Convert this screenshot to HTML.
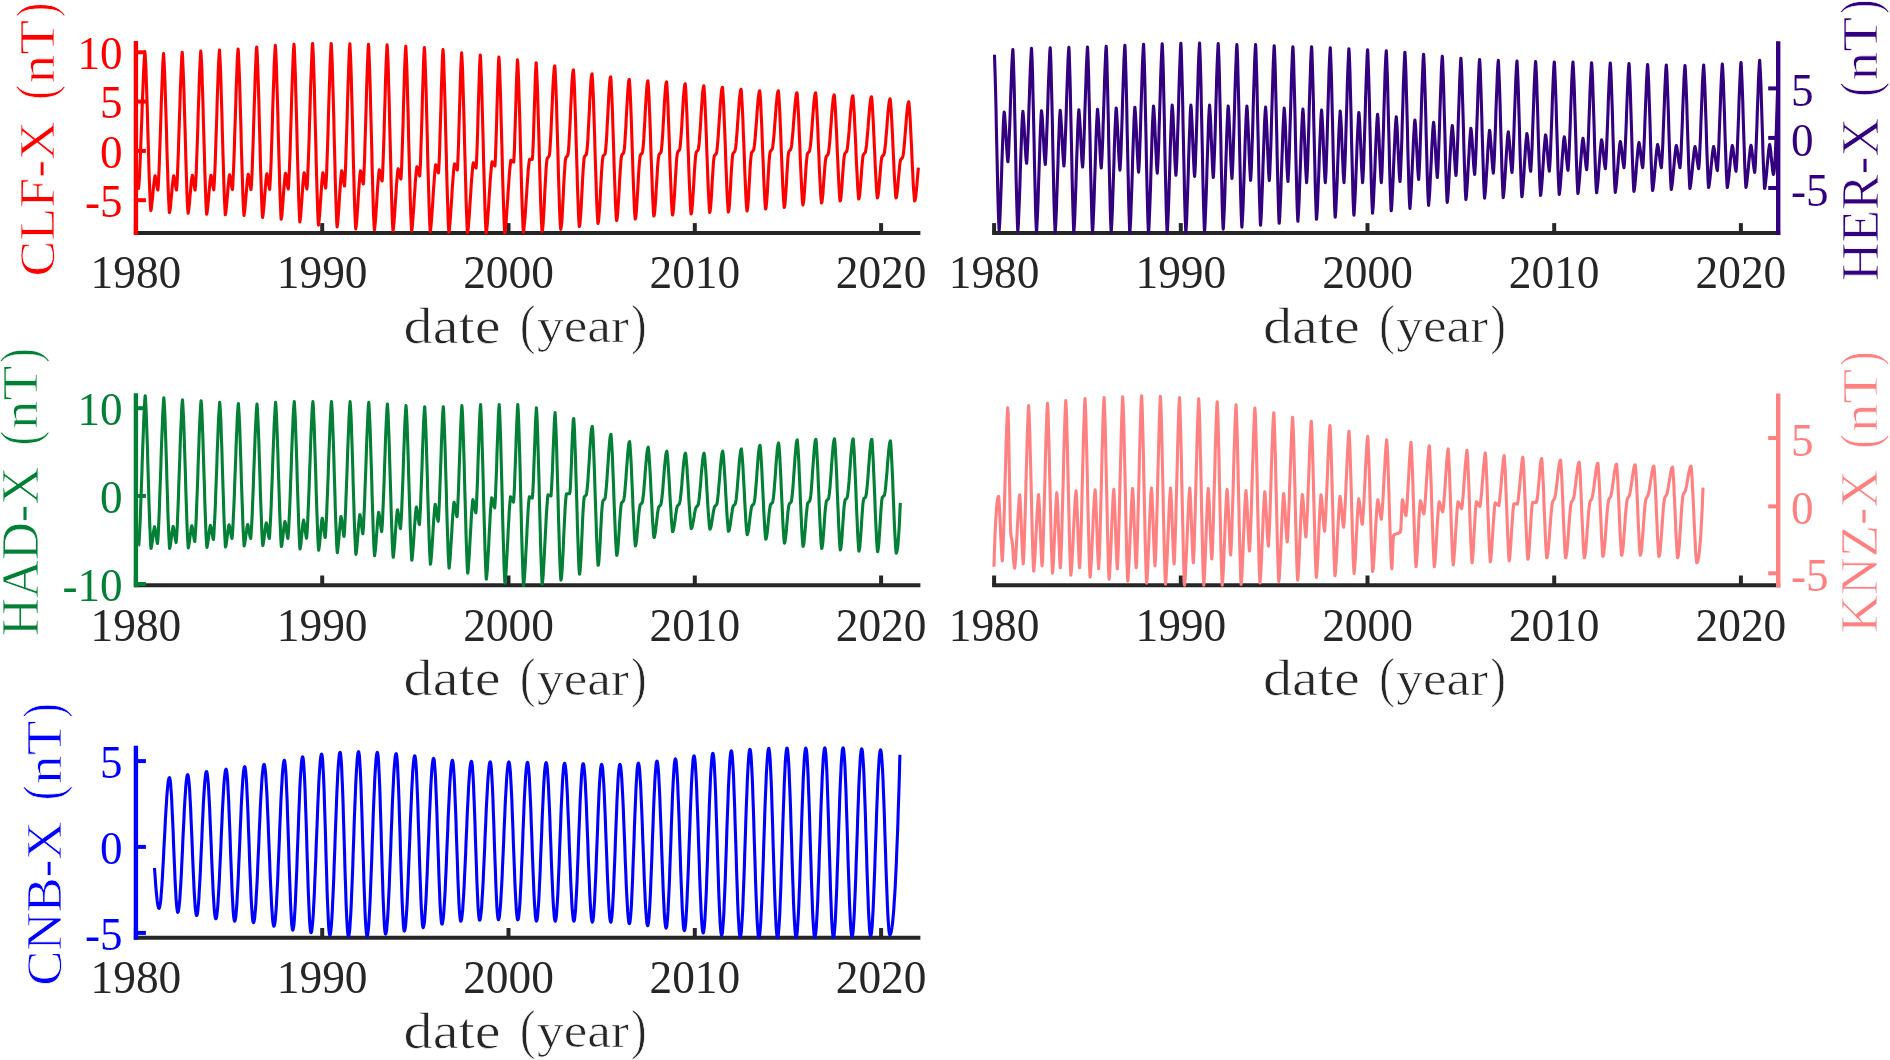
<!DOCTYPE html>
<html><head><meta charset="utf-8"><style>html,body{margin:0;padding:0;background:#fff;overflow:hidden;}svg{display:block;will-change:transform;}</style></head><body>
<svg width="1890" height="1060" viewBox="0 0 1890 1060">
<rect width="1890" height="1060" fill="#fff"/>
<defs>
<clipPath id="c0"><rect x="133.9" y="39.0" width="786.5" height="195.5"/></clipPath>
<clipPath id="c1"><rect x="992.1" y="39.2" width="788.1" height="195.3"/></clipPath>
<clipPath id="c2"><rect x="133.9" y="391.3" width="786.5" height="195.6"/></clipPath>
<clipPath id="c3"><rect x="992.1" y="391.5" width="788.1" height="195.4"/></clipPath>
<clipPath id="c4"><rect x="133.9" y="743.8" width="786.5" height="195.6"/></clipPath>
</defs>
<g font-family="'Liberation Serif', serif">
<line x1="133.9" y1="232.9" x2="920.4" y2="232.9" stroke="#262626" stroke-width="4"/>
<line x1="135.9" y1="232.9" x2="135.9" y2="223.1" stroke="#262626" stroke-width="4"/>
<text transform="translate(135.90 288.30) scale(0.965 1)" font-size="47" text-anchor="middle" fill="#262626">1980</text>
<line x1="322.2" y1="232.9" x2="322.2" y2="223.1" stroke="#262626" stroke-width="4"/>
<text transform="translate(322.20 288.30) scale(0.965 1)" font-size="47" text-anchor="middle" fill="#262626">1990</text>
<line x1="508.5" y1="232.9" x2="508.5" y2="223.1" stroke="#262626" stroke-width="4"/>
<text transform="translate(508.50 288.30) scale(0.965 1)" font-size="47" text-anchor="middle" fill="#262626">2000</text>
<line x1="694.8" y1="232.9" x2="694.8" y2="223.1" stroke="#262626" stroke-width="4"/>
<text transform="translate(694.80 288.30) scale(0.965 1)" font-size="47" text-anchor="middle" fill="#262626">2010</text>
<line x1="881.1" y1="232.9" x2="881.1" y2="223.1" stroke="#262626" stroke-width="4"/>
<text transform="translate(881.10 288.30) scale(0.965 1)" font-size="47" text-anchor="middle" fill="#262626">2020</text>
<line x1="135.9" y1="41.0" x2="135.9" y2="234.9" stroke="#ff0000" stroke-width="4.4"/>
<line x1="135.9" y1="52.3" x2="145.9" y2="52.3" stroke="#ff0000" stroke-width="4"/>
<text transform="translate(122.6 69.10) scale(0.96 1)" font-size="47" text-anchor="end" fill="#ff0000">10</text>
<line x1="135.9" y1="101.6" x2="145.9" y2="101.6" stroke="#ff0000" stroke-width="4"/>
<text transform="translate(122.6 118.40) scale(0.96 1)" font-size="47" text-anchor="end" fill="#ff0000">5</text>
<line x1="135.9" y1="150.9" x2="145.9" y2="150.9" stroke="#ff0000" stroke-width="4"/>
<text transform="translate(122.6 167.70) scale(0.96 1)" font-size="47" text-anchor="end" fill="#ff0000">0</text>
<line x1="135.9" y1="200.2" x2="145.9" y2="200.2" stroke="#ff0000" stroke-width="4"/>
<text transform="translate(122.6 217.00) scale(0.96 1)" font-size="47" text-anchor="end" fill="#ff0000">-5</text>
<path clip-path="url(#c0)" d="M137.8 188.4 138.1 188.5 138.5 188.5 138.9 184.9 139.3 179.4 139.6 172.6 140.0 164.7 140.4 156.0 140.7 146.6 141.1 136.8 141.5 126.6 141.9 116.3 142.2 106.1 142.6 96.1 143.0 86.6 143.4 77.7 143.7 69.6 144.1 62.5 144.5 56.6 144.8 52.4 144.9 51.8 145.2 55.0 145.6 61.8 146.0 70.4 146.3 80.5 146.7 91.7 147.1 103.8 147.5 116.5 147.8 129.6 148.2 142.6 148.6 155.5 148.9 167.7 149.3 179.2 149.7 189.6 150.1 198.6 150.4 205.9 150.8 210.6 150.8 210.6 151.2 209.0 151.5 206.5 151.9 203.5 152.3 199.9 152.7 196.1 153.0 192.2 153.4 188.3 153.8 184.7 154.2 181.3 154.5 178.5 154.9 176.4 155.1 175.8 155.3 176.2 155.6 177.8 156.0 179.9 156.4 182.3 156.8 184.7 157.1 187.0 157.5 188.9 157.9 190.0 157.9 190.0 158.3 185.8 158.6 179.2 159.0 171.1 159.4 161.8 159.7 151.5 160.1 140.5 160.5 129.1 160.9 117.4 161.2 105.9 161.6 94.8 162.0 84.3 162.4 74.7 162.7 66.3 163.1 59.3 163.5 54.3 163.6 53.6 163.8 56.8 164.2 63.6 164.6 72.2 165.0 82.3 165.3 93.6 165.7 105.7 166.1 118.4 166.5 131.5 166.8 144.6 167.2 157.5 167.6 169.8 167.9 181.2 168.3 191.7 168.7 200.7 169.1 208.0 169.4 212.7 169.4 212.7 169.8 211.0 170.2 208.4 170.6 205.1 170.9 201.4 171.3 197.4 171.7 193.2 172.0 189.1 172.4 185.2 172.8 181.7 173.2 178.7 173.5 176.5 173.7 175.8 173.9 176.2 174.3 177.8 174.7 179.9 175.0 182.3 175.4 184.7 175.8 187.0 176.1 188.9 176.5 190.0 176.5 190.0 176.9 185.8 177.3 179.1 177.6 170.9 178.0 161.5 178.4 151.1 178.7 140.0 179.1 128.4 179.5 116.7 179.9 105.1 180.2 93.8 180.6 83.2 181.0 73.5 181.4 65.0 181.7 57.9 182.1 52.9 182.2 52.2 182.5 55.4 182.8 62.3 183.2 71.1 183.6 81.3 184.0 92.7 184.3 105.0 184.7 117.9 185.1 131.1 185.5 144.4 185.8 157.4 186.2 169.8 186.6 181.5 186.9 192.0 187.3 201.1 187.7 208.6 188.1 213.3 188.1 213.3 188.4 211.6 188.8 208.9 189.2 205.5 189.6 201.7 189.9 197.5 190.3 193.2 190.7 189.0 191.0 185.0 191.4 181.3 191.8 178.3 192.2 176.0 192.3 175.3 192.5 175.8 192.9 177.4 193.3 179.5 193.7 182.0 194.0 184.5 194.4 186.9 194.8 188.8 195.1 190.0 195.1 190.0 195.5 185.7 195.9 179.0 196.3 170.8 196.6 161.3 197.0 150.8 197.4 139.6 197.8 127.9 198.1 116.1 198.5 104.4 198.9 93.1 199.2 82.4 199.6 72.6 200.0 64.0 200.4 56.9 200.7 51.8 200.8 51.1 201.1 54.4 201.5 61.3 201.9 70.2 202.2 80.6 202.6 92.1 203.0 104.6 203.3 117.6 203.7 131.0 204.1 144.5 204.5 157.6 204.8 170.3 205.2 182.0 205.6 192.7 205.9 202.0 206.3 209.5 206.7 214.3 206.7 214.3 207.1 212.5 207.4 209.8 207.8 206.3 208.2 202.4 208.6 198.1 208.9 193.7 209.3 189.3 209.7 185.2 210.0 181.5 210.4 178.4 210.8 176.0 211.0 175.3 211.2 175.8 211.5 177.4 211.9 179.5 212.3 181.9 212.7 184.4 213.0 186.7 213.4 188.6 213.8 189.8 213.8 189.8 214.1 185.5 214.5 178.8 214.9 170.5 215.3 160.9 215.6 150.4 216.0 139.1 216.4 127.4 216.8 115.5 217.1 103.7 217.5 92.3 217.9 81.5 218.2 71.7 218.6 63.1 219.0 55.9 219.4 50.8 219.5 50.1 219.7 53.4 220.1 60.4 220.5 69.4 220.9 79.8 221.2 91.5 221.6 104.0 222.0 117.2 222.3 130.8 222.7 144.3 223.1 157.6 223.5 170.3 223.8 182.2 224.2 193.0 224.6 202.4 225.0 210.0 225.3 214.8 225.3 214.8 225.7 213.0 226.1 210.1 226.4 206.6 226.8 202.5 227.2 198.2 227.6 193.7 227.9 189.2 228.3 185.0 228.7 181.2 229.0 177.9 229.4 175.5 229.6 174.8 229.8 175.3 230.2 176.9 230.5 179.1 230.9 181.6 231.3 184.1 231.7 186.5 232.0 188.4 232.4 189.6 232.4 189.6 232.8 185.3 233.1 178.5 233.5 170.2 233.9 160.5 234.3 149.9 234.6 138.6 235.0 126.8 235.4 114.9 235.8 103.0 236.1 91.5 236.5 80.7 236.9 70.8 237.2 62.1 237.6 54.9 238.0 49.8 238.1 49.1 238.4 52.4 238.7 59.5 239.1 68.6 239.5 79.1 239.9 90.9 240.2 103.6 240.6 116.9 241.0 130.5 241.3 144.2 241.7 157.7 242.1 170.5 242.5 182.5 242.8 193.4 243.2 202.9 243.6 210.5 244.0 215.4 244.0 215.4 244.3 213.6 244.7 210.6 245.1 207.0 245.4 202.8 245.8 198.3 246.2 193.7 246.6 189.1 246.9 184.8 247.3 180.8 247.7 177.5 248.1 175.0 248.2 174.3 248.4 174.8 248.8 176.5 249.2 178.7 249.5 181.2 249.9 183.9 250.3 186.3 250.7 188.3 251.0 189.5 251.0 189.5 251.4 185.1 251.8 178.3 252.2 169.8 252.5 160.0 252.9 149.3 253.3 137.8 253.6 125.8 254.0 113.7 254.4 101.7 254.8 90.0 255.1 79.1 255.5 69.0 255.9 60.2 256.2 52.9 256.6 47.7 256.7 47.0 257.0 50.4 257.4 57.7 257.7 67.0 258.1 77.8 258.5 89.8 258.9 102.8 259.2 116.5 259.6 130.5 260.0 144.5 260.3 158.3 260.7 171.5 261.1 183.8 261.5 194.9 261.8 204.6 262.2 212.5 262.6 217.5 262.6 217.5 263.0 215.5 263.3 212.4 263.7 208.5 264.1 204.1 264.4 199.3 264.8 194.4 265.2 189.5 265.6 184.9 265.9 180.8 266.3 177.2 266.7 174.6 266.9 173.8 267.1 174.3 267.4 176.0 267.8 178.3 268.2 180.9 268.5 183.5 268.9 186.0 269.3 188.0 269.7 189.3 269.7 189.3 270.0 184.9 270.4 177.9 270.8 169.4 271.2 159.5 271.5 148.7 271.9 137.0 272.3 125.0 272.6 112.7 273.0 100.5 273.4 88.8 273.8 77.7 274.1 67.6 274.5 58.7 274.9 51.3 275.3 46.0 275.3 45.3 275.6 48.8 276.0 56.2 276.4 65.7 276.7 76.7 277.1 89.0 277.5 102.3 277.9 116.2 278.2 130.5 278.6 144.8 279.0 158.9 279.4 172.3 279.7 184.9 280.1 196.3 280.5 206.2 280.8 214.2 281.2 219.3 281.2 219.3 281.6 217.2 282.0 213.9 282.3 209.9 282.7 205.2 283.1 200.2 283.4 195.0 283.8 189.9 284.2 185.0 284.6 180.6 284.9 176.9 285.3 174.1 285.5 173.3 285.7 173.8 286.1 175.5 286.4 177.8 286.8 180.5 287.2 183.2 287.5 185.7 287.9 187.7 288.3 189.0 288.3 189.0 288.7 184.6 289.0 177.6 289.4 169.0 289.8 159.1 290.2 148.2 290.5 136.5 290.9 124.3 291.3 112.0 291.6 99.8 292.0 88.0 292.4 76.9 292.8 66.7 293.1 57.7 293.5 50.3 293.9 45.0 294.0 44.3 294.3 47.8 294.6 55.5 295.0 65.1 295.4 76.4 295.7 89.0 296.1 102.5 296.5 116.7 296.9 131.3 297.2 145.9 297.6 160.3 298.0 174.0 298.4 186.9 298.7 198.5 299.1 208.6 299.5 216.8 299.8 222.0 299.8 222.0 300.2 219.8 300.6 216.3 301.0 211.9 301.3 206.9 301.7 201.6 302.1 196.0 302.5 190.5 302.8 185.3 303.2 180.6 303.6 176.7 303.9 173.7 304.1 172.8 304.3 173.3 304.7 175.1 305.1 177.5 305.4 180.2 305.8 183.0 306.2 185.6 306.6 187.7 306.9 189.0 306.9 189.0 307.3 184.5 307.7 177.5 308.0 168.9 308.4 158.9 308.8 147.9 309.2 136.2 309.5 124.0 309.9 111.6 310.3 99.3 310.6 87.4 311.0 76.3 311.4 66.0 311.8 57.0 312.1 49.5 312.5 44.2 312.6 43.5 312.9 47.1 313.3 54.9 313.6 64.8 314.0 76.3 314.4 89.1 314.7 103.0 315.1 117.5 315.5 132.4 315.9 147.4 316.2 162.0 316.6 176.1 317.0 189.2 317.4 201.1 317.7 211.4 318.1 219.8 318.5 225.1 318.5 225.1 318.8 222.9 319.2 219.3 319.6 214.9 320.0 209.9 320.3 204.5 320.7 198.8 321.1 193.2 321.5 187.7 321.8 182.7 322.2 178.4 322.6 174.9 322.9 172.8 322.9 172.8 323.3 174.1 323.7 176.1 324.1 178.6 324.4 181.2 324.8 183.7 325.2 185.9 325.6 187.6 325.7 188.0 325.9 185.9 326.3 179.6 326.7 171.4 327.0 161.6 327.4 150.7 327.8 138.9 328.2 126.5 328.5 113.8 328.9 101.2 329.3 89.0 329.7 77.4 330.0 66.8 330.4 57.5 330.8 49.7 331.1 44.2 331.2 43.5 331.5 47.2 331.9 55.0 332.3 65.0 332.6 76.6 333.0 89.6 333.4 103.6 333.8 118.3 334.1 133.4 334.5 148.5 334.9 163.3 335.2 177.5 335.6 190.7 336.0 202.7 336.4 213.2 336.7 221.6 337.1 227.0 337.1 227.0 337.5 224.7 337.8 221.1 338.2 216.6 338.6 211.5 339.0 205.9 339.3 200.1 339.7 194.2 340.1 188.5 340.5 183.2 340.8 178.4 341.2 174.4 341.6 171.5 341.7 170.8 341.9 171.4 342.3 173.2 342.7 175.4 343.1 178.0 343.4 180.6 343.8 183.0 344.2 184.9 344.5 186.0 344.6 185.8 344.9 180.6 345.3 173.0 345.7 163.6 346.0 152.9 346.4 141.1 346.8 128.7 347.2 115.9 347.5 103.0 347.9 90.5 348.3 78.6 348.7 67.8 349.0 58.2 349.4 50.2 349.8 44.5 349.9 43.8 350.1 47.5 350.5 55.4 350.9 65.5 351.3 77.3 351.6 90.3 352.0 104.5 352.4 119.3 352.8 134.5 353.1 149.7 353.5 164.7 353.9 179.0 354.2 192.4 354.6 204.5 355.0 215.0 355.4 223.6 355.7 229.0 355.7 229.0 356.1 226.8 356.5 223.2 356.9 218.8 357.2 213.7 357.6 208.2 358.0 202.4 358.3 196.5 358.7 190.8 359.1 185.3 359.5 180.3 359.8 176.0 360.2 172.6 360.5 170.8 360.6 170.9 361.0 172.1 361.3 173.9 361.7 176.0 362.1 178.3 362.4 180.5 362.8 182.4 363.2 183.7 363.3 184.0 363.6 181.3 363.9 174.4 364.3 165.5 364.7 155.1 365.0 143.4 365.4 131.0 365.8 118.1 366.2 105.0 366.5 92.2 366.9 80.1 367.3 68.9 367.7 59.0 368.0 50.9 368.4 45.1 368.5 44.3 368.8 48.0 369.1 56.0 369.5 66.1 369.9 77.8 370.3 91.0 370.6 105.1 371.0 120.0 371.4 135.2 371.8 150.5 372.1 165.5 372.5 179.9 372.9 193.3 373.2 205.4 373.6 216.0 374.0 224.5 374.4 230.0 374.4 230.0 374.7 227.8 375.1 224.3 375.5 219.9 375.9 214.9 376.2 209.5 376.6 203.7 377.0 197.8 377.3 192.0 377.7 186.5 378.1 181.3 378.5 176.8 378.8 173.0 379.2 170.2 379.3 169.8 379.6 170.4 380.0 171.7 380.3 173.4 380.7 175.3 381.1 177.2 381.4 179.0 381.8 180.3 382.1 181.0 382.2 180.4 382.6 174.7 382.9 166.4 383.3 156.4 383.7 145.1 384.1 132.7 384.4 119.8 384.8 106.7 385.2 93.7 385.5 81.3 385.9 69.9 386.3 59.8 386.7 51.5 387.0 45.6 387.1 44.8 387.4 48.5 387.8 56.5 388.2 66.6 388.5 78.4 388.9 91.5 389.3 105.7 389.6 120.6 390.0 135.8 390.4 151.1 390.8 166.1 391.1 180.5 391.5 194.0 391.9 206.1 392.2 216.7 392.6 225.2 393.0 230.7 393.0 230.7 393.4 228.5 393.7 225.1 394.1 220.8 394.5 215.9 394.9 210.5 395.2 204.9 395.6 199.0 396.0 193.2 396.3 187.6 396.7 182.3 397.1 177.6 397.5 173.5 397.8 170.3 398.1 168.8 398.2 168.9 398.6 169.9 399.0 171.3 399.3 173.0 399.7 174.8 400.1 176.5 400.4 177.9 400.8 178.9 400.9 179.0 401.2 175.6 401.6 168.1 401.9 158.7 402.3 147.6 402.7 135.5 403.1 122.5 403.4 109.3 403.8 96.1 404.2 83.5 404.5 71.9 404.9 61.6 405.3 53.0 405.7 47.0 405.8 46.2 406.0 49.9 406.4 57.8 406.8 67.9 407.2 79.6 407.5 92.6 407.9 106.7 408.3 121.5 408.6 136.7 409.0 151.9 409.4 166.8 409.8 181.1 410.1 194.5 410.5 206.6 410.9 217.1 411.3 225.6 411.6 231.0 411.6 231.0 412.0 228.8 412.4 225.4 412.7 221.2 413.1 216.3 413.5 211.0 413.9 205.3 414.2 199.5 414.6 193.6 415.0 187.9 415.3 182.5 415.7 177.5 416.1 173.2 416.5 169.6 416.8 167.1 416.9 166.8 417.2 167.3 417.6 168.5 418.0 169.9 418.3 171.5 418.7 173.0 419.1 174.4 419.4 175.5 419.7 176.0 419.8 175.0 420.2 168.7 420.6 159.9 420.9 149.4 421.3 137.5 421.7 124.7 422.1 111.5 422.4 98.3 422.8 85.5 423.2 73.7 423.5 63.2 423.9 54.5 424.3 48.4 424.4 47.6 424.7 51.3 425.0 59.1 425.4 69.2 425.8 80.8 426.2 93.8 426.5 107.8 426.9 122.6 427.3 137.7 427.6 152.8 428.0 167.6 428.4 181.9 428.8 195.1 429.1 207.2 429.5 217.6 429.9 226.1 430.3 231.5 430.3 231.5 430.6 229.3 431.0 225.9 431.4 221.7 431.7 216.9 432.1 211.6 432.5 205.9 432.9 200.1 433.2 194.2 433.6 188.4 434.0 182.8 434.4 177.6 434.7 173.0 435.1 169.1 435.5 166.0 435.7 164.8 435.8 165.0 436.2 165.8 436.6 167.0 437.0 168.3 437.3 169.7 437.7 171.1 438.1 172.2 438.5 172.9 438.5 173.0 438.8 168.8 439.2 161.0 439.6 151.0 439.9 139.6 440.3 127.1 440.7 114.0 441.1 100.7 441.4 87.9 441.8 76.0 442.2 65.4 442.5 56.6 442.9 50.4 443.0 49.6 443.3 53.2 443.7 61.1 444.0 71.0 444.4 82.6 444.8 95.5 445.2 109.4 445.5 124.1 445.9 139.1 446.3 154.1 446.6 168.9 447.0 183.0 447.4 196.2 447.8 208.1 448.1 218.5 448.5 226.9 448.9 232.3 448.9 232.3 449.3 230.2 449.6 226.8 450.0 222.7 450.4 217.9 450.7 212.7 451.1 207.1 451.5 201.3 451.9 195.4 452.2 189.6 452.6 183.9 453.0 178.7 453.4 173.9 453.7 169.7 454.1 166.2 454.5 163.9 454.5 163.8 454.8 164.2 455.2 165.0 455.6 166.0 456.0 167.1 456.3 168.1 456.7 169.0 457.1 169.8 457.3 170.0 457.5 168.5 457.8 161.8 458.2 152.7 458.6 141.8 458.9 129.7 459.3 116.9 459.7 103.8 460.1 91.1 460.4 79.1 460.8 68.5 461.2 59.7 461.6 53.5 461.6 52.7 461.9 56.3 462.3 64.0 462.7 73.8 463.0 85.3 463.4 98.0 463.8 111.8 464.2 126.2 464.5 141.0 464.9 155.8 465.3 170.4 465.7 184.3 466.0 197.4 466.4 209.2 466.8 219.4 467.1 227.7 467.5 233.0 467.5 233.0 467.9 230.9 468.3 227.6 468.6 223.5 469.0 218.9 469.4 213.7 469.7 208.2 470.1 202.4 470.5 196.6 470.9 190.8 471.2 185.1 471.6 179.7 472.0 174.8 472.4 170.3 472.7 166.6 473.1 163.7 473.3 162.8 473.5 162.9 473.8 163.5 474.2 164.3 474.6 165.1 475.0 166.0 475.3 166.9 475.7 167.6 476.1 168.0 476.1 168.0 476.5 163.1 476.8 154.8 477.2 144.5 477.6 132.7 477.9 120.0 478.3 106.9 478.7 94.0 479.1 81.9 479.4 71.1 479.8 62.1 480.2 55.8 480.3 55.0 480.6 58.6 480.9 66.2 481.3 75.9 481.7 87.2 482.0 99.8 482.4 113.4 482.8 127.7 483.2 142.4 483.5 157.0 483.9 171.5 484.3 185.2 484.7 198.1 485.0 209.8 485.4 219.9 485.8 228.2 486.1 233.4 486.1 233.4 486.5 231.3 486.9 228.1 487.3 224.1 487.6 219.6 488.0 214.5 488.4 209.1 488.8 203.4 489.1 197.6 489.5 191.8 489.9 186.1 490.2 180.7 490.6 175.6 491.0 171.1 491.4 167.1 491.7 163.9 492.1 161.8 492.1 161.8 492.5 162.1 492.9 162.7 493.2 163.4 493.6 164.1 494.0 164.8 494.3 165.4 494.7 165.9 494.9 166.0 495.1 163.9 495.5 156.6 495.8 146.9 496.2 135.5 496.6 123.0 496.9 109.9 497.3 96.8 497.7 84.5 498.1 73.4 498.4 64.3 498.8 57.8 498.9 57.0 499.2 60.5 499.6 68.1 499.9 77.6 500.3 88.8 500.7 101.3 501.0 114.7 501.4 128.8 501.8 143.2 502.2 157.7 502.5 171.9 502.9 185.6 503.3 198.3 503.7 209.8 504.0 219.8 504.4 227.9 504.8 233.1 504.8 233.1 505.1 231.1 505.5 227.9 505.9 224.0 506.3 219.6 506.6 214.6 507.0 209.3 507.4 203.7 507.8 198.0 508.1 192.3 508.5 186.6 508.9 181.1 509.2 176.0 509.6 171.3 510.0 167.1 510.4 163.6 510.7 161.0 510.9 160.3 511.1 160.4 511.5 160.6 511.9 160.8 512.2 161.1 512.6 161.4 513.0 161.7 513.3 161.9 513.7 162.0 513.7 161.9 514.1 156.3 514.5 147.6 514.8 137.0 515.2 124.9 515.6 112.2 516.0 99.4 516.3 87.2 516.7 76.2 517.1 67.0 517.4 60.6 517.5 59.8 517.8 63.2 518.2 70.6 518.6 80.0 518.9 91.0 519.3 103.1 519.7 116.3 520.1 130.1 520.4 144.3 520.8 158.5 521.2 172.4 521.5 185.7 521.9 198.2 522.3 209.5 522.7 219.3 523.0 227.2 523.4 232.3 523.4 232.3 523.8 230.3 524.1 227.1 524.5 223.2 524.9 218.8 525.3 213.8 525.6 208.5 526.0 203.0 526.4 197.2 526.8 191.5 527.1 185.8 527.5 180.4 527.9 175.2 528.2 170.5 528.6 166.3 529.0 162.8 529.4 160.1 529.6 159.3 529.7 159.3 530.1 159.3 530.5 159.4 530.9 159.4 531.2 159.4 531.6 159.5 532.0 159.5 532.3 159.5 532.3 159.5 532.7 154.4 533.1 146.3 533.5 136.2 533.8 124.8 534.2 112.7 534.6 100.5 535.0 88.9 535.3 78.4 535.7 69.7 536.1 63.6 536.2 62.8 536.4 66.2 536.8 73.4 537.2 82.5 537.6 93.2 537.9 105.1 538.3 118.0 538.7 131.5 539.1 145.3 539.4 159.2 539.8 172.8 540.2 185.8 540.5 198.0 540.9 209.0 541.3 218.6 541.7 226.4 542.0 231.3 542.0 231.3 542.4 230.3 542.8 227.5 543.2 223.1 543.5 217.5 543.9 210.9 544.3 203.7 544.6 196.2 545.0 188.6 545.4 181.3 545.8 174.4 546.1 168.4 546.5 163.6 546.9 160.1 547.3 158.4 547.3 158.4 547.6 157.8 548.0 157.4 548.4 157.0 548.7 156.6 549.1 156.0 549.1 156.0 549.5 154.2 549.9 150.6 550.2 145.4 550.6 138.9 551.0 131.5 551.3 123.4 551.7 114.8 552.1 106.2 552.5 97.7 552.8 89.6 553.2 82.2 553.6 75.9 554.0 70.9 554.3 67.4 554.7 65.9 554.8 65.8 555.1 69.1 555.4 76.1 555.8 85.0 556.2 95.4 556.6 106.9 556.9 119.4 557.3 132.5 557.7 145.9 558.1 159.4 558.4 172.6 558.8 185.2 559.2 197.1 559.5 207.8 559.9 217.1 560.3 224.6 560.7 229.4 560.7 229.4 561.0 228.4 561.4 225.6 561.8 221.3 562.2 215.8 562.5 209.4 562.9 202.3 563.3 194.9 563.6 187.4 564.0 180.2 564.4 173.5 564.8 167.6 565.1 162.8 565.5 159.4 565.9 157.7 565.9 157.7 566.3 157.1 566.6 156.7 567.0 156.3 567.4 155.9 567.7 155.3 567.7 155.3 568.1 153.6 568.5 150.1 568.9 145.2 569.2 139.1 569.6 132.0 570.0 124.3 570.4 116.2 570.7 108.0 571.1 99.9 571.5 92.3 571.8 85.4 572.2 79.4 572.6 74.6 573.0 71.4 573.3 69.9 573.4 69.8 573.7 72.9 574.1 79.6 574.5 88.2 574.8 98.1 575.2 109.2 575.6 121.1 575.9 133.7 576.3 146.5 576.7 159.4 577.1 172.1 577.4 184.2 577.8 195.5 578.2 205.8 578.5 214.7 578.9 221.9 579.3 226.5 579.3 226.5 579.7 225.5 580.0 222.8 580.4 218.6 580.8 213.3 581.2 207.0 581.5 200.2 581.9 193.0 582.3 185.7 582.6 178.7 583.0 172.1 583.4 166.4 583.8 161.7 584.1 158.4 584.5 156.7 584.5 156.7 584.9 156.1 585.3 155.7 585.6 155.3 586.0 154.9 586.4 154.3 586.4 154.3 586.7 152.6 587.1 149.3 587.5 144.7 587.9 138.9 588.2 132.3 588.6 125.0 589.0 117.4 589.4 109.7 589.7 102.1 590.1 94.9 590.5 88.4 590.8 82.8 591.2 78.3 591.6 75.3 592.0 73.9 592.1 73.8 592.3 76.8 592.7 83.2 593.1 91.3 593.5 100.8 593.8 111.4 594.2 122.8 594.6 134.8 594.9 147.1 595.3 159.4 595.7 171.5 596.1 183.1 596.4 193.9 596.8 203.7 597.2 212.2 597.6 219.1 597.9 223.5 597.9 223.5 598.3 222.6 598.7 220.0 599.0 215.9 599.4 210.8 599.8 204.8 600.2 198.1 600.5 191.2 600.9 184.2 601.3 177.4 601.6 171.1 602.0 165.6 602.4 161.1 602.8 157.8 603.1 156.2 603.1 156.2 603.5 155.6 603.9 155.2 604.3 154.8 604.6 154.4 605.0 153.8 605.0 153.8 605.4 152.2 605.7 149.0 606.1 144.5 606.5 139.0 606.9 132.7 607.2 125.7 607.6 118.4 608.0 111.1 608.4 103.8 608.7 97.0 609.1 90.8 609.5 85.4 609.8 81.1 610.2 78.2 610.6 76.9 610.7 76.8 611.0 79.7 611.3 85.8 611.7 93.7 612.1 102.8 612.5 112.9 612.8 123.9 613.2 135.4 613.6 147.2 613.9 159.1 614.3 170.7 614.7 181.8 615.1 192.2 615.4 201.6 615.8 209.8 616.2 216.4 616.6 220.6 616.6 220.6 616.9 219.7 617.3 217.2 617.7 213.3 618.0 208.3 618.4 202.4 618.8 196.0 619.2 189.3 619.5 182.5 619.9 175.9 620.3 169.7 620.7 164.4 621.0 160.0 621.4 156.8 621.8 155.2 621.8 155.2 622.1 154.6 622.5 154.2 622.9 153.8 623.3 153.4 623.6 152.8 623.6 152.8 624.0 151.2 624.4 148.2 624.8 143.9 625.1 138.6 625.5 132.5 625.9 125.9 626.2 119.0 626.6 112.0 627.0 105.1 627.4 98.5 627.7 92.6 628.1 87.5 628.5 83.4 628.8 80.6 629.2 79.4 629.3 79.3 629.6 82.1 630.0 88.1 630.3 95.7 630.7 104.5 631.1 114.4 631.5 125.1 631.8 136.2 632.2 147.7 632.6 159.2 632.9 170.5 633.3 181.3 633.7 191.4 634.1 200.5 634.4 208.5 634.8 214.9 635.2 219.0 635.2 219.0 635.6 218.1 635.9 215.7 636.3 211.9 636.7 207.0 637.0 201.3 637.4 195.0 637.8 188.4 638.2 181.8 638.5 175.4 638.9 169.4 639.3 164.2 639.7 159.9 640.0 156.8 640.4 155.2 640.4 155.2 640.8 154.6 641.1 154.2 641.5 153.8 641.9 153.4 642.3 152.8 642.3 152.8 642.6 151.2 643.0 148.3 643.4 144.1 643.8 138.9 644.1 132.9 644.5 126.4 644.9 119.6 645.2 112.8 645.6 106.0 646.0 99.6 646.4 93.8 646.7 88.8 647.1 84.8 647.5 82.1 647.9 80.9 647.9 80.8 648.2 83.5 648.6 89.3 649.0 96.6 649.3 105.2 649.7 114.8 650.1 125.1 650.5 135.9 650.8 147.0 651.2 158.1 651.6 169.1 652.0 179.5 652.3 189.3 652.7 198.1 653.1 205.8 653.4 212.0 653.8 216.0 653.8 216.0 654.2 215.2 654.6 212.8 654.9 209.1 655.3 204.5 655.7 199.0 656.0 193.0 656.4 186.7 656.8 180.3 657.2 174.2 657.5 168.4 657.9 163.4 658.3 159.2 658.7 156.3 659.0 154.7 659.0 154.7 659.4 154.1 659.8 153.7 660.1 153.3 660.5 152.9 660.9 152.3 660.9 152.3 661.3 150.8 661.6 147.8 662.0 143.7 662.4 138.6 662.8 132.8 663.1 126.5 663.5 119.8 663.9 113.1 664.2 106.5 664.6 100.2 665.0 94.5 665.4 89.6 665.7 85.7 666.1 83.1 666.5 81.9 666.6 81.8 666.9 84.5 667.2 90.2 667.6 97.4 668.0 105.9 668.3 115.3 668.7 125.4 669.1 136.1 669.5 147.0 669.8 158.0 670.2 168.7 670.6 179.0 671.0 188.7 671.3 197.4 671.7 205.0 672.1 211.1 672.4 215.0 672.4 215.0 672.8 214.1 673.2 211.7 673.6 208.0 673.9 203.2 674.3 197.6 674.7 191.4 675.1 184.9 675.4 178.4 675.8 172.1 676.2 166.2 676.5 161.0 676.9 156.8 677.3 153.8 677.7 152.2 677.7 152.2 678.0 151.6 678.4 151.2 678.8 150.8 679.2 150.4 679.5 149.8 679.5 149.8 679.9 148.3 680.3 145.5 680.6 141.7 681.0 136.9 681.4 131.4 681.8 125.5 682.1 119.3 682.5 113.0 682.9 106.8 683.2 101.0 683.6 95.7 684.0 91.1 684.4 87.5 684.7 85.0 685.1 83.8 685.2 83.8 685.5 86.4 685.9 92.0 686.2 99.1 686.6 107.3 687.0 116.5 687.3 126.4 687.7 136.9 688.1 147.6 688.5 158.3 688.8 168.8 689.2 178.9 689.6 188.3 690.0 196.8 690.3 204.2 690.7 210.2 691.1 214.0 691.1 214.0 691.4 213.2 691.8 210.8 692.2 207.1 692.6 202.4 692.9 196.9 693.3 190.8 693.7 184.4 694.1 178.0 694.4 171.8 694.8 166.0 695.2 160.9 695.5 156.8 695.9 153.8 696.3 152.2 696.3 152.2 696.7 151.6 697.0 151.2 697.4 150.8 697.8 150.4 698.2 149.8 698.2 149.8 698.5 148.3 698.9 145.6 699.3 141.9 699.6 137.2 700.0 132.0 700.4 126.2 700.8 120.2 701.1 114.1 701.5 108.1 701.9 102.4 702.3 97.3 702.6 92.9 703.0 89.4 703.4 86.9 703.7 85.8 703.8 85.8 704.1 88.3 704.5 93.8 704.9 100.6 705.2 108.7 705.6 117.6 706.0 127.3 706.4 137.4 706.7 147.8 707.1 158.3 707.5 168.5 707.8 178.3 708.2 187.5 708.6 195.7 709.0 202.9 709.3 208.8 709.7 212.5 709.7 212.5 710.1 211.5 710.4 208.8 710.8 204.7 711.2 199.5 711.6 193.5 711.9 187.1 712.3 180.5 712.7 174.1 713.1 168.2 713.4 163.1 713.8 159.1 714.2 156.6 714.4 156.0 714.5 155.7 714.9 155.1 715.3 154.8 715.7 154.4 716.0 153.9 716.2 153.6 716.4 153.1 716.8 151.2 717.2 148.3 717.5 144.5 717.9 140.0 718.3 135.0 718.6 129.6 719.0 123.9 719.4 118.2 719.8 112.5 720.1 107.0 720.5 101.9 720.9 97.3 721.3 93.4 721.6 90.4 722.0 88.3 722.4 87.3 722.5 87.3 722.7 89.8 723.1 95.1 723.5 101.9 723.9 109.8 724.2 118.6 724.6 128.1 725.0 138.1 725.4 148.4 725.7 158.6 726.1 168.7 726.5 178.3 726.8 187.3 727.2 195.5 727.6 202.6 728.0 208.3 728.3 212.0 728.3 212.0 728.7 211.0 729.1 208.2 729.5 204.0 729.8 198.6 730.2 192.4 730.6 185.8 730.9 179.0 731.3 172.4 731.7 166.3 732.1 161.0 732.4 156.9 732.8 154.3 733.0 153.7 733.2 153.4 733.6 152.8 733.9 152.5 734.3 152.1 734.7 151.6 734.9 151.3 735.0 150.8 735.4 149.0 735.8 146.2 736.2 142.7 736.5 138.5 736.9 133.8 737.3 128.7 737.6 123.4 738.0 118.1 738.4 112.8 738.8 107.7 739.1 102.9 739.5 98.6 739.9 95.0 740.3 92.2 740.6 90.2 741.0 89.3 741.1 89.3 741.4 91.7 741.7 96.9 742.1 103.6 742.5 111.3 742.9 119.9 743.2 129.2 743.6 138.9 744.0 148.9 744.4 158.9 744.7 168.7 745.1 178.2 745.5 186.9 745.8 194.9 746.2 201.8 746.6 207.4 747.0 211.0 747.0 211.0 747.3 210.0 747.7 207.2 748.1 202.9 748.5 197.6 748.8 191.4 749.2 184.7 749.6 177.9 749.9 171.3 750.3 165.2 750.7 159.9 751.1 155.8 751.4 153.2 751.6 152.6 751.8 152.3 752.2 151.7 752.6 151.4 752.9 151.0 753.3 150.5 753.5 150.2 753.7 149.7 754.0 147.9 754.4 145.3 754.8 141.9 755.2 137.9 755.5 133.3 755.9 128.5 756.3 123.4 756.7 118.3 757.0 113.2 757.4 108.4 757.8 103.8 758.1 99.7 758.5 96.3 758.9 93.5 759.3 91.7 759.6 90.8 759.7 90.8 760.0 93.2 760.4 98.2 760.8 104.7 761.1 112.2 761.5 120.5 761.9 129.5 762.2 139.0 762.6 148.7 763.0 158.4 763.4 168.0 763.7 177.1 764.1 185.6 764.5 193.4 764.8 200.1 765.2 205.5 765.6 209.0 765.6 209.0 766.0 208.0 766.3 205.3 766.7 201.1 767.1 195.8 767.5 189.7 767.8 183.2 768.2 176.5 768.6 170.0 768.9 164.0 769.3 158.8 769.7 154.8 770.1 152.2 770.3 151.6 770.4 151.3 770.8 150.7 771.2 150.4 771.6 150.0 771.9 149.5 772.1 149.2 772.3 148.7 772.7 147.0 773.0 144.3 773.4 141.0 773.8 137.0 774.2 132.6 774.5 127.8 774.9 122.9 775.3 117.8 775.7 112.8 776.0 108.0 776.4 103.6 776.8 99.6 777.1 96.2 777.5 93.5 777.9 91.7 778.3 90.8 778.4 90.8 778.6 93.1 779.0 98.1 779.4 104.5 779.8 111.9 780.1 120.1 780.5 129.0 780.9 138.4 781.2 147.9 781.6 157.6 782.0 167.0 782.4 176.0 782.7 184.4 783.1 192.1 783.5 198.7 783.9 204.1 784.2 207.5 784.2 207.5 784.6 206.5 785.0 203.9 785.3 199.8 785.7 194.7 786.1 188.8 786.5 182.4 786.8 175.9 787.2 169.6 787.6 163.7 787.9 158.7 788.3 154.7 788.7 152.2 788.9 151.6 789.1 151.3 789.4 150.7 789.8 150.4 790.2 150.0 790.6 149.5 790.7 149.2 790.9 148.7 791.3 147.0 791.7 144.5 792.0 141.2 792.4 137.4 792.8 133.1 793.2 128.5 793.5 123.7 793.9 118.8 794.3 114.0 794.7 109.4 795.0 105.1 795.4 101.3 795.8 98.0 796.1 95.4 796.5 93.6 796.9 92.8 797.0 92.8 797.3 95.0 797.6 99.8 798.0 105.9 798.4 113.1 798.8 121.0 799.1 129.5 799.5 138.5 799.9 147.7 800.2 157.0 800.6 166.0 801.0 174.7 801.4 182.8 801.7 190.2 802.1 196.5 802.5 201.7 802.9 205.0 802.9 205.0 803.2 204.1 803.6 201.7 804.0 198.0 804.3 193.3 804.7 187.9 805.1 182.0 805.5 176.1 805.8 170.3 806.2 164.9 806.6 160.3 807.0 156.6 807.3 154.3 807.5 153.7 807.7 153.4 808.1 152.8 808.4 152.5 808.8 152.1 809.2 151.6 809.4 151.3 809.6 150.8 809.9 149.1 810.3 146.4 810.7 143.1 811.1 139.1 811.4 134.7 811.8 129.9 812.2 124.9 812.5 119.9 812.9 114.9 813.3 110.1 813.7 105.6 814.0 101.6 814.4 98.2 814.8 95.5 815.1 93.7 815.5 92.8 815.6 92.8 815.9 95.0 816.3 99.7 816.6 105.7 817.0 112.7 817.4 120.5 817.8 128.9 818.1 137.7 818.5 146.8 818.9 155.8 819.2 164.7 819.6 173.3 820.0 181.2 820.4 188.4 820.7 194.7 821.1 199.8 821.5 203.0 821.5 203.0 821.9 202.2 822.2 200.0 822.6 196.7 823.0 192.5 823.3 187.7 823.7 182.4 824.1 177.1 824.5 171.9 824.8 167.0 825.2 162.8 825.6 159.5 826.0 157.4 826.1 156.8 826.3 156.5 826.7 156.0 827.1 155.6 827.4 155.2 827.8 154.7 828.0 154.4 828.2 153.9 828.6 152.1 828.9 149.5 829.3 146.1 829.7 142.0 830.1 137.5 830.4 132.6 830.8 127.6 831.2 122.4 831.5 117.3 831.9 112.4 832.3 107.9 832.7 103.8 833.0 100.3 833.4 97.5 833.8 95.7 834.2 94.8 834.2 94.8 834.5 96.9 834.9 101.5 835.3 107.2 835.6 114.0 836.0 121.5 836.4 129.6 836.8 138.1 837.1 146.8 837.5 155.5 837.9 164.1 838.3 172.3 838.6 180.0 839.0 187.0 839.4 193.0 839.7 197.9 840.1 201.0 840.1 201.0 840.5 200.2 840.9 198.0 841.2 194.6 841.6 190.2 842.0 185.3 842.3 179.9 842.7 174.4 843.1 169.1 843.5 164.1 843.8 159.8 844.2 156.5 844.6 154.3 844.8 153.7 845.0 153.4 845.3 152.9 845.7 152.5 846.1 152.1 846.4 151.6 846.6 151.3 846.8 150.8 847.2 149.1 847.6 146.6 847.9 143.4 848.3 139.7 848.7 135.4 849.1 130.9 849.4 126.2 849.8 121.4 850.2 116.7 850.5 112.1 850.9 107.9 851.3 104.1 851.7 100.9 852.0 98.3 852.4 96.6 852.8 95.8 852.9 95.8 853.2 97.9 853.5 102.3 853.9 107.9 854.3 114.4 854.6 121.7 855.0 129.6 855.4 137.9 855.8 146.3 856.1 154.8 856.5 163.2 856.9 171.1 857.3 178.6 857.6 185.3 858.0 191.2 858.4 196.0 858.7 199.0 858.7 199.0 859.1 198.3 859.5 196.2 859.9 193.0 860.2 189.0 860.6 184.3 861.0 179.3 861.4 174.2 861.7 169.2 862.1 164.6 862.5 160.5 862.8 157.3 863.2 155.3 863.4 154.7 863.6 154.4 864.0 153.9 864.3 153.5 864.7 153.1 865.1 152.6 865.3 152.3 865.5 151.8 865.8 150.1 866.2 147.6 866.6 144.4 866.9 140.7 867.3 136.4 867.7 131.9 868.1 127.2 868.4 122.4 868.8 117.7 869.2 113.1 869.5 108.9 869.9 105.1 870.3 101.9 870.7 99.3 871.0 97.6 871.4 96.8 871.5 96.8 871.8 98.8 872.2 103.2 872.5 108.7 872.9 115.1 873.3 122.2 873.6 129.9 874.0 138.0 874.4 146.4 874.8 154.7 875.1 162.9 875.5 170.7 875.9 178.0 876.3 184.6 876.6 190.4 877.0 195.0 877.4 198.0 877.4 198.0 877.7 197.3 878.1 195.4 878.5 192.4 878.9 188.7 879.2 184.4 879.6 179.8 880.0 175.0 880.4 170.4 880.7 166.1 881.1 162.3 881.5 159.3 881.8 157.3 882.0 156.8 882.2 156.5 882.6 156.0 883.0 155.6 883.3 155.2 883.7 154.7 883.9 154.4 884.1 153.9 884.5 152.2 884.8 149.7 885.2 146.5 885.6 142.7 885.9 138.5 886.3 134.0 886.7 129.3 887.1 124.5 887.4 119.7 887.8 115.2 888.2 110.9 888.6 107.1 888.9 103.9 889.3 101.3 889.7 99.6 890.0 98.8 890.1 98.8 890.4 100.8 890.8 105.0 891.2 110.4 891.5 116.7 891.9 123.7 892.3 131.3 892.7 139.2 893.0 147.4 893.4 155.5 893.8 163.6 894.1 171.2 894.5 178.4 894.9 184.9 895.3 190.5 895.6 195.1 896.0 198.0 896.0 198.0 896.4 197.4 896.7 195.6 897.1 192.9 897.5 189.4 897.9 185.5 898.2 181.2 898.6 176.8 899.0 172.5 899.4 168.6 899.7 165.1 900.1 162.3 900.5 160.4 900.7 159.9 900.8 159.6 901.2 159.1 901.6 158.7 902.0 158.3 902.3 157.8 902.5 157.5 902.7 157.0 903.1 155.3 903.5 152.8 903.8 149.6 904.2 145.8 904.6 141.6 904.9 137.0 905.3 132.3 905.7 127.5 906.1 122.8 906.4 118.2 906.8 114.0 907.2 110.1 907.6 106.9 907.9 104.4 908.3 102.6 908.7 101.8 908.8 101.8 909.0 103.8 909.4 108.0 909.8 113.4 910.2 119.7 910.5 126.7 910.9 134.3 911.3 142.2 911.7 150.4 912.0 158.5 912.4 166.6 912.8 174.2 913.1 181.4 913.5 187.9 913.9 193.5 914.3 198.1 914.6 201.0 914.6 201.0 915.0 200.4 915.4 198.8 915.8 196.3 916.1 193.1 916.5 189.3 916.9 185.2 917.2 180.8 917.6 176.3 918.0 171.9 918.4 167.7" fill="none" stroke="#ff0000" stroke-width="3.1" stroke-linejoin="round" stroke-linecap="butt"/>
<text transform="translate(403.60 342.61) scale(1.1536 0.9906)" font-size="50.5" fill="#262626" stroke="#fff" stroke-width="0.7">date</text>
<text transform="translate(519.96 343.19) scale(0.9175 1.0985)" font-size="50.5" fill="#262626" stroke="#fff" stroke-width="0.7">(</text>
<text transform="translate(536.95 342.46) scale(1.0567 0.9483)" font-size="50.5" fill="#262626" stroke="#fff" stroke-width="0.7">year</text>
<text transform="translate(631.32 343.19) scale(0.9098 1.0985)" font-size="50.5" fill="#262626" stroke="#fff" stroke-width="0.7">)</text>
<text transform="translate(53.60 274.20) rotate(-90) translate(-2.21 -0.00) scale(1.0649 1.0168)" font-size="50.5" fill="#ff0000" stroke="#fff" stroke-width="0.7">CLF-X</text>
<text transform="translate(53.60 274.20) rotate(-90) translate(174.35 0.61) scale(0.8789 1.0963)" font-size="50.5" fill="#ff0000" stroke="#fff" stroke-width="0.7">(</text>
<text transform="translate(53.60 274.20) rotate(-90) translate(190.89 0.00) scale(1.1275 1.0222)" font-size="50.5" fill="#ff0000" stroke="#fff" stroke-width="0.7">nT</text>
<text transform="translate(53.60 274.20) rotate(-90) translate(256.99 0.61) scale(0.8635 1.0963)" font-size="50.5" fill="#ff0000" stroke="#fff" stroke-width="0.7">)</text>
<line x1="992.1" y1="232.9" x2="1780.2" y2="232.9" stroke="#262626" stroke-width="4"/>
<line x1="994.1" y1="232.9" x2="994.1" y2="223.1" stroke="#262626" stroke-width="4"/>
<text transform="translate(994.10 288.30) scale(0.965 1)" font-size="47" text-anchor="middle" fill="#262626">1980</text>
<line x1="1180.8" y1="232.9" x2="1180.8" y2="223.1" stroke="#262626" stroke-width="4"/>
<text transform="translate(1180.80 288.30) scale(0.965 1)" font-size="47" text-anchor="middle" fill="#262626">1990</text>
<line x1="1367.5" y1="232.9" x2="1367.5" y2="223.1" stroke="#262626" stroke-width="4"/>
<text transform="translate(1367.50 288.30) scale(0.965 1)" font-size="47" text-anchor="middle" fill="#262626">2000</text>
<line x1="1554.2" y1="232.9" x2="1554.2" y2="223.1" stroke="#262626" stroke-width="4"/>
<text transform="translate(1554.20 288.30) scale(0.965 1)" font-size="47" text-anchor="middle" fill="#262626">2010</text>
<line x1="1740.9" y1="232.9" x2="1740.9" y2="223.1" stroke="#262626" stroke-width="4"/>
<text transform="translate(1740.90 288.30) scale(0.965 1)" font-size="47" text-anchor="middle" fill="#262626">2020</text>
<line x1="1778.2" y1="41.2" x2="1778.2" y2="234.9" stroke="#33007f" stroke-width="4.4"/>
<line x1="1778.2" y1="88.4" x2="1768.2" y2="88.4" stroke="#33007f" stroke-width="4"/>
<text transform="translate(1791.0 106.00) scale(0.96 1)" font-size="47" text-anchor="start" fill="#33007f">5</text>
<line x1="1778.2" y1="137.9" x2="1768.2" y2="137.9" stroke="#33007f" stroke-width="4"/>
<text transform="translate(1791.0 155.50) scale(0.96 1)" font-size="47" text-anchor="start" fill="#33007f">0</text>
<line x1="1778.2" y1="188.0" x2="1768.2" y2="188.0" stroke="#33007f" stroke-width="4"/>
<text transform="translate(1791.0 205.60) scale(0.96 1)" font-size="47" text-anchor="start" fill="#33007f">-5</text>
<path clip-path="url(#c1)" d="M994.5 54.8 994.8 64.6 995.2 77.1 995.6 91.6 996.0 107.7 996.3 124.8 996.7 142.4 997.1 160.0 997.5 176.9 997.8 192.6 998.2 206.7 998.6 218.6 999.0 227.6 999.1 230.2 999.3 228.5 999.7 222.8 1000.1 215.2 1000.4 206.1 1000.8 196.0 1001.2 185.2 1001.6 173.9 1001.9 162.6 1002.3 151.5 1002.7 140.9 1003.1 131.4 1003.4 123.0 1003.8 116.2 1004.2 112.0 1004.2 112.0 1004.6 114.7 1004.9 119.0 1005.3 124.4 1005.7 130.4 1006.0 136.9 1006.4 143.3 1006.8 149.3 1007.2 154.7 1007.5 159.0 1007.9 161.8 1007.9 161.8 1008.3 157.6 1008.7 151.0 1009.0 142.9 1009.4 133.5 1009.8 123.3 1010.2 112.5 1010.5 101.5 1010.9 90.7 1011.3 80.3 1011.6 70.7 1012.0 62.2 1012.4 55.2 1012.8 50.2 1012.9 49.5 1013.1 54.1 1013.5 64.0 1013.9 76.6 1014.3 91.3 1014.6 107.5 1015.0 124.8 1015.4 142.5 1015.8 160.2 1016.1 177.2 1016.5 193.1 1016.9 207.3 1017.3 219.3 1017.6 228.4 1017.8 231.0 1018.0 229.3 1018.4 223.5 1018.7 215.8 1019.1 206.7 1019.5 196.4 1019.9 185.5 1020.2 174.1 1020.6 162.6 1021.0 151.3 1021.4 140.7 1021.7 131.0 1022.1 122.5 1022.5 115.7 1022.9 111.3 1022.9 111.3 1023.2 114.2 1023.6 118.7 1024.0 124.3 1024.3 130.6 1024.7 137.3 1025.1 144.0 1025.5 150.3 1025.8 155.9 1026.2 160.5 1026.6 163.3 1026.6 163.3 1027.0 159.0 1027.3 152.3 1027.7 143.9 1028.1 134.4 1028.5 123.9 1028.8 112.9 1029.2 101.6 1029.6 90.5 1029.9 79.9 1030.3 70.0 1030.7 61.4 1031.1 54.2 1031.4 49.1 1031.5 48.4 1031.8 53.0 1032.2 63.0 1032.6 75.8 1032.9 90.6 1033.3 107.0 1033.7 124.4 1034.1 142.4 1034.4 160.2 1034.8 177.5 1035.2 193.5 1035.5 207.9 1035.9 220.0 1036.3 229.1 1036.5 231.8 1036.7 230.1 1037.0 224.2 1037.4 216.4 1037.8 207.2 1038.2 196.9 1038.5 185.7 1038.9 174.2 1039.3 162.6 1039.7 151.2 1040.0 140.4 1040.4 130.6 1040.8 122.0 1041.1 115.1 1041.5 110.7 1041.5 110.7 1041.9 113.7 1042.3 118.3 1042.6 124.1 1043.0 130.7 1043.4 137.6 1043.8 144.5 1044.1 151.1 1044.5 156.9 1044.9 161.6 1045.3 164.5 1045.3 164.5 1045.6 160.2 1046.0 153.3 1046.4 144.9 1046.7 135.1 1047.1 124.5 1047.5 113.3 1047.9 101.9 1048.2 90.6 1048.6 79.8 1049.0 69.8 1049.4 61.0 1049.7 53.7 1050.1 48.5 1050.2 47.8 1050.5 52.4 1050.9 62.5 1051.2 75.3 1051.6 90.2 1052.0 106.7 1052.4 124.2 1052.7 142.2 1053.1 160.2 1053.5 177.5 1053.8 193.6 1054.2 208.1 1054.6 220.3 1055.0 229.4 1055.2 232.1 1055.3 230.4 1055.7 224.5 1056.1 216.6 1056.5 207.3 1056.8 197.0 1057.2 185.8 1057.6 174.2 1058.0 162.5 1058.3 151.0 1058.7 140.2 1059.1 130.3 1059.4 121.7 1059.8 114.7 1060.2 110.3 1060.2 110.3 1060.6 113.4 1060.9 118.2 1061.3 124.2 1061.7 131.0 1062.1 138.2 1062.4 145.4 1062.8 152.1 1063.2 158.1 1063.6 163.0 1063.9 166.0 1063.9 166.0 1064.3 161.6 1064.7 154.7 1065.0 146.1 1065.4 136.2 1065.8 125.4 1066.2 114.0 1066.5 102.4 1066.9 90.9 1067.3 79.9 1067.7 69.7 1068.0 60.8 1068.4 53.3 1068.8 48.1 1068.9 47.4 1069.2 52.0 1069.5 62.1 1069.9 74.9 1070.3 89.9 1070.6 106.4 1071.0 124.0 1071.4 142.0 1071.8 160.0 1072.1 177.4 1072.5 193.5 1072.9 208.0 1073.3 220.2 1073.6 229.4 1073.8 232.1 1074.0 230.4 1074.4 224.4 1074.8 216.6 1075.1 207.2 1075.5 196.8 1075.9 185.5 1076.2 173.9 1076.6 162.1 1077.0 150.6 1077.4 139.7 1077.7 129.8 1078.1 121.1 1078.5 114.1 1078.9 109.7 1078.9 109.7 1079.2 112.8 1079.6 117.8 1080.0 124.0 1080.4 131.0 1080.7 138.3 1081.1 145.7 1081.5 152.7 1081.8 158.8 1082.2 163.8 1082.6 167.0 1082.6 167.0 1083.0 162.5 1083.3 155.5 1083.7 146.8 1084.1 136.8 1084.5 125.8 1084.8 114.3 1085.2 102.6 1085.6 90.9 1086.0 79.8 1086.3 69.6 1086.7 60.5 1087.1 53.0 1087.4 47.7 1087.5 47.0 1087.8 51.6 1088.2 61.7 1088.6 74.5 1088.9 89.5 1089.3 106.0 1089.7 123.6 1090.1 141.6 1090.4 159.6 1090.8 177.0 1091.2 193.1 1091.6 207.6 1091.9 219.8 1092.3 229.0 1092.5 231.7 1092.7 230.0 1093.1 224.0 1093.4 216.2 1093.8 206.8 1094.2 196.4 1094.5 185.1 1094.9 173.5 1095.3 161.7 1095.7 150.2 1096.0 139.3 1096.4 129.4 1096.8 120.7 1097.2 113.7 1097.5 109.3 1097.5 109.3 1097.9 112.5 1098.3 117.6 1098.7 123.9 1099.0 131.1 1099.4 138.6 1099.8 146.2 1100.1 153.3 1100.5 159.7 1100.9 164.8 1101.3 168.0 1101.3 168.0 1101.6 163.5 1102.0 156.3 1102.4 147.5 1102.8 137.4 1103.1 126.3 1103.5 114.6 1103.9 102.7 1104.3 90.9 1104.6 79.7 1105.0 69.3 1105.4 60.1 1105.7 52.5 1106.1 47.1 1106.2 46.4 1106.5 51.0 1106.9 61.2 1107.2 74.1 1107.6 89.1 1108.0 105.7 1108.4 123.3 1108.7 141.5 1109.1 159.6 1109.5 177.0 1109.9 193.3 1110.2 207.8 1110.6 220.1 1111.0 229.3 1111.2 232.0 1111.3 230.3 1111.7 224.2 1112.1 216.3 1112.5 206.8 1112.8 196.2 1113.2 184.8 1113.6 173.0 1114.0 161.1 1114.3 149.4 1114.7 138.4 1115.1 128.3 1115.5 119.6 1115.8 112.5 1116.2 108.0 1116.2 108.0 1116.6 111.4 1116.9 116.8 1117.3 123.5 1117.7 131.0 1118.1 139.0 1118.4 147.1 1118.8 154.6 1119.2 161.3 1119.6 166.7 1119.9 170.1 1119.9 170.1 1120.3 165.5 1120.7 158.2 1121.1 149.1 1121.4 138.7 1121.8 127.3 1122.2 115.3 1122.5 103.1 1122.9 91.0 1123.3 79.4 1123.7 68.8 1124.0 59.3 1124.4 51.5 1124.8 46.0 1124.9 45.3 1125.2 50.0 1125.5 60.1 1125.9 73.1 1126.3 88.3 1126.7 105.0 1127.0 122.8 1127.4 141.1 1127.8 159.3 1128.2 176.9 1128.5 193.3 1128.9 207.9 1129.3 220.3 1129.6 229.6 1129.8 232.3 1130.0 230.6 1130.4 224.5 1130.8 216.4 1131.1 206.9 1131.5 196.2 1131.9 184.7 1132.3 172.8 1132.6 160.7 1133.0 149.0 1133.4 137.9 1133.8 127.7 1134.1 118.8 1134.5 111.7 1134.9 107.2 1134.9 107.2 1135.2 110.7 1135.6 116.4 1136.0 123.4 1136.4 131.3 1136.7 139.7 1137.1 148.0 1137.5 155.9 1137.9 163.0 1138.2 168.6 1138.6 172.2 1138.6 172.2 1139.0 167.4 1139.4 159.9 1139.7 150.6 1140.1 140.0 1140.5 128.3 1140.8 116.1 1141.2 103.5 1141.6 91.2 1142.0 79.3 1142.3 68.4 1142.7 58.7 1143.1 50.8 1143.5 45.1 1143.6 44.3 1143.8 49.1 1144.2 59.4 1144.6 72.5 1145.0 87.7 1145.3 104.6 1145.7 122.5 1146.1 141.0 1146.4 159.3 1146.8 177.0 1147.2 193.6 1147.6 208.3 1147.9 220.8 1148.3 230.2 1148.5 232.9 1148.7 231.1 1149.1 225.0 1149.4 216.8 1149.8 207.1 1150.2 196.3 1150.6 184.7 1150.9 172.6 1151.3 160.4 1151.7 148.4 1152.0 137.2 1152.4 126.9 1152.8 117.9 1153.2 110.6 1153.5 106.0 1153.5 106.0 1153.9 109.7 1154.3 115.5 1154.7 122.8 1155.0 131.0 1155.4 139.6 1155.8 148.3 1156.2 156.4 1156.5 163.7 1156.9 169.5 1157.3 173.2 1157.3 173.2 1157.6 168.4 1158.0 160.8 1158.4 151.4 1158.8 140.6 1159.1 128.8 1159.5 116.4 1159.9 103.7 1160.3 91.2 1160.6 79.2 1161.0 68.1 1161.4 58.3 1161.8 50.2 1162.1 44.5 1162.2 43.7 1162.5 48.5 1162.9 58.8 1163.3 71.9 1163.6 87.2 1164.0 104.2 1164.4 122.2 1164.7 140.7 1165.1 159.1 1165.5 176.9 1165.9 193.4 1166.2 208.2 1166.6 220.8 1167.0 230.2 1167.2 232.9 1167.4 231.1 1167.7 224.9 1168.1 216.7 1168.5 206.9 1168.9 196.0 1169.2 184.3 1169.6 172.1 1170.0 159.8 1170.3 147.8 1170.7 136.5 1171.1 126.1 1171.5 117.1 1171.8 109.7 1172.2 105.1 1172.2 105.1 1172.6 108.9 1173.0 115.1 1173.3 122.6 1173.7 131.2 1174.1 140.2 1174.5 149.3 1174.8 157.8 1175.2 165.4 1175.6 171.5 1175.9 175.3 1175.9 175.3 1176.3 170.4 1176.7 162.7 1177.1 153.1 1177.4 142.1 1177.8 130.1 1178.2 117.4 1178.6 104.5 1178.9 91.7 1179.3 79.5 1179.7 68.2 1180.1 58.2 1180.4 49.9 1180.8 44.1 1180.9 43.3 1181.2 48.1 1181.5 58.4 1181.9 71.5 1182.3 86.8 1182.7 103.7 1183.0 121.7 1183.4 140.1 1183.8 158.6 1184.2 176.3 1184.5 192.9 1184.9 207.7 1185.3 220.2 1185.7 229.6 1185.8 232.3 1186.0 230.5 1186.4 224.3 1186.8 216.2 1187.1 206.5 1187.5 195.6 1187.9 183.9 1188.3 171.8 1188.6 159.6 1189.0 147.6 1189.4 136.3 1189.8 126.0 1190.1 117.0 1190.5 109.7 1190.9 105.1 1190.9 105.1 1191.3 109.0 1191.6 115.2 1192.0 122.9 1192.4 131.6 1192.7 140.8 1193.1 150.0 1193.5 158.6 1193.9 166.3 1194.2 172.6 1194.6 176.4 1194.6 176.4 1195.0 171.5 1195.4 163.7 1195.7 154.0 1196.1 142.9 1196.5 130.7 1196.9 117.9 1197.2 104.9 1197.6 92.0 1198.0 79.6 1198.3 68.2 1198.7 58.1 1199.1 49.8 1199.5 43.9 1199.6 43.1 1199.8 47.8 1200.2 58.1 1200.6 71.2 1201.0 86.4 1201.3 103.2 1201.7 121.1 1202.1 139.5 1202.5 157.8 1202.8 175.5 1203.2 191.9 1203.6 206.7 1204.0 219.1 1204.3 228.5 1204.5 231.2 1204.7 229.4 1205.1 223.3 1205.4 215.2 1205.8 205.6 1206.2 194.8 1206.6 183.2 1206.9 171.2 1207.3 159.1 1207.7 147.2 1208.1 136.0 1208.4 125.8 1208.8 116.9 1209.2 109.7 1209.6 105.1 1209.6 105.1 1209.9 109.1 1210.3 115.4 1210.7 123.2 1211.0 132.0 1211.4 141.3 1211.8 150.6 1212.2 159.4 1212.5 167.2 1212.9 173.5 1213.3 177.5 1213.3 177.5 1213.7 172.5 1214.0 164.6 1214.4 154.9 1214.8 143.8 1215.2 131.6 1215.5 118.7 1215.9 105.6 1216.3 92.7 1216.6 80.3 1217.0 68.8 1217.4 58.7 1217.8 50.3 1218.1 44.4 1218.2 43.6 1218.5 48.3 1218.9 58.4 1219.3 71.3 1219.6 86.3 1220.0 102.9 1220.4 120.5 1220.8 138.7 1221.1 156.7 1221.5 174.2 1221.9 190.4 1222.2 205.0 1222.6 217.2 1223.0 226.5 1223.2 229.2 1223.4 227.4 1223.7 221.5 1224.1 213.5 1224.5 204.1 1224.9 193.6 1225.2 182.4 1225.6 170.6 1226.0 158.8 1226.4 147.2 1226.7 136.3 1227.1 126.3 1227.5 117.6 1227.8 110.6 1228.2 106.1 1228.2 106.1 1228.6 110.1 1229.0 116.4 1229.3 124.2 1229.7 133.0 1230.1 142.3 1230.5 151.6 1230.8 160.4 1231.2 168.2 1231.6 174.5 1232.0 178.5 1232.0 178.5 1232.3 173.5 1232.7 165.7 1233.1 155.9 1233.4 144.8 1233.8 132.6 1234.2 119.8 1234.6 106.6 1234.9 93.7 1235.3 81.3 1235.7 69.8 1236.1 59.7 1236.4 51.4 1236.8 45.4 1236.9 44.6 1237.2 49.2 1237.6 59.2 1237.9 71.9 1238.3 86.6 1238.7 103.0 1239.1 120.3 1239.4 138.2 1239.8 156.0 1240.2 173.1 1240.5 189.1 1240.9 203.4 1241.3 215.5 1241.7 224.6 1241.9 227.2 1242.0 225.5 1242.4 219.6 1242.8 211.8 1243.2 202.6 1243.5 192.3 1243.9 181.2 1244.3 169.6 1244.7 158.0 1245.0 146.6 1245.4 135.8 1245.8 126.0 1246.1 117.4 1246.5 110.5 1246.9 106.1 1246.9 106.1 1247.3 110.2 1247.6 116.7 1248.0 124.7 1248.4 133.8 1248.8 143.3 1249.1 152.9 1249.5 162.0 1249.9 170.0 1250.3 176.5 1250.6 180.5 1250.6 180.5 1251.0 175.5 1251.4 167.5 1251.7 157.6 1252.1 146.3 1252.5 133.9 1252.9 120.9 1253.2 107.6 1253.6 94.4 1254.0 81.8 1254.4 70.2 1254.7 60.0 1255.1 51.5 1255.5 45.4 1255.6 44.6 1255.9 49.2 1256.2 59.0 1256.6 71.6 1257.0 86.2 1257.3 102.3 1257.7 119.5 1258.1 137.1 1258.5 154.7 1258.8 171.7 1259.2 187.5 1259.6 201.6 1260.0 213.6 1260.3 222.6 1260.5 225.2 1260.7 223.5 1261.1 217.8 1261.5 210.2 1261.8 201.2 1262.2 191.1 1262.6 180.2 1262.9 169.0 1263.3 157.6 1263.7 146.5 1264.1 136.0 1264.4 126.4 1264.8 118.1 1265.2 111.3 1265.6 107.1 1265.6 107.1 1265.9 111.1 1266.3 117.5 1266.7 125.4 1267.1 134.3 1267.4 143.8 1267.8 153.3 1268.2 162.2 1268.5 170.1 1268.9 176.5 1269.3 180.5 1269.3 180.5 1269.7 175.5 1270.0 167.6 1270.4 157.8 1270.8 146.6 1271.2 134.3 1271.5 121.3 1271.9 108.1 1272.3 95.1 1272.7 82.6 1273.0 71.1 1273.4 60.9 1273.8 52.4 1274.1 46.4 1274.2 45.7 1274.5 50.1 1274.9 59.8 1275.3 72.1 1275.6 86.5 1276.0 102.4 1276.4 119.3 1276.8 136.6 1277.1 153.9 1277.5 170.6 1277.9 186.2 1278.3 200.1 1278.6 211.8 1279.0 220.7 1279.2 223.3 1279.4 221.6 1279.8 216.0 1280.1 208.6 1280.5 199.8 1280.9 190.0 1281.2 179.4 1281.6 168.4 1282.0 157.4 1282.4 146.6 1282.7 136.3 1283.1 127.0 1283.5 118.8 1283.9 112.2 1284.2 108.1 1284.2 108.1 1284.6 112.1 1285.0 118.5 1285.4 126.4 1285.7 135.4 1286.1 144.8 1286.5 154.3 1286.8 163.2 1287.2 171.1 1287.6 177.5 1288.0 181.5 1288.0 181.5 1288.3 176.5 1288.7 168.6 1289.1 158.8 1289.5 147.6 1289.8 135.3 1290.2 122.4 1290.6 109.2 1291.0 96.1 1291.3 83.6 1291.7 72.1 1292.1 61.9 1292.4 53.4 1292.8 47.5 1292.9 46.7 1293.2 51.1 1293.6 60.6 1293.9 72.7 1294.3 86.8 1294.7 102.5 1295.1 119.1 1295.4 136.1 1295.8 153.1 1296.2 169.6 1296.6 184.8 1296.9 198.5 1297.3 210.1 1297.7 218.8 1297.9 221.3 1298.0 219.7 1298.4 214.3 1298.8 207.0 1299.2 198.5 1299.5 188.9 1299.9 178.6 1300.3 167.9 1300.7 157.1 1301.0 146.6 1301.4 136.6 1301.8 127.5 1302.2 119.6 1302.5 113.2 1302.9 109.1 1302.9 109.1 1303.3 113.1 1303.6 119.5 1304.0 127.4 1304.4 136.4 1304.8 145.8 1305.1 155.3 1305.5 164.2 1305.9 172.2 1306.3 178.6 1306.6 182.6 1306.6 182.6 1307.0 177.5 1307.4 169.5 1307.8 159.7 1308.1 148.4 1308.5 136.0 1308.9 122.9 1309.2 109.6 1309.6 96.5 1310.0 83.9 1310.4 72.3 1310.7 62.0 1311.1 53.5 1311.5 47.5 1311.6 46.7 1311.9 51.0 1312.2 60.4 1312.6 72.4 1313.0 86.4 1313.4 101.8 1313.7 118.2 1314.1 135.1 1314.5 151.9 1314.9 168.1 1315.2 183.2 1315.6 196.7 1316.0 208.2 1316.3 216.8 1316.5 219.3 1316.7 217.7 1317.1 212.4 1317.5 205.4 1317.8 197.1 1318.2 187.8 1318.6 177.7 1319.0 167.3 1319.3 156.8 1319.7 146.6 1320.1 136.9 1320.5 128.0 1320.8 120.3 1321.2 114.1 1321.6 110.1 1321.6 110.1 1321.9 114.1 1322.3 120.4 1322.7 128.2 1323.1 137.0 1323.4 146.3 1323.8 155.7 1324.2 164.5 1324.6 172.3 1324.9 178.6 1325.3 182.6 1325.3 182.6 1325.7 177.6 1326.1 169.6 1326.4 159.9 1326.8 148.6 1327.2 136.3 1327.5 123.4 1327.9 110.2 1328.3 97.1 1328.7 84.6 1329.0 73.1 1329.4 62.9 1329.8 54.5 1330.2 48.5 1330.3 47.7 1330.5 52.0 1330.9 61.2 1331.3 73.0 1331.7 86.7 1332.0 101.9 1332.4 118.0 1332.8 134.5 1333.1 151.1 1333.5 167.0 1333.9 181.8 1334.3 195.1 1334.6 206.3 1335.0 214.8 1335.2 217.2 1335.4 215.7 1335.8 210.6 1336.1 203.7 1336.5 195.7 1336.9 186.6 1337.3 176.9 1337.6 166.7 1338.0 156.6 1338.4 146.6 1338.7 137.2 1339.1 128.5 1339.5 121.0 1339.9 115.0 1340.2 111.1 1340.2 111.1 1340.6 115.0 1341.0 121.3 1341.4 129.0 1341.7 137.7 1342.1 146.9 1342.5 156.1 1342.9 164.7 1343.2 172.4 1343.6 178.7 1344.0 182.6 1344.0 182.6 1344.3 177.6 1344.7 169.7 1345.1 160.0 1345.5 148.9 1345.8 136.7 1346.2 123.8 1346.6 110.7 1347.0 97.8 1347.3 85.4 1347.7 73.9 1348.1 63.8 1348.5 55.4 1348.8 49.5 1348.9 48.7 1349.2 52.9 1349.6 62.0 1350.0 73.5 1350.3 87.0 1350.7 101.9 1351.1 117.7 1351.4 134.0 1351.8 150.2 1352.2 165.9 1352.6 180.4 1352.9 193.5 1353.3 204.5 1353.7 212.8 1353.9 215.2 1354.1 213.7 1354.4 208.8 1354.8 202.1 1355.2 194.3 1355.6 185.5 1355.9 176.1 1356.3 166.3 1356.7 156.4 1357.0 146.8 1357.4 137.7 1357.8 129.3 1358.2 122.1 1358.5 116.2 1358.9 112.5 1358.9 112.5 1359.3 116.3 1359.7 122.4 1360.0 130.0 1360.4 138.5 1360.8 147.5 1361.2 156.5 1361.5 165.1 1361.9 172.6 1362.3 178.8 1362.6 182.6 1362.6 182.6 1363.0 177.6 1363.4 169.8 1363.8 160.2 1364.1 149.1 1364.5 137.0 1364.9 124.3 1365.3 111.3 1365.6 98.4 1366.0 86.1 1366.4 74.7 1366.8 64.7 1367.1 56.4 1367.5 50.5 1367.6 49.7 1367.9 53.8 1368.2 62.8 1368.6 74.1 1369.0 87.3 1369.4 101.9 1369.7 117.5 1370.1 133.5 1370.5 149.4 1370.9 164.7 1371.2 179.0 1371.6 191.8 1372.0 202.6 1372.4 210.8 1372.5 213.2 1372.7 211.8 1373.1 207.0 1373.5 200.6 1373.8 193.1 1374.2 184.6 1374.6 175.6 1375.0 166.2 1375.3 156.7 1375.7 147.4 1376.1 138.6 1376.5 130.6 1376.8 123.6 1377.2 118.0 1377.6 114.4 1377.6 114.4 1378.0 118.1 1378.3 124.1 1378.7 131.4 1379.1 139.7 1379.4 148.5 1379.8 157.3 1380.2 165.6 1380.6 172.9 1380.9 178.9 1381.3 182.6 1381.3 182.6 1381.7 177.7 1382.1 169.9 1382.4 160.4 1382.8 149.4 1383.2 137.4 1383.6 124.7 1383.9 111.8 1384.3 99.1 1384.7 86.8 1385.0 75.6 1385.4 65.6 1385.8 57.4 1386.2 51.5 1386.3 50.8 1386.5 54.8 1386.9 63.5 1387.3 74.6 1387.7 87.6 1388.0 101.9 1388.4 117.1 1388.8 132.7 1389.2 148.3 1389.5 163.4 1389.9 177.4 1390.3 189.9 1390.7 200.5 1391.0 208.5 1391.2 210.8 1391.4 209.5 1391.8 204.9 1392.1 198.9 1392.5 191.7 1392.9 183.6 1393.3 175.0 1393.6 166.0 1394.0 157.0 1394.4 148.2 1394.8 139.8 1395.1 132.2 1395.5 125.5 1395.9 120.2 1396.3 116.8 1396.3 116.8 1396.6 120.3 1397.0 125.9 1397.4 132.9 1397.7 140.8 1398.1 149.1 1398.5 157.5 1398.9 165.4 1399.2 172.4 1399.6 178.0 1400.0 181.5 1400.0 181.5 1400.4 176.7 1400.7 169.2 1401.1 159.8 1401.5 149.0 1401.9 137.2 1402.2 124.8 1402.6 112.1 1403.0 99.6 1403.3 87.6 1403.7 76.5 1404.1 66.8 1404.5 58.7 1404.8 52.9 1404.9 52.2 1405.2 56.1 1405.6 64.6 1406.0 75.5 1406.3 88.1 1406.7 102.1 1407.1 116.9 1407.5 132.2 1407.8 147.4 1408.2 162.1 1408.6 175.7 1408.9 188.0 1409.3 198.3 1409.7 206.1 1409.9 208.4 1410.1 207.1 1410.4 202.8 1410.8 197.1 1411.2 190.4 1411.6 182.8 1411.9 174.7 1412.3 166.3 1412.7 157.8 1413.1 149.5 1413.4 141.7 1413.8 134.5 1414.2 128.3 1414.5 123.2 1414.9 120.0 1414.9 120.0 1415.3 123.3 1415.7 128.4 1416.0 134.9 1416.4 142.1 1416.8 149.8 1417.2 157.4 1417.5 164.7 1417.9 171.1 1418.3 176.3 1418.7 179.5 1418.7 179.5 1419.0 174.9 1419.4 167.5 1419.8 158.4 1420.1 148.0 1420.5 136.6 1420.9 124.5 1421.3 112.3 1421.6 100.1 1422.0 88.5 1422.4 77.8 1422.8 68.4 1423.1 60.5 1423.5 55.0 1423.6 54.2 1423.9 58.0 1424.3 66.3 1424.6 76.8 1425.0 89.0 1425.4 102.5 1425.8 116.9 1426.1 131.7 1426.5 146.4 1426.9 160.6 1427.2 173.8 1427.6 185.7 1428.0 195.7 1428.4 203.2 1428.6 205.4 1428.7 204.2 1429.1 200.2 1429.5 194.8 1429.9 188.5 1430.2 181.4 1430.6 173.8 1431.0 165.9 1431.4 157.9 1431.7 150.1 1432.1 142.7 1432.5 136.0 1432.8 130.1 1433.2 125.4 1433.6 122.4 1433.6 122.4 1434.0 125.4 1434.3 130.2 1434.7 136.1 1435.1 142.8 1435.5 149.9 1435.8 157.0 1436.2 163.7 1436.6 169.7 1437.0 174.5 1437.3 177.5 1437.3 177.5 1437.7 173.0 1438.1 165.8 1438.4 157.0 1438.8 146.9 1439.2 135.9 1439.6 124.2 1439.9 112.4 1440.3 100.6 1440.7 89.4 1441.1 79.0 1441.4 69.8 1441.8 62.3 1442.2 56.9 1442.3 56.2 1442.6 59.8 1442.9 67.8 1443.3 78.0 1443.7 89.8 1444.0 102.9 1444.4 116.8 1444.8 131.1 1445.2 145.3 1445.5 159.1 1445.9 171.9 1446.3 183.4 1446.7 193.0 1447.0 200.3 1447.2 202.4 1447.4 201.4 1447.8 197.6 1448.2 192.7 1448.5 186.8 1448.9 180.2 1449.3 173.2 1449.6 165.8 1450.0 158.4 1450.4 151.2 1450.8 144.4 1451.1 138.1 1451.5 132.7 1451.9 128.3 1452.3 125.5 1452.3 125.5 1452.6 128.2 1453.0 132.6 1453.4 138.0 1453.8 144.0 1454.1 150.5 1454.5 156.9 1454.9 163.0 1455.2 168.4 1455.6 172.7 1456.0 175.4 1456.0 175.4 1456.4 171.1 1456.7 164.2 1457.1 155.7 1457.5 145.9 1457.9 135.2 1458.2 124.0 1458.6 112.5 1459.0 101.2 1459.4 90.3 1459.7 80.3 1460.1 71.4 1460.5 64.1 1460.8 58.9 1460.9 58.2 1461.2 61.8 1461.6 69.5 1462.0 79.3 1462.3 90.7 1462.7 103.3 1463.1 116.8 1463.5 130.6 1463.8 144.3 1464.2 157.6 1464.6 170.0 1465.0 181.0 1465.3 190.4 1465.7 197.4 1465.9 199.5 1466.1 198.5 1466.5 195.0 1466.8 190.4 1467.2 185.0 1467.6 178.9 1467.9 172.4 1468.3 165.6 1468.7 158.8 1469.1 152.1 1469.4 145.7 1469.8 140.0 1470.2 134.9 1470.6 130.9 1470.9 128.3 1470.9 128.3 1471.3 130.8 1471.7 134.8 1472.1 139.8 1472.4 145.4 1472.8 151.3 1473.2 157.3 1473.5 162.9 1473.9 167.9 1474.3 171.9 1474.7 174.4 1474.7 174.4 1475.0 170.1 1475.4 163.4 1475.8 155.1 1476.2 145.5 1476.5 135.0 1476.9 124.0 1477.3 112.7 1477.7 101.6 1478.0 91.0 1478.4 81.2 1478.8 72.5 1479.1 65.3 1479.5 60.2 1479.6 59.5 1479.9 63.0 1480.3 70.6 1480.6 80.2 1481.0 91.4 1481.4 103.8 1481.8 117.0 1482.1 130.5 1482.5 144.0 1482.9 157.0 1483.3 169.1 1483.6 180.0 1484.0 189.1 1484.4 196.0 1484.6 198.1 1484.7 197.1 1485.1 193.8 1485.5 189.4 1485.9 184.3 1486.2 178.5 1486.6 172.3 1487.0 165.8 1487.4 159.3 1487.7 153.0 1488.1 146.9 1488.5 141.4 1488.9 136.6 1489.2 132.8 1489.6 130.3 1489.6 130.3 1490.0 132.6 1490.3 136.4 1490.7 141.0 1491.1 146.2 1491.5 151.7 1491.8 157.2 1492.2 162.4 1492.6 167.0 1493.0 170.8 1493.3 173.1 1493.3 173.1 1493.7 168.9 1494.1 162.3 1494.5 154.1 1494.8 144.7 1495.2 134.5 1495.6 123.7 1495.9 112.6 1496.3 101.7 1496.7 91.3 1497.1 81.7 1497.4 73.1 1497.8 66.1 1498.2 61.1 1498.3 60.4 1498.6 63.9 1498.9 71.4 1499.3 80.9 1499.7 92.0 1500.1 104.2 1500.4 117.3 1500.8 130.7 1501.2 144.0 1501.6 156.9 1501.9 168.9 1502.3 179.7 1502.7 188.7 1503.0 195.5 1503.2 197.6 1503.4 196.6 1503.8 193.4 1504.2 189.2 1504.5 184.2 1504.9 178.6 1505.3 172.5 1505.7 166.3 1506.0 160.0 1506.4 153.8 1506.8 148.0 1507.2 142.6 1507.5 138.0 1507.9 134.2 1508.3 131.9 1508.3 131.8 1508.6 134.1 1509.0 137.6 1509.4 142.0 1509.8 146.9 1510.1 152.1 1510.5 157.3 1510.9 162.3 1511.3 166.6 1511.6 170.2 1512.0 172.4 1512.0 172.4 1512.4 168.2 1512.8 161.7 1513.1 153.6 1513.5 144.4 1513.9 134.2 1514.2 123.5 1514.6 112.6 1515.0 101.8 1515.4 91.5 1515.7 82.0 1516.1 73.6 1516.5 66.6 1516.9 61.7 1517.0 61.1 1517.2 64.5 1517.6 71.9 1518.0 81.3 1518.4 92.3 1518.7 104.4 1519.1 117.3 1519.5 130.6 1519.8 143.8 1520.2 156.6 1520.6 168.5 1521.0 179.1 1521.3 188.1 1521.7 194.9 1521.9 196.8 1522.1 195.9 1522.5 192.9 1522.8 188.8 1523.2 183.9 1523.6 178.5 1524.0 172.7 1524.3 166.7 1524.7 160.6 1525.1 154.6 1525.4 149.0 1525.8 143.9 1526.2 139.4 1526.6 135.8 1526.9 133.5 1526.9 133.5 1527.3 135.5 1527.7 138.8 1528.1 142.9 1528.4 147.5 1528.8 152.4 1529.2 157.3 1529.6 161.9 1529.9 166.0 1530.3 169.3 1530.7 171.3 1530.7 171.3 1531.0 167.3 1531.4 160.8 1531.8 152.8 1532.2 143.7 1532.5 133.7 1532.9 123.1 1533.3 112.4 1533.7 101.7 1534.0 91.6 1534.4 82.2 1534.8 73.9 1535.2 67.0 1535.5 62.1 1535.6 61.5 1535.9 64.8 1536.3 72.1 1536.7 81.5 1537.0 92.3 1537.4 104.3 1537.8 117.0 1538.1 130.1 1538.5 143.2 1538.9 155.8 1539.3 167.5 1539.6 178.0 1540.0 186.9 1540.4 193.6 1540.6 195.5 1540.8 194.6 1541.1 191.7 1541.5 187.8 1541.9 183.2 1542.3 178.0 1542.6 172.4 1543.0 166.7 1543.4 160.8 1543.7 155.2 1544.1 149.8 1544.5 144.9 1544.9 140.6 1545.2 137.1 1545.6 134.9 1545.6 134.9 1546.0 136.9 1546.4 140.0 1546.7 143.9 1547.1 148.4 1547.5 153.0 1547.9 157.7 1548.2 162.1 1548.6 166.0 1549.0 169.2 1549.3 171.1 1549.3 171.1 1549.7 167.1 1550.1 160.7 1550.5 152.8 1550.8 143.7 1551.2 133.7 1551.6 123.2 1552.0 112.5 1552.3 102.0 1552.7 91.9 1553.1 82.5 1553.5 74.3 1553.8 67.5 1554.2 62.6 1554.3 62.0 1554.6 65.3 1554.9 72.5 1555.3 81.7 1555.7 92.5 1556.1 104.3 1556.4 116.9 1556.8 129.9 1557.2 142.8 1557.6 155.2 1557.9 166.8 1558.3 177.2 1558.7 186.0 1559.1 192.6 1559.2 194.5 1559.4 193.7 1559.8 190.9 1560.2 187.2 1560.5 182.8 1560.9 177.8 1561.3 172.6 1561.7 167.1 1562.0 161.5 1562.4 156.1 1562.8 151.0 1563.2 146.3 1563.5 142.2 1563.9 138.9 1564.3 136.8 1564.3 136.8 1564.7 138.7 1565.0 141.6 1565.4 145.2 1565.8 149.3 1566.1 153.6 1566.5 157.9 1566.9 162.0 1567.3 165.6 1567.6 168.5 1568.0 170.3 1568.0 170.3 1568.4 166.3 1568.8 159.9 1569.1 152.1 1569.5 143.1 1569.9 133.2 1570.3 122.8 1570.6 112.2 1571.0 101.7 1571.4 91.6 1571.7 82.4 1572.1 74.2 1572.5 67.4 1572.9 62.6 1573.0 62.0 1573.2 65.3 1573.6 72.4 1574.0 81.6 1574.4 92.2 1574.7 104.0 1575.1 116.5 1575.5 129.3 1575.9 142.1 1576.2 154.5 1576.6 166.0 1577.0 176.3 1577.4 185.0 1577.7 191.6 1577.9 193.5 1578.1 192.7 1578.5 190.0 1578.8 186.5 1579.2 182.2 1579.6 177.5 1580.0 172.5 1580.3 167.2 1580.7 161.9 1581.1 156.7 1581.5 151.8 1581.8 147.3 1582.2 143.4 1582.6 140.3 1583.0 138.3 1583.0 138.3 1583.3 140.0 1583.7 142.7 1584.1 146.1 1584.4 149.9 1584.8 154.0 1585.2 158.0 1585.6 161.9 1585.9 165.3 1586.3 168.0 1586.7 169.7 1586.7 169.7 1587.1 165.7 1587.4 159.5 1587.8 151.7 1588.2 142.8 1588.6 133.1 1588.9 122.8 1589.3 112.3 1589.7 102.0 1590.0 92.1 1590.4 82.9 1590.8 74.8 1591.2 68.2 1591.5 63.4 1591.6 62.8 1591.9 66.1 1592.3 73.1 1592.7 82.2 1593.0 92.7 1593.4 104.3 1593.8 116.7 1594.2 129.4 1594.5 142.0 1594.9 154.2 1595.3 165.6 1595.6 175.8 1596.0 184.4 1596.4 190.9 1596.6 192.8 1596.8 192.0 1597.1 189.4 1597.5 186.0 1597.9 182.0 1598.3 177.5 1598.6 172.6 1599.0 167.6 1599.4 162.5 1599.8 157.5 1600.1 152.8 1600.5 148.5 1600.9 144.7 1601.2 141.7 1601.6 139.8 1601.6 139.8 1602.0 141.4 1602.4 143.9 1602.7 147.0 1603.1 150.5 1603.5 154.2 1603.9 158.0 1604.2 161.5 1604.6 164.6 1605.0 167.1 1605.4 168.7 1605.4 168.7 1605.7 164.8 1606.1 158.6 1606.5 150.9 1606.8 142.1 1607.2 132.5 1607.6 122.3 1608.0 112.0 1608.3 101.7 1608.7 91.9 1609.1 82.9 1609.5 74.9 1609.8 68.3 1610.2 63.6 1610.3 63.0 1610.6 66.3 1611.0 73.3 1611.3 82.3 1611.7 92.7 1612.1 104.3 1612.5 116.6 1612.8 129.3 1613.2 141.9 1613.6 154.0 1613.9 165.3 1614.3 175.5 1614.7 184.0 1615.1 190.5 1615.3 192.4 1615.4 191.6 1615.8 189.2 1616.2 185.9 1616.6 182.0 1616.9 177.7 1617.3 173.0 1617.7 168.2 1618.1 163.3 1618.4 158.5 1618.8 154.0 1619.2 149.9 1619.5 146.3 1619.9 143.4 1620.3 141.5 1620.3 141.5 1620.7 143.0 1621.0 145.2 1621.4 148.1 1621.8 151.2 1622.2 154.6 1622.5 158.0 1622.9 161.2 1623.3 164.0 1623.7 166.2 1624.0 167.7 1624.0 167.7 1624.4 163.8 1624.8 157.7 1625.1 150.1 1625.5 141.5 1625.9 132.0 1626.3 122.0 1626.6 111.8 1627.0 101.7 1627.4 92.0 1627.8 83.1 1628.1 75.3 1628.5 68.7 1628.9 64.1 1629.0 63.5 1629.3 66.7 1629.6 73.7 1630.0 82.6 1630.4 92.9 1630.7 104.4 1631.1 116.5 1631.5 129.0 1631.9 141.5 1632.2 153.5 1632.6 164.7 1633.0 174.7 1633.4 183.2 1633.7 189.6 1633.9 191.4 1634.1 190.7 1634.5 188.4 1634.9 185.2 1635.2 181.5 1635.6 177.3 1636.0 172.8 1636.3 168.2 1636.7 163.5 1637.1 158.9 1637.5 154.5 1637.8 150.6 1638.2 147.1 1638.6 144.3 1639.0 142.6 1639.0 142.6 1639.3 143.9 1639.7 146.1 1640.1 148.8 1640.5 151.9 1640.8 155.1 1641.2 158.3 1641.6 161.4 1641.9 164.1 1642.3 166.3 1642.7 167.7 1642.7 167.7 1643.1 163.8 1643.4 157.8 1643.8 150.3 1644.2 141.7 1644.6 132.3 1644.9 122.4 1645.3 112.3 1645.7 102.3 1646.1 92.8 1646.4 84.0 1646.8 76.2 1647.2 69.7 1647.5 65.1 1647.6 64.5 1647.9 67.7 1648.3 74.6 1648.7 83.3 1649.0 93.5 1649.4 104.8 1649.8 116.8 1650.2 129.1 1650.5 141.3 1650.9 153.2 1651.3 164.2 1651.7 174.1 1652.0 182.4 1652.4 188.7 1652.6 190.5 1652.8 189.9 1653.2 187.6 1653.5 184.7 1653.9 181.2 1654.3 177.3 1654.6 173.0 1655.0 168.7 1655.4 164.3 1655.8 159.9 1656.1 155.9 1656.5 152.1 1656.9 148.9 1657.3 146.3 1657.6 144.6 1657.6 144.6 1658.0 145.9 1658.4 147.9 1658.8 150.4 1659.1 153.2 1659.5 156.1 1659.9 159.1 1660.2 161.9 1660.6 164.4 1661.0 166.4 1661.4 167.7 1661.4 167.7 1661.7 163.9 1662.1 157.8 1662.5 150.4 1662.9 141.8 1663.2 132.5 1663.6 122.6 1664.0 112.6 1664.4 102.6 1664.7 93.1 1665.1 84.4 1665.5 76.6 1665.8 70.2 1666.2 65.6 1666.3 65.0 1666.6 68.2 1667.0 74.9 1667.3 83.6 1667.7 93.7 1668.1 104.8 1668.5 116.6 1668.8 128.8 1669.2 140.9 1669.6 152.6 1670.0 163.5 1670.3 173.2 1670.7 181.5 1671.1 187.7 1671.3 189.5 1671.4 188.9 1671.8 186.7 1672.2 183.9 1672.6 180.6 1672.9 176.8 1673.3 172.8 1673.7 168.6 1674.1 164.4 1674.4 160.3 1674.8 156.4 1675.2 152.8 1675.6 149.7 1675.9 147.2 1676.3 145.6 1676.3 145.6 1676.7 146.8 1677.0 148.7 1677.4 151.1 1677.8 153.8 1678.2 156.6 1678.5 159.5 1678.9 162.2 1679.3 164.5 1679.7 166.5 1680.0 167.7 1680.0 167.7 1680.4 163.9 1680.8 157.9 1681.2 150.5 1681.5 142.0 1681.9 132.7 1682.3 122.9 1682.6 112.9 1683.0 103.0 1683.4 93.5 1683.8 84.8 1684.1 77.1 1684.5 70.7 1684.9 66.1 1685.0 65.5 1685.3 68.6 1685.6 75.3 1686.0 83.9 1686.4 93.8 1686.8 104.8 1687.1 116.5 1687.5 128.5 1687.9 140.5 1688.3 152.0 1688.6 162.8 1689.0 172.4 1689.4 180.6 1689.7 186.7 1689.9 188.5 1690.1 187.9 1690.5 185.8 1690.9 183.2 1691.2 180.0 1691.6 176.4 1692.0 172.6 1692.4 168.6 1692.7 164.5 1693.1 160.6 1693.5 156.9 1693.9 153.5 1694.2 150.5 1694.6 148.2 1695.0 146.6 1695.0 146.6 1695.3 147.8 1695.7 149.8 1696.1 152.1 1696.5 154.8 1696.8 157.7 1697.2 160.5 1697.6 163.2 1698.0 165.6 1698.3 167.5 1698.7 168.7 1698.7 168.7 1699.1 164.8 1699.5 158.8 1699.8 151.2 1700.2 142.6 1700.6 133.2 1700.9 123.2 1701.3 113.1 1701.7 103.0 1702.1 93.4 1702.4 84.6 1702.8 76.7 1703.2 70.2 1703.6 65.6 1703.7 65.0 1703.9 68.1 1704.3 74.8 1704.7 83.3 1705.1 93.2 1705.4 104.1 1705.8 115.8 1706.2 127.7 1706.5 139.7 1706.9 151.2 1707.3 161.9 1707.7 171.5 1708.0 179.6 1708.4 185.7 1708.6 187.5 1708.8 186.9 1709.2 184.9 1709.5 182.3 1709.9 179.2 1710.3 175.7 1710.7 171.9 1711.0 168.0 1711.4 164.1 1711.8 160.3 1712.1 156.6 1712.5 153.3 1712.9 150.4 1713.3 148.1 1713.6 146.6 1713.6 146.6 1714.0 147.9 1714.4 150.0 1714.8 152.6 1715.1 155.5 1715.5 158.6 1715.9 161.7 1716.3 164.6 1716.6 167.2 1717.0 169.3 1717.4 170.6 1717.4 170.6 1717.7 166.7 1718.1 160.4 1718.5 152.7 1718.9 143.8 1719.2 134.1 1719.6 123.8 1720.0 113.4 1720.4 103.1 1720.7 93.2 1721.1 84.1 1721.5 76.0 1721.9 69.4 1722.2 64.6 1722.3 64.0 1722.6 67.1 1723.0 73.8 1723.4 82.4 1723.7 92.4 1724.1 103.4 1724.5 115.2 1724.8 127.3 1725.2 139.3 1725.6 150.9 1726.0 161.7 1726.3 171.3 1726.7 179.5 1727.1 185.7 1727.3 187.5 1727.5 186.9 1727.8 184.8 1728.2 182.1 1728.6 178.9 1729.0 175.4 1729.3 171.5 1729.7 167.5 1730.1 163.5 1730.4 159.6 1730.8 155.9 1731.2 152.5 1731.6 149.5 1731.9 147.1 1732.3 145.6 1732.3 145.6 1732.7 147.0 1733.1 149.3 1733.4 152.0 1733.8 155.2 1734.2 158.5 1734.6 161.8 1734.9 164.9 1735.3 167.7 1735.7 169.9 1736.0 171.3 1736.0 171.3 1736.4 167.3 1736.8 160.9 1737.2 153.0 1737.5 143.9 1737.9 134.0 1738.3 123.6 1738.7 112.9 1739.0 102.4 1739.4 92.3 1739.8 83.0 1740.2 74.8 1740.5 68.0 1740.9 63.1 1741.0 62.5 1741.3 65.6 1741.6 72.4 1742.0 81.1 1742.4 91.2 1742.8 102.4 1743.1 114.3 1743.5 126.5 1743.9 138.7 1744.3 150.4 1744.6 161.4 1745.0 171.1 1745.4 179.4 1745.8 185.6 1745.9 187.5 1746.1 186.9 1746.5 184.8 1746.9 182.1 1747.2 178.9 1747.6 175.3 1748.0 171.4 1748.4 167.4 1748.7 163.4 1749.1 159.4 1749.5 155.6 1749.9 152.2 1750.2 149.2 1750.6 146.8 1751.0 145.3 1751.0 145.3 1751.4 146.8 1751.7 149.1 1752.1 152.1 1752.5 155.4 1752.8 158.8 1753.2 162.3 1753.6 165.6 1754.0 168.5 1754.3 170.9 1754.7 172.4 1754.7 172.4 1755.1 168.2 1755.5 161.6 1755.8 153.5 1756.2 144.2 1756.6 134.0 1757.0 123.3 1757.3 112.3 1757.7 101.5 1758.1 91.1 1758.4 81.5 1758.8 73.1 1759.2 66.1 1759.6 61.1 1759.7 60.4 1759.9 63.7 1760.3 70.6 1760.7 79.5 1761.1 89.9 1761.4 101.3 1761.8 113.5 1762.2 126.0 1762.6 138.5 1762.9 150.5 1763.3 161.7 1763.7 171.8 1764.1 180.2 1764.4 186.6 1764.6 188.5 1764.8 187.9 1765.2 185.7 1765.5 182.9 1765.9 179.5 1766.3 175.8 1766.7 171.8 1767.0 167.6 1767.4 163.4 1767.8 159.3 1768.2 155.4 1768.5 151.8 1768.9 148.7 1769.3 146.2 1769.7 144.6 1769.7 144.6 1770.0 146.2 1770.4 148.8 1770.8 152.0 1771.1 155.7 1771.5 159.5 1771.9 163.3 1772.3 167.0 1772.6 170.2 1773.0 172.8 1773.4 174.4 1773.4 174.4 1773.8 173.6 1774.1 171.3 1774.5 167.4 1774.9 162.2 1775.3 155.6 1775.6 147.7 1776.0 138.7 1776.4 128.5 1776.7 117.2 1777.1 105.0 1777.5 91.8 1777.9 77.8 1778.2 63.0" fill="none" stroke="#33007f" stroke-width="3.1" stroke-linejoin="round" stroke-linecap="butt"/>
<text transform="translate(1262.90 342.61) scale(1.1536 0.9906)" font-size="50.5" fill="#262626" stroke="#fff" stroke-width="0.7">date</text>
<text transform="translate(1379.26 343.19) scale(0.9175 1.0985)" font-size="50.5" fill="#262626" stroke="#fff" stroke-width="0.7">(</text>
<text transform="translate(1396.25 342.46) scale(1.0567 0.9483)" font-size="50.5" fill="#262626" stroke="#fff" stroke-width="0.7">year</text>
<text transform="translate(1490.62 343.19) scale(0.9098 1.0985)" font-size="50.5" fill="#262626" stroke="#fff" stroke-width="0.7">)</text>
<text transform="translate(1877.00 279.60) rotate(-90) translate(-1.54 0.50) scale(1.0578 1.0433)" font-size="50.5" fill="#33007f" stroke="#fff" stroke-width="0.7">HER-X</text>
<text transform="translate(1877.00 279.60) rotate(-90) translate(182.85 0.61) scale(0.8789 1.0963)" font-size="50.5" fill="#33007f" stroke="#fff" stroke-width="0.7">(</text>
<text transform="translate(1877.00 279.60) rotate(-90) translate(199.39 0.00) scale(1.1275 1.0222)" font-size="50.5" fill="#33007f" stroke="#fff" stroke-width="0.7">nT</text>
<text transform="translate(1877.00 279.60) rotate(-90) translate(265.49 0.61) scale(0.8635 1.0963)" font-size="50.5" fill="#33007f" stroke="#fff" stroke-width="0.7">)</text>
<line x1="133.9" y1="585.3" x2="920.4" y2="585.3" stroke="#262626" stroke-width="4"/>
<line x1="135.9" y1="585.3" x2="135.9" y2="575.5" stroke="#262626" stroke-width="4"/>
<text transform="translate(135.90 640.70) scale(0.965 1)" font-size="47" text-anchor="middle" fill="#262626">1980</text>
<line x1="322.2" y1="585.3" x2="322.2" y2="575.5" stroke="#262626" stroke-width="4"/>
<text transform="translate(322.20 640.70) scale(0.965 1)" font-size="47" text-anchor="middle" fill="#262626">1990</text>
<line x1="508.5" y1="585.3" x2="508.5" y2="575.5" stroke="#262626" stroke-width="4"/>
<text transform="translate(508.50 640.70) scale(0.965 1)" font-size="47" text-anchor="middle" fill="#262626">2000</text>
<line x1="694.8" y1="585.3" x2="694.8" y2="575.5" stroke="#262626" stroke-width="4"/>
<text transform="translate(694.80 640.70) scale(0.965 1)" font-size="47" text-anchor="middle" fill="#262626">2010</text>
<line x1="881.1" y1="585.3" x2="881.1" y2="575.5" stroke="#262626" stroke-width="4"/>
<text transform="translate(881.10 640.70) scale(0.965 1)" font-size="47" text-anchor="middle" fill="#262626">2020</text>
<line x1="135.9" y1="393.3" x2="135.9" y2="587.3" stroke="#038035" stroke-width="4.4"/>
<line x1="135.9" y1="408.2" x2="145.9" y2="408.2" stroke="#038035" stroke-width="4"/>
<text transform="translate(122.6 425.00) scale(0.96 1)" font-size="47" text-anchor="end" fill="#038035">10</text>
<line x1="135.9" y1="495.9" x2="145.9" y2="495.9" stroke="#038035" stroke-width="4"/>
<text transform="translate(122.6 512.70) scale(0.96 1)" font-size="47" text-anchor="end" fill="#038035">0</text>
<line x1="135.9" y1="584.0" x2="145.9" y2="584.0" stroke="#038035" stroke-width="4"/>
<text transform="translate(122.6 600.80) scale(0.96 1)" font-size="47" text-anchor="end" fill="#038035">-10</text>
<path clip-path="url(#c2)" d="M138.5 545.2 138.7 545.2 138.9 543.7 139.3 538.6 139.6 532.0 140.0 524.1 140.4 515.2 140.7 505.4 141.1 495.1 141.5 484.3 141.9 473.3 142.2 462.2 142.6 451.2 143.0 440.6 143.4 430.6 143.7 421.2 144.1 412.8 144.5 405.5 144.8 399.5 145.2 395.7 145.2 395.7 145.6 400.3 146.0 407.5 146.3 416.4 146.7 426.6 147.1 437.9 147.5 449.9 147.8 462.5 148.2 475.3 148.6 488.0 148.9 500.3 149.3 512.0 149.7 522.8 150.1 532.4 150.4 540.5 150.8 546.6 151.0 548.4 151.2 547.9 151.5 546.2 151.9 543.9 152.3 541.3 152.7 538.4 153.0 535.4 153.4 532.6 153.8 530.1 154.2 528.1 154.5 526.8 154.5 526.8 154.9 528.1 155.3 530.0 155.6 532.5 156.0 535.2 156.4 537.8 156.8 540.3 157.1 542.2 157.5 543.5 157.5 543.5 157.9 539.6 158.3 533.6 158.6 526.1 159.0 517.6 159.4 508.1 159.7 497.9 160.1 487.2 160.5 476.1 160.9 465.0 161.2 454.0 161.6 443.3 162.0 433.1 162.4 423.6 162.7 415.0 163.1 407.6 163.5 401.5 163.8 397.7 163.8 397.7 164.2 402.2 164.6 409.3 165.0 418.1 165.3 428.1 165.7 439.3 166.1 451.2 166.5 463.6 166.8 476.2 167.2 488.7 167.6 500.9 167.9 512.5 168.3 523.1 168.7 532.6 169.1 540.6 169.4 546.6 169.6 548.4 169.8 547.9 170.2 546.2 170.6 543.8 170.9 541.1 171.3 538.2 171.7 535.2 172.0 532.3 172.4 529.7 172.8 527.7 173.2 526.4 173.2 526.4 173.5 527.6 173.9 529.5 174.3 531.9 174.7 534.5 175.0 537.1 175.4 539.5 175.8 541.4 176.1 542.6 176.1 542.6 176.5 538.8 176.9 532.9 177.3 525.6 177.6 517.2 178.0 507.9 178.4 498.0 178.7 487.5 179.1 476.6 179.5 465.7 179.9 454.9 180.2 444.4 180.6 434.4 181.0 425.2 181.4 416.8 181.7 409.5 182.1 403.6 182.5 399.8 182.5 399.8 182.8 404.2 183.2 411.2 183.6 419.8 184.0 429.7 184.3 440.7 184.7 452.4 185.1 464.5 185.5 476.9 185.8 489.3 186.2 501.2 186.6 512.6 186.9 523.0 187.3 532.3 187.7 540.2 188.1 546.1 188.3 547.9 188.4 547.4 188.8 545.6 189.2 543.3 189.6 540.5 189.9 537.6 190.3 534.6 190.7 531.7 191.0 529.1 191.4 527.1 191.8 525.8 191.8 525.8 192.2 526.9 192.5 528.8 192.9 531.1 193.3 533.7 193.7 536.2 194.0 538.5 194.4 540.4 194.8 541.5 194.8 541.5 195.1 537.8 195.5 532.0 195.9 524.8 196.3 516.5 196.6 507.4 197.0 497.5 197.4 487.1 197.8 476.5 198.1 465.7 198.5 455.1 198.9 444.7 199.2 434.9 199.6 425.7 200.0 417.4 200.4 410.2 200.7 404.4 201.1 400.7 201.1 400.7 201.5 405.1 201.9 412.0 202.2 420.5 202.6 430.3 203.0 441.2 203.3 452.8 203.7 464.8 204.1 477.1 204.5 489.3 204.8 501.2 205.2 512.5 205.6 522.8 205.9 532.0 206.3 539.8 206.7 545.7 206.9 547.4 207.1 546.9 207.4 545.2 207.8 542.9 208.2 540.1 208.6 537.2 208.9 534.2 209.3 531.3 209.7 528.8 210.0 526.7 210.4 525.4 210.4 525.4 210.8 526.5 211.2 528.1 211.5 530.2 211.9 532.5 212.3 534.7 212.7 536.8 213.0 538.5 213.4 539.5 213.4 539.5 213.8 535.9 214.1 530.2 214.5 523.2 214.9 515.2 215.3 506.2 215.6 496.7 216.0 486.6 216.4 476.2 216.8 465.7 217.1 455.4 217.5 445.3 217.9 435.7 218.2 426.8 218.6 418.7 219.0 411.7 219.4 406.1 219.7 402.4 219.7 402.4 220.1 406.8 220.5 413.6 220.9 422.0 221.2 431.7 221.6 442.3 222.0 453.7 222.3 465.6 222.7 477.7 223.1 489.8 223.5 501.5 223.8 512.5 224.2 522.7 224.6 531.8 225.0 539.5 225.3 545.3 225.5 547.0 225.7 546.5 226.1 544.7 226.4 542.4 226.8 539.7 227.2 536.7 227.6 533.7 227.9 530.8 228.3 528.3 228.7 526.2 229.0 524.9 229.1 524.9 229.4 525.9 229.8 527.5 230.2 529.5 230.5 531.7 230.9 533.9 231.3 535.9 231.7 537.5 232.0 538.5 232.0 538.5 232.4 535.0 232.8 529.4 233.1 522.5 233.5 514.6 233.9 505.8 234.3 496.4 234.6 486.4 235.0 476.2 235.4 465.9 235.8 455.7 236.1 445.8 236.5 436.3 236.9 427.6 237.2 419.6 237.6 412.7 238.0 407.2 238.4 403.6 238.4 403.6 238.7 407.8 239.1 414.5 239.5 422.8 239.9 432.3 240.2 442.8 240.6 454.1 241.0 465.8 241.3 477.7 241.7 489.5 242.1 501.0 242.5 511.9 242.8 522.0 243.2 530.9 243.6 538.5 244.0 544.2 244.1 545.9 244.3 545.4 244.7 543.7 245.1 541.4 245.4 538.8 245.8 535.9 246.2 533.0 246.6 530.2 246.9 527.7 247.3 525.7 247.7 524.5 247.7 524.5 248.1 525.5 248.4 527.2 248.8 529.2 249.2 531.5 249.5 533.8 249.9 535.8 250.3 537.5 250.7 538.5 250.7 538.5 251.0 535.0 251.4 529.4 251.8 522.5 252.2 514.6 252.5 505.9 252.9 496.5 253.3 486.6 253.6 476.4 254.0 466.1 254.4 456.0 254.8 446.1 255.1 436.7 255.5 427.9 255.9 420.0 256.2 413.2 256.6 407.6 257.0 404.0 257.0 404.0 257.4 408.3 257.7 414.9 258.1 423.2 258.5 432.6 258.9 443.1 259.2 454.2 259.6 465.9 260.0 477.7 260.3 489.5 260.7 500.9 261.1 511.8 261.5 521.8 261.8 530.6 262.2 538.1 262.6 543.8 262.8 545.5 263.0 545.0 263.3 543.2 263.7 540.8 264.1 538.0 264.4 535.0 264.8 531.9 265.2 528.9 265.6 526.3 265.9 524.2 266.3 522.9 266.3 522.9 266.7 524.0 267.1 525.9 267.4 528.2 267.8 530.7 268.2 533.2 268.5 535.5 268.9 537.4 269.3 538.5 269.3 538.5 269.7 534.9 270.0 529.3 270.4 522.4 270.8 514.4 271.2 505.5 271.5 496.0 271.9 486.0 272.3 475.7 272.6 465.3 273.0 455.0 273.4 445.0 273.8 435.5 274.1 426.6 274.5 418.6 274.9 411.7 275.3 406.0 275.6 402.4 275.6 402.4 276.0 406.8 276.4 413.5 276.7 421.9 277.1 431.6 277.5 442.2 277.9 453.6 278.2 465.4 278.6 477.5 279.0 489.5 279.4 501.1 279.7 512.1 280.1 522.3 280.5 531.4 280.8 539.0 281.2 544.8 281.4 546.5 281.6 545.9 282.0 543.9 282.3 541.3 282.7 538.2 283.1 534.9 283.4 531.5 283.8 528.2 284.2 525.3 284.6 523.0 284.9 521.5 284.9 521.5 285.3 522.8 285.7 524.8 286.1 527.3 286.4 530.0 286.8 532.8 287.2 535.3 287.5 537.3 287.9 538.5 287.9 538.5 288.3 534.9 288.7 529.2 289.0 522.2 289.4 514.2 289.8 505.3 290.2 495.7 290.5 485.6 290.9 475.3 291.3 464.8 291.6 454.4 292.0 444.4 292.4 434.8 292.8 425.9 293.1 417.8 293.5 410.9 293.9 405.2 294.3 401.6 294.3 401.6 294.6 406.0 295.0 412.9 295.4 421.5 295.7 431.4 296.1 442.3 296.5 453.9 296.9 466.0 297.2 478.4 297.6 490.7 298.0 502.6 298.4 513.9 298.7 524.3 299.1 533.5 299.5 541.4 299.8 547.3 300.0 549.0 300.2 548.4 300.6 546.1 301.0 543.0 301.3 539.4 301.7 535.6 302.1 531.6 302.5 527.9 302.8 524.5 303.2 521.8 303.6 520.1 303.6 520.1 303.9 521.5 304.3 523.6 304.7 526.3 305.1 529.2 305.4 532.1 305.8 534.7 306.2 536.9 306.6 538.2 306.6 538.2 306.9 534.6 307.3 528.9 307.7 521.9 308.0 513.9 308.4 505.0 308.8 495.5 309.2 485.4 309.5 475.1 309.9 464.6 310.3 454.3 310.6 444.3 311.0 434.7 311.4 425.8 311.8 417.8 312.1 410.8 312.5 405.2 312.9 401.6 312.9 401.6 313.3 406.0 313.6 413.0 314.0 421.7 314.4 431.6 314.7 442.6 315.1 454.4 315.5 466.6 315.9 479.1 316.2 491.5 316.6 503.5 317.0 514.9 317.4 525.4 317.7 534.7 318.1 542.6 318.5 548.6 318.7 550.3 318.8 549.6 319.2 547.1 319.6 543.7 320.0 539.7 320.3 535.4 320.7 531.0 321.1 526.9 321.5 523.2 321.8 520.2 322.2 518.3 322.2 518.3 322.6 519.7 322.9 522.0 323.3 524.8 323.7 527.9 324.1 531.0 324.4 533.8 324.8 536.1 325.2 537.5 325.2 537.5 325.6 533.9 325.9 528.3 326.3 521.3 326.7 513.3 327.0 504.5 327.4 495.0 327.8 485.0 328.2 474.7 328.5 464.3 328.9 454.0 329.3 444.0 329.7 434.5 330.0 425.7 330.4 417.7 330.8 410.8 331.1 405.2 331.5 401.6 331.5 401.6 331.9 406.1 332.3 413.2 332.6 422.0 333.0 432.1 333.4 443.3 333.8 455.2 334.1 467.6 334.5 480.3 334.9 492.9 335.2 505.1 335.6 516.7 336.0 527.4 336.4 536.9 336.7 544.9 337.1 550.9 337.3 552.7 337.5 552.0 337.8 549.3 338.2 545.8 338.6 541.6 339.0 537.1 339.3 532.4 339.7 527.9 340.1 523.7 340.5 520.1 340.8 517.4 341.0 516.5 341.2 517.0 341.6 519.0 341.9 521.7 342.3 524.7 342.7 528.0 343.1 531.1 343.4 533.8 343.8 535.9 344.0 536.5 344.2 535.2 344.6 530.3 344.9 523.8 345.3 516.1 345.7 507.4 346.0 497.9 346.4 487.8 346.8 477.3 347.2 466.6 347.5 456.0 347.9 445.7 348.3 435.8 348.7 426.7 349.0 418.4 349.4 411.1 349.8 405.3 350.1 401.6 350.1 401.6 350.5 406.1 350.9 413.3 351.3 422.2 351.6 432.5 352.0 443.7 352.4 455.8 352.8 468.4 353.1 481.2 353.5 493.9 353.9 506.3 354.2 518.0 354.6 528.8 355.0 538.4 355.4 546.5 355.7 552.6 355.9 554.4 356.1 553.6 356.5 550.9 356.9 547.3 357.2 543.0 357.6 538.4 358.0 533.5 358.3 528.7 358.7 524.2 359.1 520.1 359.5 516.9 359.8 514.7 359.9 514.6 360.2 515.8 360.6 518.0 361.0 520.8 361.3 523.8 361.7 526.8 362.1 529.7 362.4 532.0 362.8 533.5 362.9 533.6 363.2 530.3 363.6 524.5 363.9 517.3 364.3 508.9 364.7 499.6 365.0 489.7 365.4 479.2 365.8 468.6 366.2 457.9 366.5 447.4 366.9 437.4 367.3 428.0 367.7 419.6 368.0 412.2 368.4 406.2 368.8 402.4 368.8 402.4 369.1 407.0 369.5 414.3 369.9 423.2 370.3 433.4 370.6 444.8 371.0 456.9 371.4 469.5 371.8 482.3 372.1 495.1 372.5 507.5 372.9 519.3 373.2 530.1 373.6 539.7 374.0 547.8 374.4 554.0 374.6 555.8 374.7 555.0 375.1 552.2 375.5 548.6 375.9 544.2 376.2 539.4 376.6 534.4 377.0 529.3 377.3 524.5 377.7 520.1 378.1 516.3 378.5 513.3 378.7 512.2 378.8 512.6 379.2 514.4 379.6 516.9 380.0 519.9 380.3 523.0 380.7 526.0 381.1 528.7 381.4 530.8 381.7 531.6 381.8 530.6 382.2 525.8 382.6 519.1 382.9 511.2 383.3 502.2 383.7 492.4 384.1 482.0 384.4 471.3 384.8 460.5 385.2 449.9 385.5 439.7 385.9 430.2 386.3 421.5 386.7 414.0 387.0 407.9 387.4 404.0 387.4 404.0 387.8 408.6 388.2 415.8 388.5 424.8 388.9 435.0 389.3 446.3 389.6 458.4 390.0 471.0 390.4 483.9 390.8 496.6 391.1 509.0 391.5 520.8 391.9 531.6 392.2 541.2 392.6 549.3 393.0 555.5 393.2 557.3 393.4 556.5 393.7 553.7 394.1 549.9 394.5 545.5 394.9 540.5 395.2 535.3 395.6 530.0 396.0 524.9 396.3 520.1 396.7 515.8 397.1 512.3 397.5 509.9 397.5 509.7 397.8 510.7 398.2 512.8 398.6 515.5 399.0 518.5 399.3 521.6 399.7 524.4 400.1 526.8 400.4 528.4 400.5 528.6 400.8 525.7 401.2 519.8 401.6 512.5 401.9 503.9 402.3 494.4 402.7 484.2 403.1 473.6 403.4 462.8 403.8 452.1 404.2 441.8 404.5 432.1 404.9 423.3 405.3 415.7 405.7 409.5 406.0 405.6 406.0 405.6 406.4 410.2 406.8 417.5 407.2 426.5 407.5 436.9 407.9 448.3 408.3 460.5 408.6 473.2 409.0 486.2 409.4 499.1 409.8 511.6 410.1 523.4 410.5 534.4 410.9 544.1 411.3 552.3 411.6 558.5 411.8 560.3 412.0 559.4 412.4 556.5 412.7 552.5 413.1 547.9 413.5 542.7 413.9 537.2 414.2 531.5 414.6 526.0 415.0 520.7 415.3 515.9 415.7 511.7 416.1 508.5 416.4 507.0 416.5 507.2 416.8 508.8 417.2 511.0 417.6 513.7 418.0 516.5 418.3 519.3 418.7 521.8 419.1 523.7 419.4 524.6 419.4 524.0 419.8 519.3 420.2 512.6 420.6 504.6 420.9 495.4 421.3 485.5 421.7 475.0 422.1 464.3 422.4 453.6 422.8 443.2 423.2 433.5 423.5 424.6 423.9 416.9 424.3 410.6 424.7 406.7 424.7 406.7 425.0 411.4 425.4 418.8 425.8 428.0 426.2 438.5 426.5 450.2 426.9 462.6 427.3 475.6 427.6 488.8 428.0 501.9 428.4 514.6 428.8 526.7 429.1 537.8 429.5 547.7 429.9 556.1 430.3 562.4 430.4 564.3 430.6 563.3 431.0 560.2 431.4 556.0 431.7 551.1 432.1 545.6 432.5 539.7 432.9 533.7 433.2 527.6 433.6 521.8 434.0 516.4 434.4 511.6 434.7 507.6 435.1 504.7 435.2 504.3 435.5 505.0 435.8 506.9 436.2 509.3 436.6 511.9 437.0 514.7 437.3 517.3 437.7 519.5 438.1 521.0 438.2 521.3 438.5 518.8 438.8 512.9 439.2 505.4 439.6 496.6 439.9 486.8 440.3 476.4 440.7 465.6 441.1 454.8 441.4 444.2 441.8 434.2 442.2 425.1 442.5 417.1 442.9 410.7 443.3 406.7 443.3 406.7 443.7 411.5 444.0 419.1 444.4 428.5 444.8 439.3 445.2 451.2 445.5 464.0 445.9 477.3 446.3 490.8 446.6 504.2 447.0 517.3 447.4 529.7 447.8 541.1 448.1 551.2 448.5 559.7 448.9 566.2 449.1 568.1 449.3 567.2 449.6 563.9 450.0 559.6 450.4 554.5 450.7 548.8 451.1 542.7 451.5 536.4 451.9 530.0 452.2 523.7 452.6 517.9 453.0 512.5 453.4 507.9 453.7 504.3 454.0 502.3 454.1 502.4 454.5 503.6 454.8 505.4 455.2 507.6 455.6 509.9 456.0 512.1 456.3 514.2 456.7 515.8 457.0 516.7 457.1 516.4 457.5 511.7 457.8 504.8 458.2 496.5 458.6 487.0 458.9 476.6 459.3 465.8 459.7 454.8 460.1 444.1 460.4 433.9 460.8 424.5 461.2 416.4 461.6 409.8 461.9 405.6 461.9 405.6 462.3 410.6 462.7 418.5 463.0 428.3 463.4 439.5 463.8 451.8 464.2 465.1 464.5 478.9 464.9 492.9 465.3 506.8 465.7 520.4 466.0 533.2 466.4 545.1 466.8 555.6 467.1 564.5 467.5 571.2 467.7 573.2 467.9 572.2 468.3 568.7 468.6 564.2 469.0 558.8 469.4 552.8 469.7 546.3 470.1 539.5 470.5 532.7 470.9 525.9 471.2 519.4 471.6 513.5 472.0 508.2 472.4 503.7 472.7 500.4 472.9 499.7 473.1 500.2 473.5 501.6 473.8 503.4 474.2 505.4 474.6 507.5 475.0 509.5 475.3 511.3 475.7 512.5 475.9 512.8 476.1 510.7 476.5 504.7 476.8 496.8 477.2 487.6 477.6 477.4 477.9 466.5 478.3 455.4 478.7 444.4 479.1 433.8 479.4 424.2 479.8 415.7 480.2 408.9 480.6 404.6 480.6 404.6 480.9 409.9 481.3 418.1 481.7 428.2 482.0 439.9 482.4 452.8 482.8 466.5 483.2 480.9 483.5 495.5 483.9 510.0 484.3 524.1 484.7 537.5 485.0 549.8 485.4 560.8 485.8 570.0 486.1 577.0 486.3 579.1 486.5 578.0 486.9 574.4 487.3 569.6 487.6 564.0 488.0 557.7 488.4 550.8 488.8 543.7 489.1 536.4 489.5 529.1 489.9 522.1 490.2 515.5 490.6 509.5 491.0 504.3 491.4 500.2 491.7 497.7 491.7 497.7 492.1 498.5 492.5 499.7 492.9 501.2 493.2 502.8 493.6 504.4 494.0 505.9 494.3 507.1 494.7 507.8 494.7 507.7 495.1 503.1 495.5 496.1 495.8 487.5 496.2 477.7 496.6 467.0 496.9 455.9 497.3 444.9 497.7 434.3 498.1 424.5 498.4 415.9 498.8 409.0 499.2 404.6 499.2 404.6 499.6 410.0 499.9 418.4 500.3 428.8 500.7 440.7 501.0 453.9 501.4 468.0 501.8 482.7 502.2 497.6 502.5 512.5 502.9 526.9 503.3 540.6 503.7 553.2 504.0 564.4 504.4 573.8 504.8 581.0 505.0 583.1 505.1 582.0 505.5 578.4 505.9 573.6 506.3 567.9 506.6 561.6 507.0 554.6 507.4 547.4 507.8 539.9 508.1 532.5 508.5 525.2 508.9 518.3 509.2 511.9 509.6 506.2 510.0 501.4 510.4 497.8 510.5 496.7 510.7 496.9 511.1 497.4 511.5 498.1 511.9 498.9 512.2 499.8 512.6 500.6 513.0 501.4 513.3 501.9 513.5 502.1 513.7 500.3 514.1 494.4 514.5 486.6 514.8 477.3 515.2 467.0 515.6 456.1 516.0 445.1 516.3 434.5 516.7 424.6 517.1 416.0 517.4 409.0 517.8 404.6 517.8 404.6 518.2 410.1 518.6 418.6 518.9 429.1 519.3 441.3 519.7 454.6 520.1 468.9 520.4 483.8 520.8 499.0 521.2 514.1 521.5 528.7 521.9 542.6 522.3 555.4 522.7 566.8 523.0 576.3 523.4 583.6 523.6 585.8 523.8 584.7 524.1 581.1 524.5 576.4 524.9 570.8 525.3 564.5 525.6 557.7 526.0 550.5 526.4 543.1 526.8 535.6 527.1 528.3 527.5 521.3 527.9 514.7 528.2 508.7 528.6 503.6 529.0 499.4 529.4 496.7 529.4 496.7 529.7 496.8 530.1 497.0 530.5 497.2 530.9 497.4 531.2 497.6 531.6 497.8 532.0 498.0 532.3 498.1 532.3 498.1 532.7 493.8 533.1 486.9 533.5 478.4 533.8 468.7 534.2 458.2 534.6 447.6 535.0 437.2 535.3 427.5 535.7 418.9 536.1 412.0 536.4 407.7 536.4 407.7 536.8 413.0 537.2 421.3 537.6 431.6 537.9 443.4 538.3 456.4 538.7 470.3 539.1 484.8 539.4 499.6 539.8 514.2 540.2 528.5 540.5 542.0 540.9 554.4 541.3 565.5 541.7 574.8 542.0 581.9 542.2 584.0 542.4 582.9 542.8 579.4 543.2 574.7 543.5 569.1 543.9 562.8 544.3 556.0 544.6 548.8 545.0 541.3 545.4 533.9 545.8 526.5 546.1 519.5 546.5 512.9 546.9 507.0 547.3 501.8 547.6 497.6 548.0 494.9 548.0 494.9 548.4 495.0 548.7 495.1 549.1 495.3 549.5 495.4 549.9 495.6 550.2 495.7 550.6 495.8 551.0 495.9 551.0 495.9 551.3 491.9 551.7 485.6 552.1 477.7 552.5 468.8 552.8 459.1 553.2 449.3 553.6 439.7 554.0 430.8 554.3 422.9 554.7 416.5 555.1 412.6 555.1 412.6 555.4 417.6 555.8 425.5 556.2 435.2 556.6 446.4 556.9 458.8 557.3 472.0 557.7 485.8 558.1 499.9 558.4 513.8 558.8 527.4 559.2 540.2 559.5 552.0 559.9 562.5 560.3 571.4 560.7 578.1 560.9 580.1 561.0 579.9 561.4 577.9 561.8 574.1 562.2 568.9 562.5 562.5 562.9 555.3 563.3 547.3 563.6 539.1 564.0 530.8 564.4 522.6 564.8 515.0 565.1 508.1 565.5 502.3 565.9 497.8 566.3 494.8 566.6 493.8 566.6 493.8 567.0 493.8 567.4 493.8 567.7 493.8 568.1 493.7 568.5 493.7 568.9 493.7 569.2 493.7 569.6 493.7 569.6 493.7 570.0 491.9 570.4 487.1 570.7 479.9 571.1 471.1 571.5 461.2 571.8 450.9 572.2 441.1 572.6 432.2 573.0 425.0 573.3 420.2 573.7 418.5 573.7 418.5 574.1 423.1 574.5 430.5 574.8 439.5 575.2 450.0 575.6 461.5 575.9 473.8 576.3 486.6 576.7 499.6 577.1 512.6 577.4 525.2 577.8 537.1 578.2 548.1 578.5 557.9 578.9 566.1 579.3 572.4 579.5 574.2 579.7 573.9 580.0 571.5 580.4 567.0 580.8 560.9 581.2 553.6 581.5 545.4 581.9 536.7 582.3 528.0 582.6 519.7 583.0 512.1 583.4 505.6 583.8 500.6 584.1 497.6 584.3 497.0 584.5 496.6 584.9 496.2 585.3 495.9 585.6 495.6 586.0 495.1 586.2 494.8 586.4 494.3 586.7 492.4 587.1 489.4 587.5 485.5 587.9 480.8 588.2 475.5 588.6 469.7 589.0 463.8 589.4 457.7 589.7 451.8 590.1 446.0 590.5 440.7 590.8 436.0 591.2 432.1 591.6 429.0 592.0 427.1 592.3 426.4 592.3 426.4 592.7 430.6 593.1 437.1 593.5 445.2 593.8 454.5 594.2 464.7 594.6 475.7 594.9 487.1 595.3 498.8 595.7 510.3 596.1 521.6 596.4 532.2 596.8 542.0 597.2 550.7 597.6 558.1 597.9 563.7 598.1 565.3 598.3 565.1 598.7 563.1 599.0 559.4 599.4 554.3 599.8 548.2 600.2 541.4 600.5 534.2 600.9 527.0 601.3 520.1 601.6 513.7 602.0 508.3 602.4 504.1 602.8 501.5 603.0 500.9 603.1 500.6 603.5 500.2 603.9 499.8 604.3 499.5 604.6 499.1 604.8 498.8 605.0 498.3 605.4 496.5 605.7 493.6 606.1 489.9 606.5 485.4 606.9 480.5 607.2 475.1 607.6 469.5 608.0 463.8 608.4 458.2 608.7 452.8 609.1 447.8 609.5 443.4 609.8 439.6 610.2 436.8 610.6 435.0 611.0 434.3 611.0 434.3 611.3 438.0 611.7 443.7 612.1 450.7 612.5 458.8 612.8 467.7 613.2 477.3 613.6 487.2 613.9 497.4 614.3 507.5 614.7 517.2 615.1 526.5 615.4 535.1 615.8 542.7 616.2 549.1 616.6 553.9 616.7 555.4 616.9 555.2 617.3 553.5 617.7 550.6 618.0 546.5 618.4 541.6 618.8 536.1 619.2 530.3 619.5 524.4 619.9 518.8 620.3 513.6 620.7 509.1 621.0 505.7 621.4 503.5 621.6 502.9 621.8 502.6 622.1 502.2 622.5 501.9 622.9 501.6 623.3 501.1 623.4 500.8 623.6 500.4 624.0 498.6 624.4 496.0 624.8 492.5 625.1 488.4 625.5 483.9 625.9 478.9 626.2 473.8 626.6 468.6 627.0 463.4 627.4 458.5 627.7 454.0 628.1 449.9 628.5 446.5 628.8 443.9 629.2 442.2 629.6 441.6 629.6 441.6 630.0 444.8 630.3 449.7 630.7 455.7 631.1 462.7 631.5 470.4 631.8 478.6 632.2 487.2 632.6 495.9 632.9 504.6 633.3 513.0 633.7 521.0 634.1 528.4 634.4 534.9 634.8 540.4 635.2 544.6 635.4 545.9 635.6 545.7 635.9 544.4 636.3 542.2 636.7 539.0 637.0 535.2 637.4 531.0 637.8 526.5 638.2 521.9 638.5 517.5 638.9 513.4 639.3 509.9 639.7 507.2 640.0 505.4 640.2 504.9 640.4 504.6 640.8 504.1 641.1 503.8 641.5 503.5 641.9 503.1 642.1 502.8 642.3 502.3 642.6 500.7 643.0 498.1 643.4 494.9 643.8 491.1 644.1 486.7 644.5 482.1 644.9 477.3 645.2 472.4 645.6 467.6 646.0 463.0 646.4 458.7 646.7 454.9 647.1 451.7 647.5 449.3 647.9 447.7 648.2 447.2 648.2 447.2 648.6 449.9 649.0 454.1 649.3 459.4 649.7 465.4 650.1 472.1 650.5 479.2 650.8 486.7 651.2 494.2 651.6 501.7 652.0 509.0 652.3 516.0 652.7 522.3 653.1 528.0 653.4 532.8 653.8 536.4 654.0 537.5 654.2 537.4 654.6 536.5 654.9 534.8 655.3 532.5 655.7 529.7 656.0 526.6 656.4 523.3 656.8 519.9 657.2 516.6 657.5 513.6 657.9 510.9 658.3 508.8 658.7 507.3 658.8 506.9 659.0 506.6 659.4 506.2 659.8 505.9 660.1 505.5 660.5 505.1 660.7 504.8 660.9 504.3 661.3 502.7 661.6 500.3 662.0 497.2 662.4 493.5 662.8 489.3 663.1 484.8 663.5 480.2 663.9 475.5 664.2 470.9 664.6 466.4 665.0 462.3 665.4 458.7 665.7 455.6 666.1 453.3 666.5 451.8 666.9 451.2 666.9 451.2 667.2 453.6 667.6 457.4 668.0 462.1 668.3 467.5 668.7 473.4 669.1 479.8 669.5 486.4 669.8 493.1 670.2 499.8 670.6 506.3 671.0 512.4 671.3 518.1 671.7 523.1 672.1 527.4 672.4 530.6 672.6 531.6 672.8 531.5 673.2 530.7 673.6 529.3 673.9 527.4 674.3 525.1 674.7 522.5 675.1 519.8 675.4 517.0 675.8 514.3 676.2 511.7 676.5 509.5 676.9 507.6 677.3 506.3 677.5 505.9 677.7 505.7 678.0 505.2 678.4 504.9 678.8 504.6 679.2 504.1 679.3 503.8 679.5 503.4 679.9 501.8 680.3 499.5 680.6 496.5 681.0 493.0 681.4 489.1 681.8 484.9 682.1 480.5 682.5 476.0 682.9 471.7 683.2 467.5 683.6 463.6 684.0 460.2 684.4 457.3 684.7 455.1 685.1 453.7 685.5 453.2 685.5 453.2 685.9 455.4 686.2 459.0 686.6 463.4 687.0 468.4 687.3 474.0 687.7 479.9 688.1 486.1 688.5 492.5 688.8 498.7 689.2 504.8 689.6 510.6 690.0 515.9 690.3 520.7 690.7 524.7 691.1 527.7 691.3 528.6 691.4 528.5 691.8 527.9 692.2 526.8 692.6 525.2 692.9 523.3 693.3 521.2 693.7 519.0 694.1 516.7 694.4 514.4 694.8 512.3 695.2 510.4 695.5 508.9 695.9 507.7 696.1 507.4 696.3 507.1 696.7 506.6 697.0 506.3 697.4 506.0 697.8 505.5 698.0 505.2 698.2 504.8 698.5 503.2 698.9 500.8 699.3 497.8 699.6 494.2 700.0 490.1 700.4 485.8 700.8 481.3 701.1 476.7 701.5 472.2 701.9 467.9 702.3 463.9 702.6 460.4 703.0 457.4 703.4 455.1 703.7 453.7 704.1 453.2 704.1 453.2 704.5 455.5 704.9 459.0 705.2 463.5 705.6 468.5 706.0 474.2 706.4 480.2 706.7 486.4 707.1 492.8 707.5 499.1 707.8 505.3 708.2 511.1 708.6 516.5 709.0 521.2 709.3 525.3 709.7 528.3 709.9 529.2 710.1 529.1 710.4 528.5 710.8 527.3 711.2 525.6 711.6 523.6 711.9 521.3 712.3 518.9 712.7 516.5 713.1 514.1 713.4 511.8 713.8 509.8 714.2 508.2 714.5 507.0 714.7 506.6 714.9 506.4 715.3 505.9 715.7 505.6 716.0 505.3 716.4 504.8 716.6 504.5 716.8 504.1 717.2 502.5 717.5 500.1 717.9 496.9 718.3 493.2 718.6 489.1 719.0 484.7 719.4 480.0 719.8 475.4 720.1 470.8 720.5 466.3 720.9 462.3 721.3 458.6 721.6 455.6 722.0 453.3 722.4 451.8 722.7 451.2 722.7 451.2 723.1 453.6 723.5 457.4 723.9 462.1 724.2 467.4 724.6 473.3 725.0 479.7 725.4 486.3 725.7 493.0 726.1 499.6 726.5 506.1 726.8 512.2 727.2 517.9 727.6 522.9 728.0 527.2 728.3 530.4 728.5 531.3 728.7 531.2 729.1 530.5 729.5 529.1 729.8 527.2 730.2 524.9 730.6 522.4 730.9 519.7 731.3 516.9 731.7 514.2 732.1 511.7 732.4 509.4 732.8 507.6 733.2 506.3 733.4 505.9 733.6 505.7 733.9 505.2 734.3 504.9 734.7 504.6 735.0 504.1 735.2 503.8 735.4 503.4 735.8 501.7 736.2 499.2 736.5 496.0 736.9 492.2 737.3 488.0 737.6 483.4 738.0 478.6 738.4 473.8 738.8 469.0 739.1 464.5 739.5 460.2 739.9 456.5 740.3 453.4 740.6 450.9 741.0 449.4 741.4 448.9 741.4 448.9 741.7 451.4 742.1 455.5 742.5 460.5 742.9 466.2 743.2 472.5 743.6 479.3 744.0 486.4 744.4 493.6 744.7 500.7 745.1 507.6 745.5 514.2 745.8 520.3 746.2 525.7 746.6 530.2 747.0 533.6 747.2 534.7 747.3 534.6 747.7 533.7 748.1 532.1 748.5 530.0 748.8 527.3 749.2 524.4 749.6 521.3 749.9 518.1 750.3 515.0 750.7 512.1 751.1 509.6 751.4 507.6 751.8 506.2 752.0 505.8 752.2 505.5 752.6 505.0 752.9 504.7 753.3 504.4 753.7 504.0 753.9 503.7 754.0 503.2 754.4 501.5 754.8 498.8 755.2 495.5 755.5 491.4 755.9 486.9 756.3 482.1 756.7 477.0 757.0 471.8 757.4 466.8 757.8 461.9 758.1 457.5 758.5 453.5 758.9 450.1 759.3 447.6 759.6 445.9 760.0 445.3 760.0 445.3 760.4 448.2 760.8 452.6 761.1 458.0 761.5 464.3 761.9 471.2 762.2 478.6 762.6 486.4 763.0 494.2 763.4 502.0 763.7 509.6 764.1 516.8 764.5 523.4 764.8 529.3 765.2 534.3 765.6 538.0 765.8 539.2 766.0 539.0 766.3 538.0 766.7 536.1 767.1 533.4 767.5 530.3 767.8 526.7 768.2 522.9 768.6 519.1 768.9 515.4 769.3 511.9 769.7 509.0 770.1 506.6 770.4 505.0 770.6 504.5 770.8 504.2 771.2 503.8 771.6 503.5 771.9 503.2 772.3 502.7 772.5 502.4 772.7 501.9 773.0 500.2 773.4 497.5 773.8 494.1 774.2 490.0 774.5 485.4 774.9 480.4 775.3 475.3 775.7 470.0 776.0 464.8 776.4 459.9 776.8 455.3 777.1 451.3 777.5 447.8 777.9 445.2 778.3 443.5 778.6 443.0 778.6 443.0 779.0 446.0 779.4 450.7 779.8 456.5 780.1 463.2 780.5 470.6 780.9 478.5 781.2 486.8 781.6 495.1 782.0 503.5 782.4 511.6 782.7 519.3 783.1 526.3 783.5 532.6 783.9 537.9 784.2 541.9 784.4 543.1 784.6 543.0 785.0 541.8 785.3 539.6 785.7 536.6 786.1 533.0 786.5 528.9 786.8 524.6 787.2 520.3 787.6 516.1 787.9 512.2 788.3 508.9 788.7 506.2 789.1 504.5 789.3 504.0 789.4 503.7 789.8 503.3 790.2 502.9 790.6 502.6 790.9 502.2 791.1 501.9 791.3 501.4 791.7 499.6 792.0 496.9 792.4 493.3 792.8 489.0 793.2 484.2 793.5 479.0 793.9 473.6 794.3 468.1 794.7 462.8 795.0 457.6 795.4 452.8 795.8 448.6 796.1 445.0 796.5 442.2 796.9 440.5 797.3 439.9 797.3 439.9 797.6 443.1 798.0 448.1 798.4 454.3 798.8 461.4 799.1 469.3 799.5 477.7 799.9 486.5 800.2 495.4 800.6 504.3 801.0 512.9 801.4 521.1 801.7 528.6 802.1 535.3 802.5 540.9 802.9 545.2 803.0 546.5 803.2 546.3 803.6 545.0 804.0 542.5 804.3 539.2 804.7 535.1 805.1 530.6 805.5 525.8 805.8 521.0 806.2 516.3 806.6 512.0 807.0 508.3 807.3 505.3 807.7 503.4 807.9 502.9 808.1 502.6 808.4 502.2 808.8 501.9 809.2 501.6 809.6 501.1 809.7 500.8 809.9 500.4 810.3 498.6 810.7 495.8 811.1 492.3 811.4 488.0 811.8 483.2 812.2 478.1 812.5 472.7 812.9 467.3 813.3 462.0 813.7 456.8 814.0 452.1 814.4 447.9 814.8 444.3 815.1 441.6 815.5 439.9 815.9 439.3 815.9 439.3 816.3 442.5 816.6 447.7 817.0 454.0 817.4 461.3 817.8 469.4 818.1 478.0 818.5 487.0 818.9 496.2 819.2 505.3 819.6 514.1 820.0 522.5 820.4 530.2 820.7 537.0 821.1 542.8 821.5 547.2 821.7 548.5 821.9 548.3 822.2 546.8 822.6 544.2 823.0 540.5 823.3 536.0 823.7 531.1 824.1 525.8 824.5 520.5 824.8 515.4 825.2 510.7 825.6 506.6 826.0 503.5 826.3 501.4 826.5 500.9 826.7 500.6 827.1 500.2 827.4 499.9 827.8 499.5 828.2 499.1 828.4 498.8 828.6 498.3 828.9 496.6 829.3 493.9 829.7 490.4 830.1 486.3 830.4 481.7 830.8 476.7 831.2 471.4 831.5 466.2 831.9 461.0 832.3 456.0 832.7 451.4 833.0 447.3 833.4 443.8 833.8 441.2 834.2 439.5 834.5 438.9 834.5 438.9 834.9 442.2 835.3 447.5 835.6 453.9 836.0 461.3 836.4 469.5 836.8 478.3 837.1 487.4 837.5 496.7 837.9 506.0 838.3 514.9 838.6 523.5 839.0 531.3 839.4 538.3 839.7 544.1 840.1 548.6 840.3 549.9 840.5 549.7 840.9 548.2 841.2 545.3 841.6 541.5 842.0 536.8 842.3 531.6 842.7 526.0 843.1 520.5 843.5 515.1 843.8 510.1 844.2 505.9 844.6 502.6 845.0 500.5 845.1 500.0 845.3 499.6 845.7 499.2 846.1 498.9 846.4 498.6 846.8 498.1 847.0 497.8 847.2 497.4 847.6 495.6 847.9 493.0 848.3 489.6 848.7 485.5 849.1 480.9 849.4 476.0 849.8 470.9 850.2 465.7 850.5 460.6 850.9 455.7 851.3 451.2 851.7 447.1 852.0 443.7 852.4 441.2 852.8 439.5 853.2 438.9 853.2 438.9 853.5 442.3 853.9 447.6 854.3 454.1 854.6 461.6 855.0 469.9 855.4 478.7 855.8 487.9 856.1 497.3 856.5 506.7 856.9 515.7 857.3 524.3 857.6 532.2 858.0 539.3 858.4 545.2 858.7 549.7 858.9 551.1 859.1 550.8 859.5 549.2 859.9 546.3 860.2 542.2 860.6 537.3 861.0 531.9 861.4 526.1 861.7 520.3 862.1 514.7 862.5 509.6 862.8 505.1 863.2 501.7 863.6 499.5 863.8 499.0 864.0 498.7 864.3 498.2 864.7 497.9 865.1 497.6 865.5 497.2 865.6 496.9 865.8 496.4 866.2 494.7 866.6 492.1 866.9 488.8 867.3 484.8 867.7 480.3 868.1 475.5 868.4 470.5 868.8 465.4 869.2 460.4 869.5 455.7 869.9 451.2 870.3 447.3 870.7 444.0 871.0 441.5 871.4 439.8 871.8 439.3 871.8 439.3 872.2 442.6 872.5 447.9 872.9 454.5 873.3 462.0 873.6 470.3 874.0 479.2 874.4 488.5 874.8 497.9 875.1 507.3 875.5 516.4 875.9 525.0 876.3 533.0 876.6 540.0 877.0 546.0 877.4 550.5 877.6 551.8 877.7 551.6 878.1 549.9 878.5 546.8 878.9 542.6 879.2 537.5 879.6 531.8 880.0 525.7 880.4 519.6 880.7 513.8 881.1 508.4 881.5 503.8 881.8 500.2 882.2 497.9 882.4 497.4 882.6 497.1 883.0 496.6 883.3 496.3 883.7 496.0 884.1 495.6 884.3 495.3 884.5 494.8 884.8 493.2 885.2 490.7 885.6 487.6 885.9 483.8 886.3 479.6 886.7 475.1 887.1 470.3 887.4 465.6 887.8 460.9 888.2 456.4 888.6 452.2 888.9 448.5 889.3 445.4 889.7 443.0 890.0 441.5 890.4 440.9 890.4 440.9 890.8 444.3 891.2 449.6 891.5 456.1 891.9 463.6 892.3 471.9 892.7 480.7 893.0 490.0 893.4 499.4 893.8 508.7 894.1 517.8 894.5 526.4 894.9 534.3 895.3 541.3 895.6 547.2 896.0 551.7 896.2 553.1 896.4 553.0 896.7 552.2 897.1 550.6 897.5 548.3 897.9 545.1 898.2 541.0 898.6 536.1 899.0 530.3 899.4 523.6 899.7 516.1 900.1 507.6 900.3 502.9" fill="none" stroke="#038035" stroke-width="3.1" stroke-linejoin="round" stroke-linecap="butt"/>
<text transform="translate(403.60 695.01) scale(1.1536 0.9906)" font-size="50.5" fill="#262626" stroke="#fff" stroke-width="0.7">date</text>
<text transform="translate(519.96 695.59) scale(0.9175 1.0985)" font-size="50.5" fill="#262626" stroke="#fff" stroke-width="0.7">(</text>
<text transform="translate(536.95 694.86) scale(1.0567 0.9483)" font-size="50.5" fill="#262626" stroke="#fff" stroke-width="0.7">year</text>
<text transform="translate(631.32 695.59) scale(0.9098 1.0985)" font-size="50.5" fill="#262626" stroke="#fff" stroke-width="0.7">)</text>
<text transform="translate(37.40 634.50) rotate(-90) translate(-1.51 0.40) scale(1.0410 1.0318)" font-size="50.5" fill="#038035" stroke="#fff" stroke-width="0.7">HAD-X</text>
<text transform="translate(37.40 634.50) rotate(-90) translate(189.05 0.61) scale(0.8789 1.0963)" font-size="50.5" fill="#038035" stroke="#fff" stroke-width="0.7">(</text>
<text transform="translate(37.40 634.50) rotate(-90) translate(205.59 0.00) scale(1.1275 1.0222)" font-size="50.5" fill="#038035" stroke="#fff" stroke-width="0.7">nT</text>
<text transform="translate(37.40 634.50) rotate(-90) translate(271.69 0.61) scale(0.8635 1.0963)" font-size="50.5" fill="#038035" stroke="#fff" stroke-width="0.7">)</text>
<line x1="992.1" y1="585.3" x2="1780.2" y2="585.3" stroke="#262626" stroke-width="4"/>
<line x1="994.1" y1="585.3" x2="994.1" y2="575.5" stroke="#262626" stroke-width="4"/>
<text transform="translate(994.10 640.70) scale(0.965 1)" font-size="47" text-anchor="middle" fill="#262626">1980</text>
<line x1="1180.8" y1="585.3" x2="1180.8" y2="575.5" stroke="#262626" stroke-width="4"/>
<text transform="translate(1180.80 640.70) scale(0.965 1)" font-size="47" text-anchor="middle" fill="#262626">1990</text>
<line x1="1367.5" y1="585.3" x2="1367.5" y2="575.5" stroke="#262626" stroke-width="4"/>
<text transform="translate(1367.50 640.70) scale(0.965 1)" font-size="47" text-anchor="middle" fill="#262626">2000</text>
<line x1="1554.2" y1="585.3" x2="1554.2" y2="575.5" stroke="#262626" stroke-width="4"/>
<text transform="translate(1554.20 640.70) scale(0.965 1)" font-size="47" text-anchor="middle" fill="#262626">2010</text>
<line x1="1740.9" y1="585.3" x2="1740.9" y2="575.5" stroke="#262626" stroke-width="4"/>
<text transform="translate(1740.90 640.70) scale(0.965 1)" font-size="47" text-anchor="middle" fill="#262626">2020</text>
<line x1="1778.2" y1="393.5" x2="1778.2" y2="587.3" stroke="#ff8080" stroke-width="4.4"/>
<line x1="1778.2" y1="438.0" x2="1768.2" y2="438.0" stroke="#ff8080" stroke-width="4"/>
<text transform="translate(1791.0 455.60) scale(0.96 1)" font-size="47" text-anchor="start" fill="#ff8080">5</text>
<line x1="1778.2" y1="506.4" x2="1768.2" y2="506.4" stroke="#ff8080" stroke-width="4"/>
<text transform="translate(1791.0 524.00) scale(0.96 1)" font-size="47" text-anchor="start" fill="#ff8080">0</text>
<line x1="1778.2" y1="573.3" x2="1768.2" y2="573.3" stroke="#ff8080" stroke-width="4"/>
<text transform="translate(1791.0 590.90) scale(0.96 1)" font-size="47" text-anchor="start" fill="#ff8080">-5</text>
<path clip-path="url(#c3)" d="M993.9 566.8 994.3 555.0 994.7 544.5 995.0 535.1 995.4 526.9 995.8 519.8 996.2 513.6 996.5 508.5 996.9 504.4 997.3 501.1 997.6 498.8 998.0 497.2 998.4 496.5 998.6 496.4 998.8 497.7 999.1 502.5 999.5 508.9 999.9 516.3 1000.3 524.5 1000.6 532.8 1001.0 541.0 1001.4 548.5 1001.8 554.8 1002.1 559.6 1002.3 560.9 1002.5 559.0 1002.9 552.2 1003.2 543.3 1003.6 532.7 1004.0 520.9 1004.4 508.0 1004.7 494.6 1005.1 480.9 1005.5 467.3 1005.9 454.1 1006.2 441.7 1006.6 430.4 1007.0 420.6 1007.4 412.7 1007.7 407.7 1007.7 407.7 1008.1 412.3 1008.5 424.5 1008.8 442.1 1009.2 462.9 1009.6 484.6 1010.0 504.9 1010.3 521.6 1010.7 532.5 1010.9 535.0 1011.1 536.3 1011.5 537.9 1011.8 539.4 1012.0 540.4 1012.2 541.8 1012.6 545.9 1013.0 550.9 1013.3 556.3 1013.7 561.4 1014.1 565.4 1014.5 567.8 1014.6 568.1 1014.8 567.1 1015.2 563.5 1015.6 558.8 1015.9 553.2 1016.3 546.9 1016.7 540.2 1017.1 533.2 1017.4 526.1 1017.8 519.3 1018.2 512.7 1018.6 506.8 1018.9 501.6 1019.3 497.4 1019.7 494.8 1019.7 494.8 1020.1 498.8 1020.4 505.3 1020.8 513.3 1021.2 522.3 1021.5 531.7 1021.9 541.0 1022.3 549.5 1022.7 556.9 1023.0 562.3 1023.2 563.9 1023.4 561.9 1023.8 554.9 1024.2 545.7 1024.5 534.8 1024.9 522.5 1025.3 509.3 1025.7 495.4 1026.0 481.2 1026.4 467.2 1026.8 453.6 1027.1 440.8 1027.5 429.1 1027.9 419.0 1028.3 410.8 1028.6 405.7 1028.6 405.6 1029.0 411.6 1029.4 421.1 1029.8 432.8 1030.1 446.2 1030.5 461.0 1030.9 476.5 1031.3 492.4 1031.6 508.2 1032.0 523.4 1032.4 537.5 1032.7 550.1 1033.1 560.8 1033.5 568.8 1033.7 571.2 1033.9 570.1 1034.2 566.1 1034.6 560.9 1035.0 554.7 1035.4 547.9 1035.7 540.5 1036.1 532.8 1036.5 525.2 1036.9 517.8 1037.2 510.9 1037.6 504.8 1038.0 499.6 1038.3 495.6 1038.5 494.5 1038.7 496.1 1039.1 501.8 1039.5 509.3 1039.8 518.2 1040.2 527.8 1040.6 537.5 1041.0 546.8 1041.3 555.1 1041.7 561.8 1042.1 565.9 1042.1 565.9 1042.5 560.6 1042.8 552.2 1043.2 541.8 1043.6 529.9 1043.9 516.7 1044.3 502.7 1044.7 488.3 1045.1 473.7 1045.4 459.5 1045.8 445.9 1046.2 433.3 1046.6 422.1 1046.9 412.6 1047.3 405.5 1047.5 403.4 1047.7 405.8 1048.1 414.0 1048.4 425.0 1048.8 437.9 1049.2 452.4 1049.5 468.0 1049.9 484.2 1050.3 500.5 1050.7 516.5 1051.0 531.6 1051.4 545.4 1051.8 557.4 1052.2 567.1 1052.5 573.2 1052.5 573.2 1052.9 569.6 1053.3 563.9 1053.7 556.7 1054.0 548.6 1054.4 539.8 1054.8 530.8 1055.2 521.8 1055.5 513.3 1055.9 505.6 1056.3 499.1 1056.6 494.3 1056.8 492.9 1057.0 494.6 1057.4 500.5 1057.8 508.4 1058.1 517.7 1058.5 527.8 1058.9 538.0 1059.3 547.7 1059.6 556.4 1060.0 563.5 1060.4 567.8 1060.4 567.8 1060.8 562.3 1061.1 553.7 1061.5 543.0 1061.9 530.7 1062.2 517.2 1062.6 502.8 1063.0 487.9 1063.4 473.0 1063.7 458.3 1064.1 444.3 1064.5 431.3 1064.9 419.8 1065.2 410.0 1065.6 402.7 1065.8 400.5 1066.0 403.0 1066.4 411.5 1066.7 422.7 1067.1 436.1 1067.5 451.0 1067.8 467.0 1068.2 483.7 1068.6 500.5 1069.0 516.9 1069.3 532.4 1069.7 546.6 1070.1 559.0 1070.5 568.9 1070.8 575.3 1070.8 575.3 1071.2 572.4 1071.6 567.8 1072.0 562.1 1072.3 555.6 1072.7 548.4 1073.1 540.8 1073.4 533.0 1073.8 525.2 1074.2 517.7 1074.6 510.5 1074.9 504.0 1075.3 498.3 1075.7 493.7 1076.1 490.8 1076.1 490.8 1076.4 495.3 1076.8 502.5 1077.2 511.5 1077.6 521.5 1077.9 532.0 1078.3 542.3 1078.7 551.8 1079.0 560.0 1079.4 566.1 1079.6 567.8 1079.8 565.6 1080.2 558.2 1080.5 548.3 1080.9 536.7 1081.3 523.5 1081.7 509.4 1082.0 494.5 1082.4 479.4 1082.8 464.3 1083.2 449.8 1083.5 436.1 1083.9 423.6 1084.3 412.8 1084.6 404.1 1085.0 398.5 1085.0 398.5 1085.4 405.0 1085.8 415.2 1086.1 427.8 1086.5 442.3 1086.9 458.2 1087.3 475.0 1087.6 492.1 1088.0 509.2 1088.4 525.5 1088.8 540.8 1089.1 554.4 1089.5 565.9 1089.9 574.6 1090.1 577.1 1090.3 575.9 1090.6 571.7 1091.0 566.0 1091.4 559.4 1091.7 551.9 1092.1 543.9 1092.5 535.6 1092.9 527.2 1093.2 519.0 1093.6 511.3 1094.0 504.2 1094.4 498.0 1094.7 493.0 1095.1 489.9 1095.1 489.9 1095.5 494.5 1095.9 501.9 1096.2 511.0 1096.6 521.3 1097.0 532.0 1097.3 542.6 1097.7 552.4 1098.1 560.7 1098.5 567.0 1098.7 568.8 1098.8 566.6 1099.2 559.0 1099.6 549.1 1100.0 537.2 1100.3 524.0 1100.7 509.7 1101.1 494.6 1101.5 479.3 1101.8 464.1 1102.2 449.4 1102.6 435.5 1102.9 423.0 1103.3 412.0 1103.7 403.2 1104.1 397.6 1104.1 397.6 1104.4 404.1 1104.8 414.5 1105.2 427.3 1105.6 442.1 1105.9 458.2 1106.3 475.3 1106.7 492.7 1107.1 510.0 1107.4 526.7 1107.8 542.2 1108.2 556.1 1108.5 567.8 1108.9 576.6 1109.1 579.2 1109.3 577.8 1109.7 572.9 1110.0 566.5 1110.4 558.8 1110.8 550.3 1111.2 541.2 1111.5 531.9 1111.9 522.7 1112.3 513.9 1112.7 505.8 1113.0 498.7 1113.4 493.0 1113.8 489.4 1113.8 489.4 1114.1 494.0 1114.5 501.4 1114.9 510.6 1115.3 521.0 1115.6 531.8 1116.0 542.4 1116.4 552.3 1116.8 560.7 1117.1 567.0 1117.3 568.8 1117.5 566.5 1117.9 559.0 1118.3 549.0 1118.6 537.1 1119.0 523.8 1119.4 509.4 1119.7 494.3 1120.1 478.9 1120.5 463.6 1120.9 448.8 1121.2 434.9 1121.6 422.3 1122.0 411.3 1122.4 402.4 1122.7 396.7 1122.7 396.7 1123.1 403.4 1123.5 413.9 1123.9 427.0 1124.2 441.9 1124.6 458.3 1125.0 475.6 1125.4 493.3 1125.7 510.9 1126.1 527.8 1126.5 543.6 1126.8 557.6 1127.2 569.5 1127.6 578.4 1127.8 581.1 1128.0 579.7 1128.3 574.9 1128.7 568.7 1129.1 561.2 1129.5 552.9 1129.8 544.0 1130.2 534.8 1130.6 525.6 1131.0 516.7 1131.3 508.4 1131.7 500.9 1132.1 494.7 1132.4 489.9 1132.6 488.5 1132.8 490.3 1133.2 496.6 1133.6 505.0 1133.9 514.8 1134.3 525.5 1134.7 536.3 1135.1 546.6 1135.4 555.8 1135.8 563.2 1136.2 567.8 1136.2 567.8 1136.6 562.2 1136.9 553.3 1137.3 542.3 1137.7 529.7 1138.0 515.8 1138.4 501.0 1138.8 485.7 1139.2 470.3 1139.5 455.2 1139.9 440.8 1140.3 427.5 1140.7 415.6 1141.0 405.6 1141.4 398.0 1141.6 395.8 1141.8 398.5 1142.2 407.6 1142.5 419.6 1142.9 433.9 1143.3 449.9 1143.6 467.1 1144.0 484.9 1144.4 502.9 1144.8 520.5 1145.1 537.2 1145.5 552.4 1145.9 565.6 1146.3 576.3 1146.6 583.1 1146.6 583.1 1147.0 579.5 1147.4 573.7 1147.8 566.6 1148.1 558.5 1148.5 549.6 1148.9 540.3 1149.2 530.8 1149.6 521.5 1150.0 512.6 1150.4 504.4 1150.7 497.3 1151.1 491.6 1151.5 488.0 1151.5 488.0 1151.9 492.5 1152.2 499.9 1152.6 508.9 1153.0 519.0 1153.4 529.6 1153.7 540.1 1154.1 549.7 1154.5 558.0 1154.8 564.2 1155.0 565.9 1155.2 563.7 1155.6 556.3 1156.0 546.4 1156.3 534.7 1156.7 521.5 1157.1 507.3 1157.5 492.5 1157.8 477.3 1158.2 462.2 1158.6 447.6 1159.0 433.9 1159.3 421.4 1159.7 410.5 1160.1 401.8 1160.4 396.2 1160.4 396.2 1160.8 403.0 1161.2 413.7 1161.6 427.0 1161.9 442.3 1162.3 459.0 1162.7 476.6 1163.1 494.7 1163.4 512.6 1163.8 529.9 1164.2 545.9 1164.6 560.3 1164.9 572.4 1165.3 581.5 1165.5 584.2 1165.7 582.8 1166.1 578.1 1166.4 571.9 1166.8 564.6 1167.2 556.4 1167.5 547.6 1167.9 538.4 1168.3 529.2 1168.7 520.1 1169.0 511.6 1169.4 503.8 1169.8 497.0 1170.2 491.5 1170.5 488.0 1170.5 488.0 1170.9 492.4 1171.3 499.5 1171.7 508.3 1172.0 518.2 1172.4 528.6 1172.8 538.7 1173.1 548.1 1173.5 556.2 1173.9 562.2 1174.1 563.9 1174.3 561.8 1174.6 554.4 1175.0 544.8 1175.4 533.3 1175.8 520.4 1176.1 506.5 1176.5 491.9 1176.9 477.0 1177.3 462.2 1177.6 447.9 1178.0 434.5 1178.4 422.2 1178.7 411.6 1179.1 403.0 1179.5 397.6 1179.5 397.6 1179.9 404.3 1180.2 415.1 1180.6 428.3 1181.0 443.6 1181.4 460.3 1181.7 477.9 1182.1 495.9 1182.5 513.8 1182.9 531.0 1183.2 547.1 1183.6 561.4 1184.0 573.5 1184.3 582.6 1184.5 585.2 1184.7 583.9 1185.1 579.4 1185.5 573.5 1185.8 566.4 1186.2 558.5 1186.6 550.0 1187.0 541.1 1187.3 532.1 1187.7 523.2 1188.1 514.7 1188.5 506.8 1188.8 499.8 1189.2 493.8 1189.6 489.3 1189.8 488.0 1189.9 489.7 1190.3 495.6 1190.7 503.5 1191.1 512.8 1191.4 522.9 1191.8 533.1 1192.2 542.8 1192.6 551.5 1192.9 558.5 1193.3 562.8 1193.3 562.8 1193.7 557.5 1194.1 549.0 1194.4 538.5 1194.8 526.5 1195.2 513.2 1195.5 499.1 1195.9 484.5 1196.3 469.9 1196.7 455.5 1197.0 441.8 1197.4 429.1 1197.8 417.8 1198.2 408.2 1198.5 401.0 1198.7 398.9 1198.9 401.6 1199.3 410.6 1199.7 422.6 1200.0 436.8 1200.4 452.7 1200.8 469.8 1201.2 487.6 1201.5 505.5 1201.9 523.0 1202.3 539.6 1202.6 554.7 1203.0 567.9 1203.4 578.5 1203.8 585.2 1203.8 585.2 1204.1 581.1 1204.5 574.6 1204.9 566.5 1205.3 557.3 1205.6 547.3 1206.0 536.9 1206.4 526.5 1206.8 516.5 1207.1 507.2 1207.5 499.2 1207.9 492.6 1208.2 488.5 1208.2 488.5 1208.6 492.6 1209.0 499.2 1209.4 507.4 1209.7 516.5 1210.1 526.1 1210.5 535.6 1210.9 544.3 1211.2 551.7 1211.6 557.3 1211.8 558.9 1212.0 556.9 1212.4 550.0 1212.7 540.8 1213.1 530.0 1213.5 517.8 1213.8 504.7 1214.2 490.9 1214.6 476.8 1215.0 462.8 1215.3 449.3 1215.7 436.6 1216.1 425.1 1216.5 415.0 1216.8 406.9 1217.2 401.7 1217.2 401.7 1217.6 408.4 1218.0 418.9 1218.3 431.8 1218.7 446.7 1219.1 463.0 1219.4 480.3 1219.8 497.9 1220.2 515.4 1220.6 532.2 1220.9 547.9 1221.3 561.9 1221.7 573.7 1222.1 582.6 1222.2 585.2 1222.4 583.8 1222.8 578.9 1223.2 572.4 1223.6 564.7 1223.9 556.1 1224.3 546.8 1224.7 537.3 1225.0 527.8 1225.4 518.5 1225.8 509.9 1226.2 502.2 1226.5 495.7 1226.9 490.8 1227.1 489.4 1227.3 490.8 1227.7 496.0 1228.0 503.0 1228.4 511.1 1228.8 519.9 1229.2 528.9 1229.5 537.4 1229.9 545.0 1230.3 551.2 1230.6 555.0 1230.6 555.0 1231.0 550.1 1231.4 542.3 1231.8 532.7 1232.1 521.7 1232.5 509.5 1232.9 496.6 1233.3 483.2 1233.6 469.8 1234.0 456.6 1234.4 444.0 1234.8 432.4 1235.1 422.0 1235.5 413.3 1235.9 406.7 1236.1 404.7 1236.2 407.3 1236.6 416.0 1237.0 427.6 1237.4 441.3 1237.7 456.6 1238.1 473.1 1238.5 490.2 1238.9 507.5 1239.2 524.4 1239.6 540.4 1240.0 555.0 1240.4 567.7 1240.7 577.9 1241.1 584.4 1241.1 584.4 1241.5 580.9 1241.9 575.2 1242.2 568.2 1242.6 560.2 1243.0 551.4 1243.3 542.2 1243.7 532.8 1244.1 523.6 1244.5 514.8 1244.8 506.8 1245.2 499.8 1245.6 494.1 1246.0 490.6 1246.0 490.6 1246.3 494.1 1246.7 499.7 1247.1 506.7 1247.5 514.6 1247.8 522.8 1248.2 530.9 1248.6 538.4 1248.9 544.8 1249.3 549.6 1249.5 551.0 1249.7 549.1 1250.1 542.8 1250.4 534.5 1250.8 524.6 1251.2 513.6 1251.6 501.6 1251.9 489.1 1252.3 476.3 1252.7 463.6 1253.1 451.3 1253.4 439.8 1253.8 429.3 1254.2 420.2 1254.5 412.8 1254.9 408.1 1254.9 408.1 1255.3 414.4 1255.7 424.4 1256.0 436.8 1256.4 451.0 1256.8 466.5 1257.2 482.9 1257.5 499.7 1257.9 516.4 1258.3 532.4 1258.7 547.4 1259.0 560.7 1259.4 572.0 1259.8 580.5 1260.0 583.0 1260.1 581.6 1260.5 576.9 1260.9 570.7 1261.3 563.4 1261.6 555.2 1262.0 546.5 1262.4 537.4 1262.8 528.4 1263.1 519.6 1263.5 511.4 1263.9 504.1 1264.3 497.9 1264.6 493.3 1264.8 491.9 1265.0 493.2 1265.4 497.4 1265.7 503.2 1266.1 509.9 1266.5 517.2 1266.9 524.5 1267.2 531.6 1267.6 537.9 1268.0 542.9 1268.4 546.1 1268.4 546.1 1268.7 541.7 1269.1 534.8 1269.5 526.3 1269.9 516.5 1270.2 505.7 1270.6 494.2 1271.0 482.4 1271.3 470.4 1271.7 458.7 1272.1 447.6 1272.5 437.2 1272.8 428.0 1273.2 420.3 1273.6 414.4 1273.8 412.7 1274.0 415.1 1274.3 423.3 1274.7 434.2 1275.1 447.0 1275.5 461.5 1275.8 477.0 1276.2 493.1 1276.6 509.3 1277.0 525.2 1277.3 540.2 1277.7 553.9 1278.1 565.8 1278.4 575.5 1278.8 581.6 1278.8 581.6 1279.2 578.3 1279.6 572.9 1279.9 566.4 1280.3 558.8 1280.7 550.6 1281.1 542.0 1281.4 533.2 1281.8 524.5 1282.2 516.3 1282.6 508.8 1282.9 502.2 1283.3 496.9 1283.7 493.5 1283.7 493.5 1284.0 496.4 1284.4 500.9 1284.8 506.5 1285.2 512.8 1285.5 519.4 1285.9 526.0 1286.3 532.0 1286.7 537.1 1287.0 540.9 1287.2 542.0 1287.4 540.4 1287.8 534.9 1288.2 527.7 1288.5 519.1 1288.9 509.4 1289.3 499.0 1289.6 488.0 1290.0 476.9 1290.4 465.8 1290.8 455.0 1291.1 445.0 1291.5 435.8 1291.9 427.8 1292.3 421.4 1292.6 417.3 1292.6 417.3 1293.0 423.2 1293.4 432.5 1293.8 444.0 1294.1 457.2 1294.5 471.7 1294.9 487.0 1295.2 502.7 1295.6 518.2 1296.0 533.2 1296.4 547.1 1296.7 559.5 1297.1 570.0 1297.5 577.9 1297.7 580.2 1297.9 578.9 1298.2 574.3 1298.6 568.1 1299.0 560.8 1299.4 552.7 1299.7 544.0 1300.1 535.1 1300.5 526.3 1300.8 517.9 1301.2 510.1 1301.6 503.4 1302.0 497.9 1302.3 494.5 1302.3 494.5 1302.7 497.0 1303.1 501.0 1303.5 505.9 1303.8 511.4 1304.2 517.2 1304.6 522.9 1305.0 528.2 1305.3 532.7 1305.7 536.1 1305.9 537.0 1306.1 535.5 1306.4 530.5 1306.8 523.7 1307.2 515.7 1307.6 506.7 1307.9 497.1 1308.3 486.9 1308.7 476.5 1309.1 466.2 1309.4 456.3 1309.8 446.9 1310.2 438.4 1310.6 431.0 1310.9 425.0 1311.3 421.2 1311.3 421.2 1311.7 426.8 1312.1 435.8 1312.4 446.8 1312.8 459.5 1313.2 473.4 1313.5 488.1 1313.9 503.1 1314.3 518.0 1314.7 532.4 1315.0 545.7 1315.4 557.7 1315.8 567.7 1316.2 575.3 1316.3 577.5 1316.5 576.2 1316.9 571.8 1317.3 565.8 1317.7 558.8 1318.0 551.0 1318.4 542.6 1318.8 534.1 1319.1 525.6 1319.5 517.4 1319.9 510.0 1320.3 503.5 1320.6 498.2 1321.0 494.9 1321.0 494.9 1321.4 497.0 1321.8 500.4 1322.1 504.6 1322.5 509.4 1322.9 514.3 1323.3 519.2 1323.6 523.7 1324.0 527.5 1324.4 530.4 1324.6 531.2 1324.7 529.9 1325.1 525.2 1325.5 519.1 1325.9 511.8 1326.2 503.6 1326.6 494.7 1327.0 485.5 1327.4 476.0 1327.7 466.6 1328.1 457.5 1328.5 449.0 1328.9 441.2 1329.2 434.4 1329.6 429.0 1330.0 425.5 1330.0 425.5 1330.3 430.9 1330.7 439.5 1331.1 450.1 1331.5 462.3 1331.8 475.7 1332.2 489.8 1332.6 504.3 1333.0 518.6 1333.3 532.4 1333.7 545.2 1334.1 556.7 1334.5 566.4 1334.8 573.7 1335.0 575.8 1335.2 574.7 1335.6 570.8 1335.9 565.7 1336.3 559.6 1336.7 552.9 1337.1 545.6 1337.4 538.0 1337.8 530.4 1338.2 522.9 1338.6 515.8 1338.9 509.4 1339.3 503.8 1339.7 499.2 1340.1 496.4 1340.1 496.4 1340.4 498.2 1340.8 501.1 1341.2 504.6 1341.5 508.6 1341.9 512.8 1342.3 517.0 1342.7 520.8 1343.0 524.1 1343.4 526.5 1343.6 527.2 1343.8 525.9 1344.2 521.7 1344.5 516.1 1344.9 509.5 1345.3 502.1 1345.7 494.0 1346.0 485.6 1346.4 477.0 1346.8 468.5 1347.1 460.2 1347.5 452.5 1347.9 445.4 1348.3 439.3 1348.6 434.3 1349.0 431.2 1349.0 431.2 1349.4 436.3 1349.8 444.4 1350.1 454.5 1350.5 466.1 1350.9 478.7 1351.3 492.1 1351.6 505.8 1352.0 519.3 1352.4 532.4 1352.8 544.5 1353.1 555.4 1353.5 564.6 1353.9 571.5 1354.1 573.5 1354.2 572.3 1354.6 568.3 1355.0 562.9 1355.4 556.6 1355.7 549.5 1356.1 542.0 1356.5 534.2 1356.9 526.5 1357.2 519.2 1357.6 512.4 1358.0 506.6 1358.4 501.8 1358.7 498.8 1358.7 498.8 1359.1 500.3 1359.5 502.7 1359.8 505.6 1360.2 508.9 1360.6 512.4 1361.0 515.8 1361.3 518.9 1361.7 521.6 1362.1 523.6 1362.3 524.2 1362.5 523.1 1362.8 519.2 1363.2 514.1 1363.6 508.1 1364.0 501.3 1364.3 493.9 1364.7 486.2 1365.1 478.4 1365.4 470.6 1365.8 463.0 1366.2 455.9 1366.6 449.5 1366.9 443.9 1367.3 439.3 1367.7 436.4 1367.7 436.4 1368.1 441.3 1368.4 449.0 1368.8 458.6 1369.2 469.5 1369.6 481.5 1369.9 494.2 1370.3 507.2 1370.7 520.1 1371.0 532.5 1371.4 544.0 1371.8 554.3 1372.2 563.0 1372.5 569.5 1372.7 571.5 1372.9 570.5 1373.3 567.0 1373.7 562.4 1374.0 556.9 1374.4 550.8 1374.8 544.2 1375.2 537.3 1375.5 530.4 1375.9 523.7 1376.3 517.3 1376.6 511.5 1377.0 506.4 1377.4 502.3 1377.8 499.7 1377.8 499.7 1378.1 500.9 1378.5 502.7 1378.9 505.0 1379.3 507.5 1379.6 510.2 1380.0 512.8 1380.4 515.2 1380.8 517.2 1381.1 518.8 1381.3 519.2 1381.5 518.2 1381.9 514.7 1382.2 510.1 1382.6 504.6 1383.0 498.5 1383.4 491.8 1383.7 484.8 1384.1 477.7 1384.5 470.7 1384.9 463.8 1385.2 457.4 1385.6 451.6 1386.0 446.5 1386.4 442.4 1386.7 439.8 1386.7 439.8 1387.1 444.5 1387.5 451.8 1387.9 461.0 1388.2 471.4 1388.6 482.9 1389.0 495.0 1389.3 507.4 1389.7 519.7 1390.1 531.5 1390.5 542.5 1390.8 552.4 1391.2 560.7 1391.6 566.9 1391.8 568.8 1392.0 567.7 1392.3 560.4 1392.7 549.8 1393.1 540.2 1393.5 535.7 1393.5 535.7 1393.8 535.2 1394.2 534.8 1394.6 534.5 1394.9 534.3 1395.3 534.1 1395.7 534.0 1396.1 533.8 1396.4 533.8 1396.8 533.7 1397.2 533.6 1397.6 533.5 1397.9 533.5 1398.3 533.4 1398.7 533.2 1399.1 533.0 1399.4 532.8 1399.8 532.5 1400.2 532.1 1400.5 531.7 1400.5 531.6 1400.9 528.0 1401.3 520.1 1401.7 510.7 1402.0 503.0 1402.4 499.7 1402.4 499.7 1402.8 500.7 1403.2 502.2 1403.5 504.0 1403.9 506.1 1404.3 508.3 1404.7 510.4 1405.0 512.4 1405.4 514.1 1405.8 515.4 1406.0 515.7 1406.1 514.7 1406.5 511.1 1406.9 506.4 1407.3 500.8 1407.6 494.5 1408.0 487.8 1408.4 480.8 1408.8 473.8 1409.1 466.9 1409.5 460.4 1409.9 454.4 1410.3 449.2 1410.6 445.0 1411.0 442.4 1411.0 442.4 1411.4 446.9 1411.7 454.0 1412.1 462.8 1412.5 472.9 1412.9 483.9 1413.2 495.6 1413.6 507.6 1414.0 519.4 1414.4 530.8 1414.7 541.4 1415.1 550.9 1415.5 558.9 1415.9 565.0 1416.0 566.8 1416.2 565.6 1416.6 561.6 1417.0 556.3 1417.3 550.0 1417.7 543.0 1418.1 535.6 1418.5 528.2 1418.8 521.0 1419.2 514.4 1419.6 508.5 1420.0 503.8 1420.3 500.8 1420.3 500.8 1420.7 501.6 1421.1 502.8 1421.5 504.3 1421.8 506.0 1422.2 507.8 1422.6 509.5 1422.9 511.1 1423.3 512.5 1423.7 513.5 1423.9 513.8 1424.1 512.9 1424.4 510.0 1424.8 506.0 1425.2 501.3 1425.6 496.0 1425.9 490.3 1426.3 484.4 1426.7 478.3 1427.1 472.2 1427.4 466.4 1427.8 460.9 1428.2 455.9 1428.6 451.5 1428.9 448.0 1429.3 445.7 1429.3 445.7 1429.7 450.1 1430.0 457.0 1430.4 465.6 1430.8 475.4 1431.2 486.2 1431.5 497.5 1431.9 509.2 1432.3 520.7 1432.7 531.8 1433.0 542.1 1433.4 551.4 1433.8 559.2 1434.2 565.0 1434.3 566.8 1434.5 565.8 1434.9 562.5 1435.3 558.0 1435.6 552.8 1436.0 547.0 1436.4 540.7 1436.8 534.3 1437.1 527.8 1437.5 521.5 1437.9 515.7 1438.3 510.5 1438.6 506.1 1439.0 502.7 1439.2 501.8 1439.4 502.0 1439.8 502.8 1440.1 503.9 1440.5 505.1 1440.9 506.4 1441.2 507.8 1441.6 509.1 1442.0 510.3 1442.4 511.2 1442.7 511.8 1442.7 511.8 1443.1 509.7 1443.5 506.5 1443.9 502.5 1444.2 497.8 1444.6 492.7 1445.0 487.3 1445.4 481.7 1445.7 476.1 1446.1 470.6 1446.5 465.3 1446.8 460.4 1447.2 456.1 1447.6 452.4 1448.0 449.7 1448.2 448.9 1448.3 450.5 1448.7 456.1 1449.1 463.6 1449.5 472.5 1449.8 482.4 1450.2 493.0 1450.6 504.1 1451.0 515.2 1451.3 526.1 1451.7 536.4 1452.1 545.8 1452.4 554.0 1452.8 560.7 1453.2 564.9 1453.2 564.9 1453.6 562.5 1453.9 558.7 1454.3 554.0 1454.7 548.6 1455.1 542.7 1455.4 536.5 1455.8 530.2 1456.2 524.0 1456.6 518.1 1456.9 512.7 1457.3 508.0 1457.7 504.2 1458.0 501.8 1458.0 501.8 1458.4 502.2 1458.8 502.8 1459.2 503.6 1459.5 504.5 1459.9 505.5 1460.3 506.4 1460.7 507.3 1461.0 508.0 1461.4 508.5 1461.6 508.7 1461.8 507.9 1462.2 505.4 1462.5 502.0 1462.9 498.0 1463.3 493.4 1463.7 488.6 1464.0 483.4 1464.4 478.2 1464.8 473.0 1465.1 468.0 1465.5 463.3 1465.9 459.0 1466.3 455.3 1466.6 452.3 1467.0 450.3 1467.0 450.3 1467.4 454.4 1467.8 460.8 1468.1 468.8 1468.5 477.9 1468.9 487.9 1469.3 498.5 1469.6 509.3 1470.0 520.0 1470.4 530.3 1470.7 539.9 1471.1 548.5 1471.5 555.8 1471.9 561.2 1472.1 562.8 1472.2 561.8 1472.6 558.1 1473.0 553.1 1473.4 547.3 1473.7 540.8 1474.1 534.0 1474.5 527.1 1474.9 520.5 1475.2 514.3 1475.6 508.9 1476.0 504.5 1476.3 501.8 1476.3 501.8 1476.7 502.0 1477.1 502.5 1477.5 503.0 1477.8 503.6 1478.2 504.2 1478.6 504.9 1479.0 505.4 1479.3 505.9 1479.7 506.3 1479.9 506.4 1480.1 505.7 1480.5 503.4 1480.8 500.2 1481.2 496.6 1481.6 492.4 1481.9 487.9 1482.3 483.2 1482.7 478.5 1483.1 473.7 1483.4 469.1 1483.8 464.8 1484.2 460.8 1484.6 457.4 1484.9 454.7 1485.3 452.9 1485.3 452.9 1485.7 456.8 1486.1 463.1 1486.4 470.8 1486.8 479.6 1487.2 489.3 1487.5 499.5 1487.9 510.0 1488.3 520.4 1488.7 530.4 1489.0 539.7 1489.4 548.0 1489.8 555.0 1490.2 560.3 1490.3 561.9 1490.5 561.0 1490.9 558.0 1491.3 554.0 1491.7 549.2 1492.0 543.9 1492.4 538.2 1492.8 532.4 1493.1 526.5 1493.5 520.8 1493.9 515.5 1494.3 510.8 1494.6 506.8 1495.0 503.7 1495.2 502.9 1495.4 502.9 1495.8 503.1 1496.1 503.4 1496.5 503.7 1496.9 504.1 1497.3 504.4 1497.6 504.8 1498.0 505.1 1498.4 505.3 1498.8 505.5 1498.8 505.5 1499.1 503.8 1499.5 501.2 1499.9 498.1 1500.2 494.4 1500.6 490.4 1501.0 486.1 1501.4 481.6 1501.7 477.2 1502.1 472.8 1502.5 468.6 1502.9 464.8 1503.2 461.3 1503.6 458.4 1504.0 456.2 1504.2 455.6 1504.4 457.1 1504.7 462.2 1505.1 469.0 1505.5 477.0 1505.8 486.0 1506.2 495.7 1506.6 505.7 1507.0 515.9 1507.3 525.8 1507.7 535.1 1508.1 543.7 1508.5 551.1 1508.8 557.1 1509.2 560.9 1509.2 560.9 1509.6 558.7 1510.0 555.0 1510.3 550.5 1510.7 545.3 1511.1 539.7 1511.4 533.9 1511.8 527.9 1512.2 522.2 1512.6 516.7 1512.9 511.9 1513.3 507.8 1513.7 504.7 1513.9 503.8 1514.1 503.8 1514.4 503.8 1514.8 503.8 1515.2 503.9 1515.6 503.9 1515.9 503.9 1516.3 503.9 1516.7 503.9 1517.0 504.0 1517.4 504.0 1517.4 504.0 1517.8 502.4 1518.2 500.0 1518.5 497.0 1518.9 493.6 1519.3 489.8 1519.7 485.8 1520.0 481.6 1520.4 477.5 1520.8 473.4 1521.2 469.4 1521.5 465.8 1521.9 462.6 1522.3 459.9 1522.6 457.8 1522.8 457.2 1523.0 458.7 1523.4 463.6 1523.8 470.2 1524.1 478.0 1524.5 486.7 1524.9 496.1 1525.3 505.8 1525.6 515.6 1526.0 525.2 1526.4 534.3 1526.8 542.6 1527.1 549.8 1527.5 555.6 1527.9 559.3 1527.9 559.3 1528.2 558.4 1528.6 555.7 1529.0 551.6 1529.4 546.5 1529.7 540.6 1530.1 534.2 1530.5 527.6 1530.9 521.2 1531.2 515.3 1531.6 510.2 1532.0 506.1 1532.4 503.4 1532.7 502.4 1532.7 502.4 1533.1 502.4 1533.5 502.4 1533.8 502.4 1534.2 502.4 1534.6 502.4 1535.0 502.4 1535.3 502.4 1535.7 502.4 1536.1 502.4 1536.3 502.4 1536.5 502.2 1536.8 501.0 1537.2 498.9 1537.6 495.9 1538.0 492.3 1538.3 488.2 1538.7 483.8 1539.1 479.3 1539.5 474.8 1539.8 470.6 1540.2 466.7 1540.6 463.4 1540.9 460.8 1541.3 459.2 1541.7 458.6 1541.7 458.6 1542.1 462.2 1542.4 467.8 1542.8 474.9 1543.2 482.9 1543.6 491.7 1543.9 501.1 1544.3 510.6 1544.7 520.1 1545.1 529.2 1545.4 537.6 1545.8 545.2 1546.2 551.6 1546.5 556.4 1546.7 557.8 1546.9 557.7 1547.3 556.6 1547.7 554.5 1548.0 551.5 1548.4 547.9 1548.8 543.7 1549.2 539.0 1549.5 534.2 1549.9 529.1 1550.3 524.1 1550.7 519.2 1551.0 514.7 1551.4 510.5 1551.8 507.0 1552.1 504.1 1552.5 502.2 1552.7 501.5 1552.9 501.1 1553.3 500.4 1553.6 499.9 1554.0 499.4 1554.4 498.7 1554.6 498.3 1554.8 497.8 1555.1 496.2 1555.5 494.2 1555.9 491.7 1556.3 488.8 1556.6 485.7 1557.0 482.4 1557.4 479.1 1557.7 475.7 1558.1 472.5 1558.5 469.5 1558.9 466.7 1559.2 464.3 1559.6 462.4 1560.0 461.0 1560.4 460.3 1560.5 460.2 1560.7 461.6 1561.1 466.3 1561.5 472.6 1561.9 480.1 1562.2 488.4 1562.6 497.4 1563.0 506.7 1563.3 516.0 1563.7 525.2 1564.1 533.9 1564.5 541.8 1564.8 548.7 1565.2 554.3 1565.6 557.8 1565.6 557.8 1566.0 557.2 1566.3 555.5 1566.7 552.9 1567.1 549.4 1567.5 545.3 1567.8 540.7 1568.2 535.8 1568.6 530.7 1568.9 525.6 1569.3 520.6 1569.7 515.9 1570.1 511.6 1570.4 507.9 1570.8 505.0 1571.2 503.0 1571.4 502.4 1571.6 501.9 1571.9 501.2 1572.3 500.7 1572.7 500.2 1573.1 499.5 1573.2 499.1 1573.4 498.6 1573.8 497.1 1574.2 495.1 1574.6 492.6 1574.9 489.9 1575.3 486.8 1575.7 483.7 1576.0 480.4 1576.4 477.2 1576.8 474.1 1577.2 471.2 1577.5 468.5 1577.9 466.2 1578.3 464.3 1578.7 463.0 1579.0 462.3 1579.2 462.2 1579.4 463.6 1579.8 468.2 1580.2 474.4 1580.5 481.7 1580.9 489.8 1581.3 498.6 1581.6 507.7 1582.0 516.9 1582.4 525.9 1582.8 534.4 1583.1 542.2 1583.5 548.9 1583.9 554.4 1584.3 557.8 1584.3 557.8 1584.6 557.2 1585.0 555.5 1585.4 552.8 1585.8 549.3 1586.1 545.2 1586.5 540.5 1586.9 535.5 1587.2 530.4 1587.6 525.2 1588.0 520.1 1588.4 515.4 1588.7 511.0 1589.1 507.3 1589.5 504.4 1589.9 502.3 1590.0 501.7 1590.2 501.2 1590.6 500.5 1591.0 500.0 1591.4 499.5 1591.7 498.9 1591.9 498.4 1592.1 497.9 1592.5 496.4 1592.8 494.5 1593.2 492.2 1593.6 489.5 1594.0 486.6 1594.3 483.6 1594.7 480.5 1595.1 477.4 1595.5 474.5 1595.8 471.7 1596.2 469.1 1596.6 466.9 1597.0 465.2 1597.3 463.9 1597.7 463.2 1597.9 463.2 1598.1 464.5 1598.4 469.0 1598.8 475.0 1599.2 482.1 1599.6 490.1 1599.9 498.7 1600.3 507.6 1600.7 516.5 1601.1 525.3 1601.4 533.6 1601.8 541.2 1602.2 547.8 1602.6 553.1 1602.9 556.5 1602.9 556.5 1603.3 555.9 1603.7 554.1 1604.0 551.4 1604.4 547.9 1604.8 543.7 1605.2 539.0 1605.5 534.0 1605.9 528.8 1606.3 523.5 1606.7 518.4 1607.0 513.6 1607.4 509.3 1607.8 505.5 1608.2 502.5 1608.5 500.5 1608.7 499.9 1608.9 499.4 1609.3 498.7 1609.6 498.2 1610.0 497.7 1610.4 497.0 1610.6 496.6 1610.8 496.1 1611.1 494.7 1611.5 492.9 1611.9 490.7 1612.3 488.3 1612.6 485.6 1613.0 482.8 1613.4 480.0 1613.8 477.2 1614.1 474.4 1614.5 471.9 1614.9 469.6 1615.3 467.6 1615.6 465.9 1616.0 464.8 1616.4 464.2 1616.6 464.1 1616.7 465.4 1617.1 469.8 1617.5 475.7 1617.9 482.7 1618.2 490.4 1618.6 498.8 1619.0 507.5 1619.4 516.3 1619.7 524.8 1620.1 532.9 1620.5 540.3 1620.9 546.8 1621.2 552.0 1621.6 555.3 1621.6 555.3 1622.0 554.7 1622.3 552.9 1622.7 550.2 1623.1 546.7 1623.5 542.5 1623.8 537.9 1624.2 532.8 1624.6 527.7 1625.0 522.4 1625.3 517.4 1625.7 512.6 1626.1 508.2 1626.5 504.5 1626.8 501.5 1627.2 499.5 1627.4 498.8 1627.6 498.4 1627.9 497.7 1628.3 497.2 1628.7 496.7 1629.1 496.0 1629.3 495.6 1629.4 495.1 1629.8 493.7 1630.2 492.0 1630.6 489.9 1630.9 487.6 1631.3 485.1 1631.7 482.4 1632.1 479.7 1632.4 477.1 1632.8 474.5 1633.2 472.1 1633.5 469.9 1633.9 468.0 1634.3 466.5 1634.7 465.4 1635.0 464.9 1635.2 464.8 1635.4 466.1 1635.8 470.5 1636.2 476.3 1636.5 483.2 1636.9 490.9 1637.3 499.2 1637.7 507.8 1638.0 516.5 1638.4 525.0 1638.8 533.1 1639.1 540.4 1639.5 546.8 1639.9 552.0 1640.3 555.3 1640.3 555.3 1640.6 554.7 1641.0 552.9 1641.4 550.2 1641.8 546.7 1642.1 542.5 1642.5 537.9 1642.9 532.8 1643.3 527.7 1643.6 522.4 1644.0 517.4 1644.4 512.6 1644.7 508.2 1645.1 504.5 1645.5 501.5 1645.9 499.5 1646.1 498.8 1646.2 498.4 1646.6 497.7 1647.0 497.2 1647.4 496.6 1647.7 496.0 1647.9 495.6 1648.1 495.1 1648.5 493.8 1648.9 492.1 1649.2 490.1 1649.6 487.9 1650.0 485.5 1650.4 482.9 1650.7 480.4 1651.1 477.8 1651.5 475.4 1651.8 473.1 1652.2 471.0 1652.6 469.2 1653.0 467.8 1653.3 466.7 1653.7 466.2 1653.9 466.1 1654.1 467.4 1654.5 471.8 1654.8 477.6 1655.2 484.5 1655.6 492.2 1656.0 500.5 1656.3 509.1 1656.7 517.8 1657.1 526.3 1657.4 534.3 1657.8 541.7 1658.2 548.1 1658.6 553.2 1658.9 556.5 1658.9 556.5 1659.3 555.8 1659.7 554.0 1660.1 551.2 1660.4 547.6 1660.8 543.2 1661.2 538.4 1661.6 533.1 1661.9 527.8 1662.3 522.3 1662.7 517.1 1663.0 512.1 1663.4 507.6 1663.8 503.7 1664.2 500.6 1664.5 498.5 1664.7 497.9 1664.9 497.4 1665.3 496.7 1665.7 496.2 1666.0 495.7 1666.4 495.1 1666.6 494.7 1666.8 494.2 1667.2 492.9 1667.5 491.3 1667.9 489.4 1668.3 487.3 1668.6 485.1 1669.0 482.7 1669.4 480.3 1669.8 477.9 1670.1 475.7 1670.5 473.5 1670.9 471.6 1671.3 469.9 1671.6 468.6 1672.0 467.6 1672.4 467.1 1672.6 467.1 1672.8 468.4 1673.1 472.8 1673.5 478.6 1673.9 485.5 1674.2 493.3 1674.6 501.6 1675.0 510.3 1675.4 519.0 1675.7 527.5 1676.1 535.6 1676.5 543.0 1676.9 549.4 1677.2 554.6 1677.6 557.8 1677.6 557.8 1678.0 557.1 1678.4 555.0 1678.7 551.7 1679.1 547.5 1679.5 542.6 1679.8 537.0 1680.2 531.1 1680.6 525.1 1681.0 519.1 1681.3 513.3 1681.7 507.9 1682.1 503.2 1682.5 499.2 1682.8 496.3 1683.2 494.7 1683.2 494.7 1683.6 493.8 1684.0 493.2 1684.3 492.7 1684.7 492.1 1685.1 491.4 1685.1 491.4 1685.5 490.4 1685.8 489.0 1686.2 487.4 1686.6 485.5 1686.9 483.5 1687.3 481.4 1687.7 479.2 1688.1 477.1 1688.4 474.9 1688.8 472.9 1689.2 471.1 1689.6 469.4 1689.9 468.1 1690.3 467.0 1690.7 466.4 1691.1 466.1 1691.1 466.1 1691.4 469.2 1691.8 473.9 1692.2 479.8 1692.5 486.6 1692.9 494.1 1693.3 502.0 1693.7 510.3 1694.0 518.7 1694.4 526.9 1694.8 534.9 1695.2 542.4 1695.5 549.1 1695.9 555.0 1696.3 559.8 1696.7 562.8 1696.7 562.8 1697.0 562.6 1697.4 562.1 1697.8 561.1 1698.1 559.6 1698.5 557.7 1698.9 555.3 1699.3 552.4 1699.6 548.9 1700.0 544.8 1700.4 540.1 1700.8 534.7 1701.1 528.7 1701.5 522.0 1701.9 514.6 1702.3 506.4 1702.6 497.4 1703.0 487.6 1703.0 487.6" fill="none" stroke="#ff8080" stroke-width="3.1" stroke-linejoin="round" stroke-linecap="butt"/>
<text transform="translate(1262.90 695.01) scale(1.1536 0.9906)" font-size="50.5" fill="#262626" stroke="#fff" stroke-width="0.7">date</text>
<text transform="translate(1379.26 695.59) scale(0.9175 1.0985)" font-size="50.5" fill="#262626" stroke="#fff" stroke-width="0.7">(</text>
<text transform="translate(1396.25 694.86) scale(1.0567 0.9483)" font-size="50.5" fill="#262626" stroke="#fff" stroke-width="0.7">year</text>
<text transform="translate(1490.62 695.59) scale(0.9098 1.0985)" font-size="50.5" fill="#262626" stroke="#fff" stroke-width="0.7">)</text>
<text transform="translate(1876.90 631.20) rotate(-90) translate(-1.51 0.50) scale(1.0368 1.0433)" font-size="50.5" fill="#ff8080" stroke="#fff" stroke-width="0.7">KNZ-X</text>
<text transform="translate(1876.90 631.20) rotate(-90) translate(182.55 0.61) scale(0.8789 1.0963)" font-size="50.5" fill="#ff8080" stroke="#fff" stroke-width="0.7">(</text>
<text transform="translate(1876.90 631.20) rotate(-90) translate(199.09 0.00) scale(1.1275 1.0222)" font-size="50.5" fill="#ff8080" stroke="#fff" stroke-width="0.7">nT</text>
<text transform="translate(1876.90 631.20) rotate(-90) translate(265.19 0.61) scale(0.8635 1.0963)" font-size="50.5" fill="#ff8080" stroke="#fff" stroke-width="0.7">)</text>
<line x1="133.9" y1="937.8" x2="920.4" y2="937.8" stroke="#262626" stroke-width="4"/>
<line x1="135.9" y1="937.8" x2="135.9" y2="928.0" stroke="#262626" stroke-width="4"/>
<text transform="translate(135.90 993.20) scale(0.965 1)" font-size="47" text-anchor="middle" fill="#262626">1980</text>
<line x1="322.2" y1="937.8" x2="322.2" y2="928.0" stroke="#262626" stroke-width="4"/>
<text transform="translate(322.20 993.20) scale(0.965 1)" font-size="47" text-anchor="middle" fill="#262626">1990</text>
<line x1="508.5" y1="937.8" x2="508.5" y2="928.0" stroke="#262626" stroke-width="4"/>
<text transform="translate(508.50 993.20) scale(0.965 1)" font-size="47" text-anchor="middle" fill="#262626">2000</text>
<line x1="694.8" y1="937.8" x2="694.8" y2="928.0" stroke="#262626" stroke-width="4"/>
<text transform="translate(694.80 993.20) scale(0.965 1)" font-size="47" text-anchor="middle" fill="#262626">2010</text>
<line x1="881.1" y1="937.8" x2="881.1" y2="928.0" stroke="#262626" stroke-width="4"/>
<text transform="translate(881.10 993.20) scale(0.965 1)" font-size="47" text-anchor="middle" fill="#262626">2020</text>
<line x1="135.9" y1="745.8" x2="135.9" y2="939.8" stroke="#0000ff" stroke-width="4.4"/>
<line x1="135.9" y1="761.1" x2="145.9" y2="761.1" stroke="#0000ff" stroke-width="4"/>
<text transform="translate(122.6 777.90) scale(0.96 1)" font-size="47" text-anchor="end" fill="#0000ff">5</text>
<line x1="135.9" y1="846.9" x2="145.9" y2="846.9" stroke="#0000ff" stroke-width="4"/>
<text transform="translate(122.6 863.70) scale(0.96 1)" font-size="47" text-anchor="end" fill="#0000ff">0</text>
<line x1="135.9" y1="932.9" x2="145.9" y2="932.9" stroke="#0000ff" stroke-width="4"/>
<text transform="translate(122.6 949.70) scale(0.96 1)" font-size="47" text-anchor="end" fill="#0000ff">-5</text>
<path clip-path="url(#c4)" d="M154.5 868.0 154.9 873.6 155.3 879.0 155.6 884.0 156.0 888.7 156.4 893.0 156.8 896.8 157.1 900.2 157.5 903.0 157.9 905.3 158.3 906.9 158.6 908.0 159.0 908.3 159.0 908.3 159.4 907.9 159.7 906.7 160.1 904.7 160.5 901.9 160.9 898.3 161.2 894.1 161.6 889.2 162.0 883.7 162.4 877.7 162.7 871.3 163.1 864.5 163.5 857.5 163.8 850.3 164.2 843.0 164.6 835.6 165.0 828.4 165.3 821.4 165.7 814.6 166.1 808.2 166.5 802.2 166.8 796.7 167.2 791.8 167.6 787.6 167.9 784.0 168.3 781.2 168.7 779.2 169.1 778.0 169.4 777.6 169.4 777.6 169.8 778.2 170.2 780.2 170.6 783.4 170.9 787.8 171.3 793.3 171.7 799.9 172.0 807.3 172.4 815.4 172.8 824.1 173.2 833.2 173.5 842.6 173.9 852.0 174.3 861.2 174.7 870.2 175.0 878.6 175.4 886.4 175.8 893.4 176.1 899.4 176.5 904.4 176.9 908.2 177.3 910.8 177.6 912.1 177.8 912.3 178.0 912.2 178.4 911.2 178.7 909.3 179.1 906.4 179.5 902.7 179.9 898.2 180.2 892.8 180.6 886.8 181.0 880.2 181.4 873.1 181.7 865.5 182.1 857.6 182.5 849.6 182.8 841.4 183.2 833.3 183.6 825.3 184.0 817.6 184.3 810.2 184.7 803.4 185.1 797.0 185.5 791.3 185.8 786.4 186.2 782.2 186.6 779.0 186.9 776.6 187.3 775.1 187.7 774.7 187.7 774.7 188.1 775.3 188.4 777.1 188.8 780.0 189.2 784.1 189.6 789.2 189.9 795.3 190.3 802.2 190.7 809.9 191.0 818.1 191.4 826.9 191.8 835.9 192.2 845.1 192.5 854.3 192.9 863.3 193.3 872.1 193.7 880.3 194.0 888.0 194.4 894.9 194.8 901.0 195.1 906.1 195.5 910.2 195.9 913.1 196.3 914.9 196.6 915.5 196.6 915.5 197.0 915.0 197.4 913.5 197.8 911.0 198.1 907.6 198.5 903.3 198.9 898.1 199.2 892.1 199.6 885.5 200.0 878.3 200.4 870.6 200.7 862.5 201.1 854.2 201.5 845.7 201.9 837.2 202.2 828.7 202.6 820.5 203.0 812.6 203.3 805.1 203.7 798.2 204.1 791.9 204.5 786.3 204.8 781.6 205.2 777.7 205.6 774.7 205.9 772.7 206.3 771.7 206.5 771.6 206.7 771.7 207.1 772.9 207.4 775.2 207.8 778.6 208.2 783.0 208.6 788.5 208.9 794.8 209.3 801.9 209.7 809.7 210.0 818.1 210.4 826.9 210.8 836.0 211.2 845.2 211.5 854.4 211.9 863.5 212.3 872.3 212.7 880.6 213.0 888.5 213.4 895.6 213.8 901.9 214.1 907.3 214.5 911.8 214.9 915.2 215.3 917.5 215.6 918.7 215.8 918.8 216.0 918.7 216.4 917.7 216.8 915.8 217.1 912.9 217.5 909.1 217.9 904.5 218.2 899.1 218.6 893.0 219.0 886.2 219.4 878.9 219.7 871.1 220.1 863.0 220.5 854.6 220.9 846.1 221.2 837.6 221.6 829.1 222.0 820.9 222.3 812.9 222.7 805.3 223.1 798.3 223.5 791.8 223.8 786.1 224.2 781.0 224.6 776.8 225.0 773.5 225.3 771.1 225.7 769.7 226.1 769.2 226.1 769.2 226.4 769.9 226.8 772.0 227.2 775.5 227.6 780.2 227.9 786.2 228.3 793.3 228.7 801.3 229.0 810.2 229.4 819.7 229.8 829.7 230.2 840.0 230.5 850.4 230.9 860.7 231.3 870.6 231.7 880.2 232.0 889.0 232.4 897.1 232.8 904.2 233.1 910.1 233.5 914.9 233.9 918.4 234.3 920.5 234.6 921.2 234.6 921.2 235.0 920.7 235.4 919.1 235.8 916.5 236.1 913.0 236.5 908.5 236.9 903.1 237.2 896.9 237.6 890.1 238.0 882.5 238.4 874.5 238.7 866.1 239.1 857.3 239.5 848.4 239.9 839.4 240.2 830.5 240.6 821.7 241.0 813.3 241.3 805.2 241.7 797.7 242.1 790.8 242.5 784.7 242.8 779.3 243.2 774.8 243.6 771.3 244.0 768.7 244.3 767.1 244.7 766.6 244.7 766.6 245.1 767.3 245.4 769.4 245.8 772.8 246.2 777.5 246.6 783.4 246.9 790.4 247.3 798.4 247.7 807.1 248.1 816.6 248.4 826.6 248.8 836.9 249.2 847.3 249.5 857.7 249.9 867.8 250.3 877.5 250.7 886.7 251.0 895.1 251.4 902.6 251.8 909.0 252.2 914.4 252.5 918.4 252.9 921.2 253.3 922.6 253.5 922.7 253.6 922.6 254.0 921.7 254.4 919.8 254.8 916.9 255.1 913.2 255.5 908.6 255.9 903.3 256.2 897.2 256.6 890.5 257.0 883.2 257.4 875.4 257.7 867.2 258.1 858.7 258.5 850.1 258.9 841.4 259.2 832.7 259.6 824.1 260.0 815.8 260.3 807.8 260.7 800.2 261.1 793.2 261.5 786.8 261.8 781.1 262.2 776.1 262.6 771.9 263.0 768.7 263.3 766.3 263.7 764.8 264.1 764.4 264.1 764.4 264.4 764.9 264.8 766.6 265.2 769.4 265.6 773.3 265.9 778.2 266.3 784.0 266.7 790.7 267.1 798.1 267.4 806.2 267.8 814.9 268.2 823.9 268.5 833.3 268.9 842.9 269.3 852.5 269.7 861.9 270.0 871.2 270.4 880.1 270.8 888.5 271.2 896.2 271.5 903.3 271.9 909.6 272.3 914.9 272.6 919.3 273.0 922.7 273.4 924.9 273.8 926.0 273.9 926.2 274.1 926.0 274.5 925.0 274.9 922.9 275.3 919.9 275.6 915.8 276.0 910.9 276.4 905.1 276.7 898.5 277.1 891.3 277.5 883.4 277.9 875.0 278.2 866.2 278.6 857.2 279.0 847.9 279.4 838.6 279.7 829.4 280.1 820.4 280.5 811.6 280.8 803.2 281.2 795.3 281.6 788.1 282.0 781.5 282.3 775.7 282.7 770.8 283.1 766.7 283.4 763.7 283.8 761.6 284.2 760.5 284.4 760.4 284.6 760.6 284.9 762.3 285.3 765.5 285.7 770.3 286.1 776.6 286.4 784.2 286.8 793.0 287.2 802.8 287.5 813.5 287.9 824.7 288.3 836.4 288.7 848.2 289.0 860.0 289.4 871.5 289.8 882.5 290.2 892.7 290.5 902.0 290.9 910.3 291.3 917.2 291.6 922.8 292.0 926.8 292.4 929.3 292.8 930.1 292.8 930.1 293.1 929.5 293.5 927.7 293.9 924.7 294.3 920.6 294.6 915.3 295.0 909.1 295.4 902.0 295.7 894.0 296.1 885.3 296.5 876.0 296.9 866.3 297.2 856.3 297.6 846.0 298.0 835.8 298.4 825.6 298.7 815.7 299.1 806.2 299.5 797.2 299.8 788.9 300.2 781.3 300.6 774.6 301.0 768.9 301.3 764.2 301.7 760.6 302.1 758.2 302.5 757.0 302.6 756.8 302.8 757.0 303.2 758.7 303.6 762.1 303.9 767.1 304.3 773.6 304.7 781.5 305.1 790.6 305.4 800.8 305.8 811.8 306.2 823.5 306.6 835.6 306.9 847.8 307.3 860.0 307.7 871.9 308.0 883.3 308.4 893.9 308.8 903.6 309.2 912.1 309.5 919.3 309.9 925.1 310.3 929.3 310.6 931.8 311.0 932.7 311.0 932.7 311.4 932.2 311.8 930.5 312.1 927.9 312.5 924.2 312.9 919.5 313.3 913.9 313.6 907.4 314.0 900.2 314.4 892.2 314.7 883.7 315.1 874.7 315.5 865.3 315.9 855.7 316.2 845.8 316.6 836.0 317.0 826.3 317.4 816.7 317.7 807.5 318.1 798.7 318.5 790.5 318.8 782.9 319.2 776.0 319.6 770.0 320.0 764.8 320.3 760.6 320.7 757.4 321.1 755.3 321.5 754.2 321.6 754.1 321.8 754.3 322.2 756.1 322.6 759.8 322.9 765.1 323.3 772.1 323.7 780.6 324.1 790.4 324.4 801.2 324.8 813.0 325.2 825.4 325.6 838.2 325.9 851.1 326.3 863.9 326.7 876.3 327.0 888.1 327.4 899.0 327.8 908.7 328.2 917.2 328.5 924.2 328.9 929.6 329.3 933.2 329.7 935.0 329.8 935.3 330.0 935.1 330.4 933.9 330.8 931.6 331.1 928.1 331.5 923.5 331.9 917.8 332.3 911.2 332.6 903.7 333.0 895.4 333.4 886.5 333.8 877.0 334.1 867.1 334.5 856.8 334.9 846.4 335.2 836.0 335.6 825.6 336.0 815.5 336.4 805.8 336.7 796.6 337.1 788.0 337.5 780.1 337.8 773.0 338.2 766.9 338.6 761.7 339.0 757.7 339.3 754.7 339.7 752.9 340.1 752.3 340.1 752.3 340.5 753.2 340.8 755.9 341.2 760.3 341.6 766.3 341.9 773.9 342.3 782.8 342.7 792.9 343.1 804.1 343.4 816.0 343.8 828.4 344.2 841.2 344.6 854.0 344.9 866.7 345.3 878.9 345.7 890.4 346.0 901.1 346.4 910.6 346.8 918.9 347.2 925.7 347.5 930.9 347.9 934.5 348.3 936.3 348.5 936.5 348.7 936.3 349.0 935.1 349.4 932.6 349.8 928.9 350.1 924.1 350.5 918.2 350.9 911.3 351.3 903.5 351.6 894.8 352.0 885.5 352.4 875.7 352.8 865.4 353.1 854.8 353.5 844.1 353.9 833.3 354.2 822.8 354.6 812.5 355.0 802.6 355.4 793.3 355.7 784.7 356.1 776.9 356.5 769.9 356.9 764.0 357.2 759.2 357.6 755.5 358.0 753.1 358.3 751.8 358.5 751.7 358.7 751.9 359.1 753.6 359.5 757.0 359.8 762.0 360.2 768.5 360.6 776.5 361.0 785.7 361.3 796.0 361.7 807.2 362.1 819.0 362.4 831.3 362.8 843.9 363.2 856.5 363.6 868.8 363.9 880.6 364.3 891.8 364.7 902.1 365.0 911.3 365.4 919.3 365.8 925.8 366.2 930.8 366.5 934.2 366.9 935.9 367.1 936.1 367.3 936.0 367.7 934.8 368.0 932.4 368.4 928.9 368.8 924.3 369.1 918.6 369.5 911.9 369.9 904.4 370.3 896.1 370.6 887.1 371.0 877.6 371.4 867.6 371.8 857.3 372.1 846.9 372.5 836.4 372.9 826.0 373.2 815.8 373.6 806.1 374.0 796.8 374.4 788.1 374.7 780.2 375.1 773.1 375.5 766.9 375.9 761.8 376.2 757.7 376.6 754.7 377.0 752.9 377.3 752.3 377.3 752.3 377.7 753.3 378.1 756.0 378.5 760.6 378.8 766.8 379.2 774.5 379.6 783.7 380.0 794.1 380.3 805.5 380.7 817.6 381.1 830.3 381.4 843.2 381.8 856.1 382.2 868.8 382.6 881.0 382.9 892.3 383.3 902.7 383.7 911.9 384.1 919.6 384.4 925.9 384.8 930.4 385.2 933.1 385.5 934.1 385.5 934.1 385.9 933.5 386.3 931.9 386.7 929.2 387.0 925.4 387.4 920.7 387.8 915.1 388.2 908.5 388.5 901.2 388.9 893.2 389.3 884.6 389.6 875.5 390.0 866.0 390.4 856.3 390.8 846.4 391.1 836.5 391.5 826.6 391.9 817.0 392.2 807.7 392.6 798.8 393.0 790.5 393.4 782.8 393.7 775.9 394.1 769.8 394.5 764.6 394.9 760.3 395.2 757.1 395.6 755.0 396.0 753.9 396.2 753.7 396.3 753.9 396.7 755.7 397.1 759.3 397.5 764.6 397.8 771.4 398.2 779.7 398.6 789.2 399.0 799.9 399.3 811.4 399.7 823.5 400.1 836.0 400.4 848.7 400.8 861.2 401.2 873.3 401.6 884.8 401.9 895.5 402.3 905.0 402.7 913.3 403.1 920.1 403.4 925.4 403.8 929.0 404.2 930.8 404.4 931.0 404.5 930.8 404.9 929.7 405.3 927.6 405.7 924.3 406.0 920.1 406.4 914.8 406.8 908.7 407.2 901.8 407.5 894.1 407.9 885.8 408.3 876.9 408.6 867.6 409.0 858.1 409.4 848.3 409.8 838.5 410.1 828.7 410.5 819.1 410.9 809.9 411.3 801.0 411.6 792.7 412.0 785.0 412.4 778.1 412.7 771.9 413.1 766.7 413.5 762.4 413.9 759.2 414.2 757.0 414.6 755.9 414.8 755.8 415.0 756.0 415.3 757.7 415.7 761.0 416.1 765.8 416.5 772.2 416.8 779.9 417.2 788.8 417.6 798.7 418.0 809.5 418.3 820.9 418.7 832.7 419.1 844.7 419.4 856.6 419.8 868.2 420.2 879.3 420.6 889.7 420.9 899.1 421.3 907.5 421.7 914.5 422.1 920.1 422.4 924.2 422.8 926.7 423.2 927.6 423.2 927.6 423.5 927.0 423.9 925.4 424.3 922.8 424.7 919.2 425.0 914.6 425.4 909.1 425.8 902.8 426.2 895.7 426.5 888.0 426.9 879.7 427.3 870.9 427.6 861.8 428.0 852.4 428.4 843.0 428.8 833.5 429.1 824.1 429.5 815.0 429.9 806.2 430.3 797.9 430.6 790.2 431.0 783.1 431.4 776.8 431.7 771.3 432.1 766.7 432.5 763.1 432.9 760.5 433.2 758.9 433.6 758.4 433.6 758.4 434.0 759.2 434.4 761.6 434.7 765.5 435.1 770.9 435.5 777.7 435.8 785.8 436.2 794.9 436.6 804.9 437.0 815.6 437.3 826.8 437.7 838.3 438.1 849.9 438.5 861.3 438.8 872.3 439.2 882.7 439.6 892.3 439.9 900.9 440.3 908.3 440.7 914.4 441.1 919.1 441.4 922.3 441.8 923.9 442.0 924.1 442.2 924.0 442.5 923.0 442.9 920.9 443.3 917.9 443.7 913.9 444.0 909.0 444.4 903.3 444.8 896.8 445.2 889.6 445.5 881.9 445.9 873.6 446.3 864.9 446.6 856.0 447.0 846.9 447.4 837.7 447.8 828.6 448.1 819.6 448.5 810.9 448.9 802.7 449.3 794.9 449.6 787.7 450.0 781.2 450.4 775.5 450.7 770.6 451.1 766.6 451.5 763.6 451.9 761.6 452.2 760.5 452.4 760.4 452.6 760.6 453.0 762.2 453.4 765.3 453.7 769.8 454.1 775.8 454.5 783.0 454.8 791.3 455.2 800.6 455.6 810.7 456.0 821.4 456.3 832.4 456.7 843.6 457.1 854.8 457.5 865.7 457.8 876.1 458.2 885.8 458.6 894.6 458.9 902.4 459.3 909.0 459.7 914.3 460.1 918.1 460.4 920.4 460.8 921.2 460.8 921.2 461.2 920.7 461.6 919.3 461.9 916.9 462.3 913.6 462.7 909.4 463.0 904.3 463.4 898.6 463.8 892.1 464.2 885.0 464.5 877.3 464.9 869.3 465.3 860.9 465.7 852.2 466.0 843.4 466.4 834.6 466.8 825.9 467.1 817.4 467.5 809.1 467.9 801.3 468.3 793.9 468.6 787.1 469.0 780.9 469.4 775.5 469.7 770.9 470.1 767.1 470.5 764.3 470.9 762.4 471.2 761.4 471.4 761.3 471.6 761.5 472.0 763.1 472.4 766.3 472.7 771.0 473.1 777.1 473.5 784.5 473.8 793.1 474.2 802.6 474.6 813.0 475.0 823.8 475.3 835.1 475.7 846.4 476.1 857.6 476.5 868.5 476.8 878.8 477.2 888.3 477.6 896.9 477.9 904.3 478.3 910.5 478.7 915.2 479.1 918.4 479.4 920.0 479.6 920.2 479.8 920.1 480.2 919.1 480.6 917.2 480.9 914.4 481.3 910.6 481.7 906.1 482.0 900.7 482.4 894.6 482.8 887.9 483.2 880.6 483.5 872.8 483.9 864.6 484.3 856.2 484.7 847.5 485.0 838.8 485.4 830.1 485.8 821.5 486.1 813.2 486.5 805.2 486.9 797.7 487.3 790.6 487.6 784.2 488.0 778.5 488.4 773.5 488.8 769.4 489.1 766.1 489.5 763.7 489.9 762.3 490.2 761.8 490.2 761.8 490.6 762.6 491.0 765.0 491.4 768.9 491.7 774.3 492.1 781.1 492.5 789.0 492.9 798.0 493.2 807.9 493.6 818.5 494.0 829.5 494.3 840.7 494.7 852.0 495.1 863.0 495.5 873.5 495.8 883.4 496.2 892.4 496.6 900.4 496.9 907.1 497.3 912.5 497.7 916.5 498.1 918.9 498.4 919.7 498.4 919.7 498.8 919.2 499.2 917.7 499.6 915.2 499.9 911.8 500.3 907.6 500.7 902.5 501.0 896.6 501.4 890.0 501.8 882.8 502.2 875.0 502.5 866.9 502.9 858.4 503.3 849.6 503.7 840.8 504.0 832.0 504.4 823.3 504.8 814.8 505.1 806.6 505.5 798.9 505.9 791.6 506.3 785.1 506.6 779.2 507.0 774.0 507.4 769.8 507.8 766.4 508.1 763.9 508.5 762.5 508.9 762.0 508.9 762.0 509.2 762.6 509.6 764.6 510.0 768.0 510.4 772.5 510.7 778.3 511.1 785.1 511.5 792.8 511.9 801.4 512.2 810.7 512.6 820.5 513.0 830.6 513.3 840.9 513.7 851.2 514.1 861.3 514.5 871.1 514.8 880.4 515.2 888.9 515.6 896.7 516.0 903.5 516.3 909.3 516.7 913.8 517.1 917.1 517.4 919.2 517.8 919.8 517.8 919.8 518.2 919.3 518.6 917.5 518.9 914.7 519.3 910.8 519.7 905.9 520.1 900.0 520.4 893.3 520.8 885.8 521.2 877.7 521.5 869.0 521.9 859.9 522.3 850.6 522.7 841.1 523.0 831.6 523.4 822.2 523.8 813.1 524.1 804.5 524.5 796.3 524.9 788.8 525.3 782.1 525.6 776.2 526.0 771.3 526.4 767.4 526.8 764.6 527.1 762.9 527.5 762.3 527.5 762.3 527.9 763.0 528.2 765.0 528.6 768.3 529.0 772.9 529.4 778.7 529.7 785.6 530.1 793.4 530.5 802.0 530.9 811.3 531.2 821.2 531.6 831.4 532.0 841.8 532.3 852.1 532.7 862.3 533.1 872.2 533.5 881.5 533.8 890.1 534.2 897.9 534.6 904.8 535.0 910.6 535.3 915.2 535.7 918.5 536.1 920.5 536.4 921.2 536.4 921.2 536.8 920.6 537.2 918.9 537.6 916.1 537.9 912.1 538.3 907.2 538.7 901.3 539.1 894.5 539.4 887.0 539.8 878.8 540.2 870.0 540.5 860.9 540.9 851.5 541.3 841.9 541.7 832.4 542.0 823.0 542.4 813.8 542.8 805.1 543.2 796.9 543.5 789.4 543.9 782.6 544.3 776.7 544.6 771.7 545.0 767.8 545.4 764.9 545.8 763.2 546.1 762.6 546.1 762.6 546.5 763.3 546.9 765.2 547.3 768.4 547.6 772.8 548.0 778.4 548.4 785.0 548.7 792.5 549.1 800.8 549.5 809.8 549.9 819.4 550.2 829.3 550.6 839.4 551.0 849.5 551.3 859.6 551.7 869.3 552.1 878.6 552.5 887.3 552.8 895.2 553.2 902.3 553.6 908.4 554.0 913.4 554.3 917.2 554.7 919.7 555.1 921.0 555.3 921.2 555.4 921.0 555.8 919.8 556.2 917.3 556.6 913.7 556.9 908.9 557.3 903.1 557.7 896.3 558.1 888.6 558.4 880.3 558.8 871.3 559.2 861.8 559.5 852.1 559.9 842.2 560.3 832.3 560.7 822.5 561.0 813.1 561.4 804.1 561.8 795.7 562.2 788.1 562.5 781.3 562.9 775.5 563.3 770.7 563.6 767.0 564.0 764.6 564.4 763.3 564.6 763.2 564.8 763.3 565.1 764.6 565.5 767.0 565.9 770.7 566.3 775.5 566.6 781.3 567.0 788.1 567.4 795.7 567.7 804.1 568.1 813.1 568.5 822.5 568.9 832.3 569.2 842.2 569.6 852.1 570.0 861.8 570.4 871.3 570.7 880.3 571.1 888.6 571.5 896.3 571.8 903.1 572.2 908.9 572.6 913.7 573.0 917.3 573.3 919.8 573.7 921.0 573.9 921.2 574.1 921.0 574.5 919.8 574.8 917.3 575.2 913.7 575.6 908.9 575.9 903.1 576.3 896.4 576.7 888.7 577.1 880.4 577.4 871.4 577.8 862.0 578.2 852.3 578.5 842.4 578.9 832.6 579.3 822.9 579.7 813.4 580.0 804.5 580.4 796.1 580.8 788.5 581.2 781.7 581.5 775.9 581.9 771.2 582.3 767.5 582.6 765.1 583.0 763.8 583.2 763.7 583.4 763.8 583.8 765.1 584.1 767.7 584.5 771.5 584.9 776.5 585.3 782.6 585.6 789.6 586.0 797.6 586.4 806.2 586.7 815.5 587.1 825.2 587.5 835.3 587.9 845.4 588.2 855.5 588.6 865.4 589.0 874.9 589.4 883.9 589.7 892.2 590.1 899.8 590.5 906.3 590.8 911.9 591.2 916.3 591.6 919.5 592.0 921.4 592.3 922.1 592.3 922.1 592.7 921.4 593.1 919.6 593.5 916.5 593.8 912.3 594.2 907.0 594.6 900.7 594.9 893.5 595.3 885.5 595.7 876.8 596.1 867.6 596.4 858.0 596.8 848.2 597.2 838.3 597.6 828.4 597.9 818.8 598.3 809.6 598.7 801.0 599.0 792.9 599.4 785.7 599.8 779.4 600.2 774.1 600.5 769.9 600.9 766.8 601.3 765.0 601.6 764.4 601.6 764.4 602.0 765.0 602.4 766.9 602.8 770.1 603.1 774.5 603.5 780.0 603.9 786.6 604.3 794.0 604.6 802.3 605.0 811.3 605.4 820.8 605.7 830.6 606.1 840.7 606.5 850.8 606.9 860.8 607.2 870.4 607.6 879.7 608.0 888.3 608.4 896.2 608.7 903.3 609.1 909.3 609.5 914.3 609.8 918.0 610.2 920.6 610.6 921.9 610.8 922.1 611.0 921.9 611.3 920.6 611.7 918.0 612.1 914.3 612.5 909.3 612.8 903.3 613.2 896.2 613.6 888.3 613.9 879.7 614.3 870.4 614.7 860.8 615.1 850.8 615.4 840.7 615.8 830.6 616.2 820.8 616.6 811.3 616.9 802.3 617.3 794.0 617.7 786.6 618.0 780.0 618.4 774.5 618.8 770.1 619.2 766.9 619.5 765.0 619.9 764.4 619.9 764.4 620.3 765.0 620.7 766.8 621.0 769.7 621.4 773.8 621.8 779.0 622.1 785.1 622.5 792.2 622.9 800.0 623.3 808.5 623.6 817.5 624.0 826.9 624.4 836.6 624.8 846.4 625.1 856.2 625.5 865.8 625.9 875.0 626.2 883.8 626.6 892.0 627.0 899.4 627.4 906.0 627.7 911.7 628.1 916.3 628.5 919.9 628.8 922.2 629.2 923.5 629.4 923.6 629.6 923.4 630.0 922.1 630.3 919.3 630.7 915.3 631.1 910.1 631.5 903.7 631.8 896.3 632.2 888.0 632.6 878.9 632.9 869.2 633.3 859.0 633.7 848.6 634.1 838.1 634.4 827.7 634.8 817.6 635.2 807.9 635.6 798.8 635.9 790.5 636.3 783.1 636.7 776.7 637.0 771.4 637.4 767.4 637.8 764.7 638.2 763.3 638.4 763.2 638.5 763.3 638.9 764.6 639.3 767.1 639.7 770.9 640.0 775.8 640.4 781.8 640.8 788.8 641.1 796.7 641.5 805.3 641.9 814.5 642.3 824.2 642.6 834.2 643.0 844.4 643.4 854.6 643.8 864.6 644.1 874.3 644.5 883.6 644.9 892.2 645.2 900.0 645.6 907.0 646.0 913.0 646.4 917.9 646.7 921.7 647.1 924.2 647.5 925.5 647.7 925.7 647.9 925.5 648.2 924.2 648.6 921.6 649.0 917.8 649.3 912.9 649.7 906.8 650.1 899.7 650.5 891.7 650.8 883.0 651.2 873.7 651.6 863.8 652.0 853.7 652.3 843.4 652.7 833.1 653.1 822.9 653.4 813.1 653.8 803.7 654.2 795.0 654.6 787.1 654.9 780.0 655.3 773.9 655.7 768.9 656.0 765.1 656.4 762.6 656.8 761.3 657.0 761.1 657.2 761.3 657.5 762.6 657.9 765.4 658.3 769.4 658.7 774.6 659.0 781.0 659.4 788.5 659.8 796.8 660.1 806.0 660.5 815.8 660.9 826.0 661.3 836.6 661.6 847.3 662.0 857.9 662.4 868.3 662.8 878.4 663.1 887.9 663.5 896.6 663.9 904.6 664.2 911.5 664.6 917.3 665.0 922.0 665.4 925.3 665.7 927.4 666.1 928.1 666.1 928.1 666.5 927.4 666.9 925.4 667.2 922.1 667.6 917.6 668.0 911.9 668.3 905.1 668.7 897.4 669.1 888.8 669.5 879.5 669.8 869.6 670.2 859.3 670.6 848.8 671.0 838.2 671.3 827.6 671.7 817.3 672.1 807.4 672.4 798.1 672.8 789.5 673.2 781.8 673.6 775.0 673.9 769.3 674.3 764.8 674.7 761.5 675.1 759.5 675.4 758.9 675.4 758.9 675.8 759.6 676.2 761.8 676.5 765.4 676.9 770.4 677.3 776.6 677.7 784.0 678.0 792.5 678.4 801.8 678.8 811.9 679.2 822.5 679.5 833.5 679.9 844.8 680.3 856.0 680.6 867.0 681.0 877.6 681.4 887.7 681.8 897.0 682.1 905.5 682.5 912.9 682.9 919.1 683.2 924.1 683.6 927.7 684.0 929.9 684.4 930.6 684.4 930.6 684.7 930.0 685.1 928.1 685.5 925.0 685.9 920.6 686.2 915.2 686.6 908.7 687.0 901.2 687.3 892.9 687.7 883.8 688.1 874.2 688.5 864.1 688.8 853.7 689.2 843.2 689.6 832.7 690.0 822.3 690.3 812.2 690.7 802.6 691.1 793.5 691.4 785.2 691.8 777.8 692.2 771.3 692.6 765.8 692.9 761.5 693.3 758.3 693.7 756.4 694.1 755.8 694.1 755.8 694.4 756.5 694.8 758.7 695.2 762.3 695.5 767.2 695.9 773.4 696.3 780.7 696.7 789.1 697.0 798.4 697.4 808.5 697.8 819.1 698.2 830.2 698.5 841.5 698.9 852.8 699.3 864.0 699.6 874.9 700.0 885.3 700.4 895.0 700.8 903.9 701.1 911.7 701.5 918.5 701.9 924.1 702.3 928.4 702.6 931.2 703.0 932.7 703.2 932.9 703.4 932.7 703.7 931.4 704.1 928.8 704.5 925.0 704.9 919.9 705.2 913.8 705.6 906.6 706.0 898.5 706.4 889.6 706.7 880.0 707.1 869.8 707.5 859.3 707.8 848.5 708.2 837.7 708.6 826.9 709.0 816.4 709.3 806.3 709.7 796.7 710.1 787.8 710.4 779.7 710.8 772.5 711.2 766.3 711.6 761.3 711.9 757.4 712.3 754.8 712.7 753.5 712.9 753.4 713.1 753.6 713.4 755.2 713.8 758.4 714.2 763.2 714.5 769.3 714.9 776.9 715.3 785.6 715.7 795.4 716.0 806.0 716.4 817.4 716.8 829.2 717.2 841.3 717.5 853.4 717.9 865.4 718.3 877.0 718.6 888.0 719.0 898.3 719.4 907.6 719.8 915.7 720.1 922.6 720.5 928.1 720.9 932.0 721.3 934.5 721.6 935.3 721.6 935.3 722.0 934.6 722.4 932.6 722.7 929.3 723.1 924.7 723.5 918.9 723.9 912.1 724.2 904.2 724.6 895.4 725.0 885.9 725.4 875.7 725.7 865.1 726.1 854.2 726.5 843.0 726.8 831.9 727.2 821.0 727.6 810.3 728.0 800.2 728.3 790.6 728.7 781.9 729.1 774.0 729.5 767.1 729.8 761.4 730.2 756.8 730.6 753.5 730.9 751.5 731.3 750.8 731.3 750.8 731.7 751.6 732.1 754.0 732.4 757.9 732.8 763.3 733.2 770.0 733.6 778.1 733.9 787.2 734.3 797.4 734.7 808.3 735.0 819.8 735.4 831.7 735.8 843.9 736.2 856.0 736.5 868.0 736.9 879.5 737.3 890.4 737.6 900.6 738.0 909.7 738.4 917.8 738.8 924.5 739.1 929.9 739.5 933.8 739.9 936.2 740.3 937.0 740.3 937.0 740.6 936.3 741.0 934.3 741.4 930.9 741.7 926.2 742.1 920.4 742.5 913.4 742.9 905.4 743.2 896.4 743.6 886.7 744.0 876.4 744.4 865.6 744.7 854.4 745.1 843.1 745.5 831.8 745.8 820.7 746.2 809.8 746.6 799.5 747.0 789.8 747.3 780.9 747.7 772.9 748.1 765.9 748.5 760.0 748.8 755.4 749.2 752.0 749.6 749.9 749.9 749.3 749.9 749.3 750.3 750.1 750.7 752.5 751.1 756.4 751.4 761.9 751.8 768.7 752.2 776.9 752.6 786.1 752.9 796.4 753.3 807.4 753.7 819.1 754.0 831.2 754.4 843.5 754.8 855.8 755.2 867.9 755.5 879.5 755.9 890.6 756.3 900.8 756.7 910.1 757.0 918.2 757.4 925.1 757.8 930.5 758.1 934.5 758.5 936.9 758.9 937.7 758.9 937.7 759.3 937.0 759.6 935.0 760.0 931.8 760.4 927.2 760.8 921.5 761.1 914.7 761.5 906.9 761.9 898.2 762.2 888.7 762.6 878.6 763.0 868.0 763.4 857.0 763.7 845.8 764.1 834.6 764.5 823.5 764.8 812.7 765.2 802.3 765.6 792.5 766.0 783.4 766.3 775.1 766.7 767.8 767.1 761.6 767.5 756.4 767.8 752.5 768.2 749.9 768.6 748.6 768.8 748.4 768.9 748.6 769.3 750.3 769.7 753.6 770.1 758.6 770.4 765.0 770.8 772.9 771.2 782.0 771.6 792.2 771.9 803.3 772.3 815.1 772.7 827.4 773.0 840.0 773.4 852.6 773.8 865.1 774.2 877.2 774.5 888.6 774.9 899.3 775.3 909.0 775.7 917.5 776.0 924.6 776.4 930.3 776.8 934.5 777.1 937.0 777.5 937.8 777.5 937.8 777.9 937.1 778.3 935.0 778.6 931.4 779.0 926.6 779.4 920.4 779.8 913.1 780.1 904.7 780.5 895.4 780.9 885.3 781.2 874.5 781.6 863.3 782.0 851.7 782.4 840.0 782.7 828.4 783.1 817.0 783.5 806.0 783.9 795.5 784.2 785.8 784.6 776.9 785.0 769.0 785.3 762.3 785.7 756.7 786.1 752.5 786.5 749.7 786.8 748.2 787.0 748.1 787.2 748.3 787.6 749.8 787.9 752.9 788.3 757.4 788.7 763.4 789.1 770.6 789.4 779.1 789.8 788.6 790.2 798.9 790.6 810.0 790.9 821.6 791.3 833.6 791.7 845.7 792.0 857.8 792.4 869.6 792.8 881.0 793.2 891.8 793.5 901.7 793.9 910.7 794.3 918.5 794.7 925.2 795.0 930.4 795.4 934.2 795.8 936.6 796.1 937.3 796.1 937.3 796.5 936.6 796.9 934.6 797.3 931.2 797.6 926.5 798.0 920.6 798.4 913.5 798.8 905.5 799.1 896.5 799.5 886.7 799.9 876.3 800.2 865.3 800.6 854.1 801.0 842.7 801.4 831.3 801.7 820.0 802.1 809.1 802.5 798.7 802.9 788.9 803.2 779.9 803.6 771.9 804.0 764.8 804.3 758.9 804.7 754.2 805.1 750.8 805.5 748.7 805.8 748.1 805.8 748.1 806.2 748.9 806.6 751.3 807.0 755.3 807.3 760.7 807.7 767.6 808.1 775.8 808.4 785.1 808.8 795.4 809.2 806.5 809.6 818.2 809.9 830.3 810.3 842.7 810.7 855.0 811.1 867.2 811.4 878.9 811.8 890.0 812.2 900.3 812.5 909.6 812.9 917.8 813.3 924.7 813.7 930.1 814.0 934.1 814.4 936.5 814.8 937.3 814.8 937.3 815.1 936.7 815.5 934.8 815.9 931.6 816.3 927.3 816.6 921.8 817.0 915.2 817.4 907.6 817.8 899.2 818.1 890.0 818.5 880.1 818.9 869.8 819.2 859.1 819.6 848.1 820.0 837.1 820.4 826.2 820.7 815.4 821.1 805.1 821.5 795.2 821.9 786.0 822.2 777.6 822.6 770.0 823.0 763.5 823.3 758.0 823.7 753.6 824.1 750.4 824.5 748.5 824.8 747.9 824.8 747.9 825.2 748.8 825.6 751.4 826.0 755.7 826.3 761.7 826.7 769.1 827.1 778.0 827.4 788.0 827.8 799.0 828.2 810.9 828.6 823.3 828.9 836.1 829.3 849.1 829.7 861.9 830.1 874.3 830.4 886.2 830.8 897.2 831.2 907.3 831.5 916.1 831.9 923.5 832.3 929.5 832.7 933.8 833.0 936.5 833.4 937.3 833.4 937.3 833.8 936.6 834.2 934.6 834.5 931.2 834.9 926.5 835.3 920.6 835.6 913.5 836.0 905.4 836.4 896.4 836.8 886.6 837.1 876.2 837.5 865.3 837.9 854.0 838.3 842.6 838.6 831.2 839.0 819.9 839.4 809.0 839.7 798.6 840.1 788.8 840.5 779.8 840.9 771.7 841.2 764.7 841.6 758.7 842.0 754.0 842.3 750.6 842.7 748.6 843.1 747.9 843.1 747.9 843.5 748.7 843.8 751.1 844.2 755.1 844.6 760.5 845.0 767.4 845.3 775.5 845.7 784.8 846.1 795.1 846.4 806.1 846.8 817.8 847.2 829.9 847.6 842.3 847.9 854.6 848.3 866.7 848.7 878.4 849.1 889.5 849.4 899.7 849.8 909.0 850.2 917.1 850.5 924.0 850.9 929.5 851.3 933.4 851.7 935.8 852.0 936.6 852.0 936.6 852.4 936.0 852.8 933.9 853.2 930.5 853.5 925.9 853.9 920.0 854.3 913.0 854.6 905.0 855.0 896.1 855.4 886.4 855.8 876.1 856.1 865.2 856.5 854.1 856.9 842.8 857.3 831.5 857.6 820.3 858.0 809.5 858.4 799.2 858.7 789.5 859.1 780.5 859.5 772.5 859.9 765.5 860.2 759.7 860.6 755.0 861.0 751.6 861.4 749.6 861.7 748.9 861.7 748.9 862.1 749.7 862.5 752.1 862.8 756.0 863.2 761.4 863.6 768.2 864.0 776.3 864.3 785.5 864.7 795.7 865.1 806.6 865.5 818.2 865.8 830.2 866.2 842.4 866.6 854.6 866.9 866.6 867.3 878.2 867.7 889.2 868.1 899.4 868.4 908.6 868.8 916.6 869.2 923.4 869.5 928.8 869.9 932.8 870.3 935.2 870.7 936.0 870.7 936.0 871.0 935.3 871.4 933.4 871.8 930.1 872.2 925.7 872.5 920.1 872.9 913.4 873.3 905.7 873.6 897.2 874.0 887.9 874.4 877.9 874.8 867.5 875.1 856.7 875.5 845.7 875.9 834.7 876.3 823.8 876.6 813.2 877.0 803.0 877.4 793.3 877.7 784.4 878.1 776.2 878.5 769.0 878.9 762.9 879.2 757.8 879.6 754.0 880.0 751.4 880.4 750.1 880.5 749.9 880.7 750.1 881.1 751.6 881.5 754.5 881.8 758.7 882.2 764.3 882.6 771.2 883.0 779.1 883.3 788.0 883.7 797.8 884.1 808.3 884.5 819.4 884.8 830.8 885.2 842.4 885.6 853.9 885.9 865.3 886.3 876.4 886.7 886.9 887.1 896.7 887.4 905.6 887.8 913.6 888.2 920.4 888.6 926.0 888.9 930.2 889.3 933.1 889.7 934.6 889.9 934.8 890.0 934.7 890.4 934.3 890.8 933.3 891.2 932.0 891.5 930.2 891.9 927.9 892.3 925.1 892.7 921.8 893.0 918.1 893.4 913.8 893.8 909.1 894.1 903.9 894.5 898.1 894.9 891.9 895.3 885.1 895.6 877.8 896.0 870.0 896.4 861.7 896.7 852.8 897.1 843.3 897.5 833.4 897.9 822.8 898.2 811.7 898.6 800.1 899.0 787.8 899.4 775.0 899.7 761.7 899.9 754.8" fill="none" stroke="#0000ff" stroke-width="3.1" stroke-linejoin="round" stroke-linecap="butt"/>
<text transform="translate(403.60 1047.51) scale(1.1536 0.9906)" font-size="50.5" fill="#262626" stroke="#fff" stroke-width="0.7">date</text>
<text transform="translate(519.96 1048.09) scale(0.9175 1.0985)" font-size="50.5" fill="#262626" stroke="#fff" stroke-width="0.7">(</text>
<text transform="translate(536.95 1047.36) scale(1.0567 0.9483)" font-size="50.5" fill="#262626" stroke="#fff" stroke-width="0.7">year</text>
<text transform="translate(631.32 1048.09) scale(0.9098 1.0985)" font-size="50.5" fill="#262626" stroke="#fff" stroke-width="0.7">)</text>
<text transform="translate(60.80 983.50) rotate(-90) translate(-2.16 -0.00) scale(1.0445 1.0168)" font-size="50.5" fill="#0000ff" stroke="#fff" stroke-width="0.7">CNB-X</text>
<text transform="translate(60.80 983.50) rotate(-90) translate(183.15 0.61) scale(0.8789 1.0963)" font-size="50.5" fill="#0000ff" stroke="#fff" stroke-width="0.7">(</text>
<text transform="translate(60.80 983.50) rotate(-90) translate(199.69 0.00) scale(1.1275 1.0222)" font-size="50.5" fill="#0000ff" stroke="#fff" stroke-width="0.7">nT</text>
<text transform="translate(60.80 983.50) rotate(-90) translate(265.79 0.61) scale(0.8635 1.0963)" font-size="50.5" fill="#0000ff" stroke="#fff" stroke-width="0.7">)</text>
</g>
</svg>
</body></html>
